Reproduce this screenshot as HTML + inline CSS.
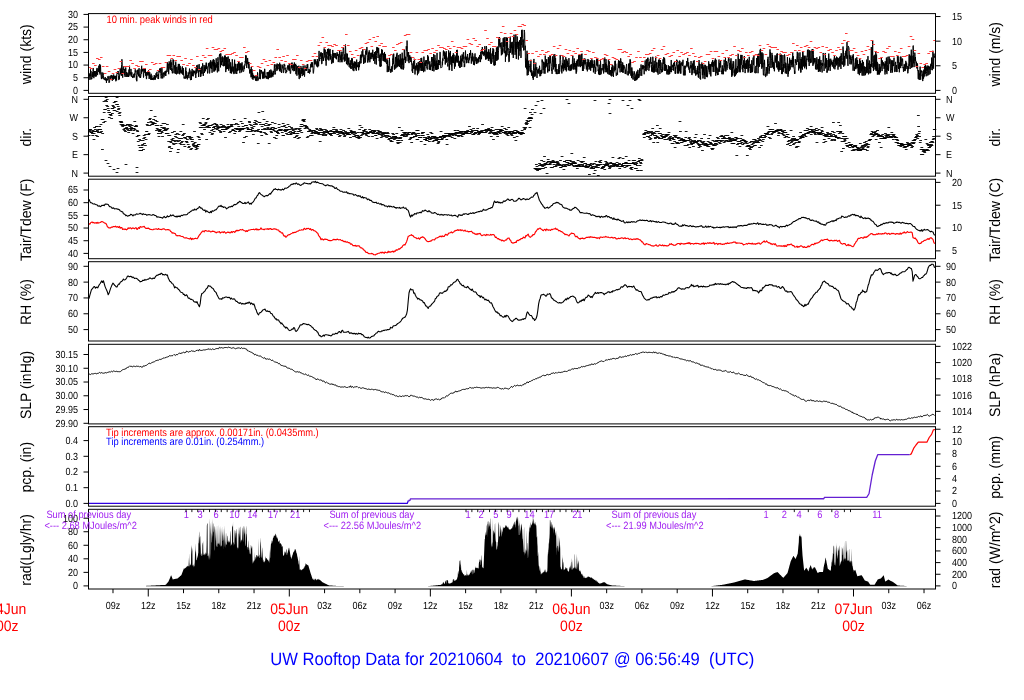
<!DOCTYPE html>
<html><head><meta charset="utf-8"><title>UW Rooftop Data</title>
<style>html,body{margin:0;padding:0;background:#fff;}svg{display:block;}</style></head>
<body><svg width="1024" height="700" viewBox="0 0 1024 700" font-family="'Liberation Sans', Arial, sans-serif" fill="#000" text-rendering="geometricPrecision">
<rect width="1024" height="700" fill="#fff"/>
<path d="M88.8,78.97 L89,79.84 L89.19,73.41 L89.39,76.19 L89.58,75.49 L89.78,74.73 L89.98,78.64 L90.17,79.55 L90.37,73.64 L90.56,69.41 L90.76,76.09 L90.96,71.08 L91.15,74 L91.35,79.25 L91.54,78.33 L91.74,79.15 L91.94,78.73 L92.13,75.63 L92.33,74.16 L92.52,77.04 L92.72,72.13 L92.92,76.01 L93.11,67.98 L93.31,68.95 L93.5,75.02 L93.7,77.48 L93.9,78.17 L94.09,72.36 L94.29,72.82 L94.48,71.01 L94.68,75.46 L94.88,76.32 L95.07,72.73 L95.27,76.49 L95.46,72.45 L95.66,71.06 L95.85,72.45 L96.05,72.02 L96.25,76.45 L96.44,74.24 L96.64,69.72 L96.83,70.28 L97.03,67.93 L97.23,71.59 L97.42,74.85 L97.62,75.1 L97.81,70.87 L98.01,69.47 L98.21,68.55 L98.4,71.9 L98.6,68.54 L98.79,65.79 L98.99,65.58 L99.19,70.87 L99.38,68.36 L99.58,72.81 L99.77,64.02 L99.97,74.47 L100.17,69.44 L100.36,69.17 L100.56,65.3 L100.75,71.82 L100.95,73.05 L101.15,76.63 L101.34,78.51 L101.54,79.1 L101.73,74.63 L101.93,72.46 L102.13,72.33 L102.32,78.42 L102.52,78.06 L102.71,77.16 L102.91,75.3 L103.11,72.81 L103.3,75.36 L103.5,75.58 L103.69,79.14 L103.89,78.89 L104.09,78.24 L104.28,79.89 L104.48,79.78 L104.67,78.88 L104.87,78.49 L105.07,77.55 L105.26,77.02 L105.46,80.29 L105.65,80.05 L105.85,79.04 L106.05,80.4 L106.24,78.41 L106.44,82.86 L106.63,78.91 L106.83,78.74 L107.03,78.99 L107.22,79.92 L107.42,80.38 L107.61,78.34 L107.81,76.57 L108.01,75.97 L108.2,76.02 L108.4,78.23 L108.59,77.55 L108.79,80.84 L108.99,82.93 L109.18,82.63 L109.38,82.43 L109.57,82.15 L109.77,76.89 L109.96,75.93 L110.16,76.77 L110.36,77.76 L110.55,78.42 L110.75,79.68 L110.94,75.54 L111.14,77.91 L111.34,75.38 L111.53,76.65 L111.73,76.34 L111.92,74.91 L112.12,77.64 L112.32,80.81 L112.51,76.26 L112.71,77.11 L112.9,76.06 L113.1,79.88 L113.3,78.5 L113.49,79.12 L113.69,74.48 L113.88,78.94 L114.08,76.87 L114.28,76.55 L114.47,78.44 L114.67,75.83 L114.86,77.19 L115.06,76.77 L115.26,77.92 L115.45,79.49 L115.65,76 L115.84,81.28 L116.04,80.41 L116.24,75.5 L116.43,78.83 L116.63,80.26 L116.82,73.97 L117.02,73.67 L117.22,72.52 L117.41,74 L117.61,72.13 L117.8,71.43 L118,73.9 L118.2,71.09 L118.39,75.49 L118.59,76.88 L118.78,79.93 L118.98,79.86 L119.18,75.79 L119.37,79.09 L119.57,76.25 L119.76,73.19 L119.96,72.69 L120.16,68.72 L120.35,70.91 L120.55,72.02 L120.74,74.32 L120.94,70.79 L121.14,67.8 L121.33,75.83 L121.53,66.05 L121.72,64.61 L121.92,59.25 L122.12,62.85 L122.31,67.73 L122.51,72.31 L122.7,77.68 L122.9,71.67 L123.09,73.01 L123.29,67.49 L123.49,66.46 L123.68,66.48 L123.88,70 L124.07,69.05 L124.27,71.03 L124.47,74.57 L124.66,75.18 L124.86,69.29 L125.05,76.86 L125.25,69.79 L125.45,70.83 L125.64,67.59 L125.84,67.5 L126.03,71.28 L126.23,76.91 L126.43,73.68 L126.62,72.05 L126.82,74.83 L127.01,73.24 L127.21,76.94 L127.41,75.53 L127.6,76.03 L127.8,73.53 L127.99,72.67 L128.19,73.39 L128.39,76.99 L128.58,74.82 L128.78,76.67 L128.97,69.5 L129.17,73.55 L129.37,71.22 L129.56,65.76 L129.76,75.26 L129.95,74.89 L130.15,75.39 L130.35,72.34 L130.54,72.54 L130.74,74.14 L130.93,68.92 L131.13,71.13 L131.33,76.72 L131.52,72.85 L131.72,73.47 L131.91,72.33 L132.11,75.64 L132.31,76.57 L132.5,77.69 L132.7,76.26 L132.89,77.84 L133.09,77.88 L133.29,75.41 L133.48,76.8 L133.68,75.75 L133.87,73.88 L134.07,75.51 L134.27,77.51 L134.46,73.47 L134.66,75.15 L134.85,75.21 L135.05,70.26 L135.25,69.3 L135.44,70.51 L135.64,72.25 L135.83,72.29 L136.03,70.47 L136.23,78.15 L136.42,80.08 L136.62,75.71 L136.81,81.25 L137.01,75.65 L137.2,73.06 L137.4,70.38 L137.6,70.13 L137.79,74.34 L137.99,69.64 L138.18,72.53 L138.38,73.59 L138.58,76.23 L138.77,71.32 L138.97,68.42 L139.16,68.17 L139.36,76.66 L139.56,77.44 L139.75,75.43 L139.95,74.77 L140.14,74.17 L140.34,75.47 L140.54,77.99 L140.73,76.98 L140.93,75.03 L141.12,69.22 L141.32,73.77 L141.52,66.76 L141.71,65.78 L141.91,71.63 L142.1,71.49 L142.3,68.99 L142.5,69.29 L142.69,70.98 L142.89,68.82 L143.08,72.32 L143.28,72.68 L143.48,77.59 L143.67,77.06 L143.87,68.88 L144.06,70.58 L144.26,69.7 L144.46,68.8 L144.65,71.19 L144.85,72.64 L145.04,70.61 L145.24,73.15 L145.44,68.66 L145.63,75.62 L145.83,72.28 L146.02,75.17 L146.22,76.25 L146.42,79.12 L146.61,78.42 L146.81,71.98 L147,75.44 L147.2,74.01 L147.4,74.25 L147.59,72.48 L147.79,71.74 L147.98,71.69 L148.18,75.47 L148.38,72.95 L148.57,70.45 L148.77,73.96 L148.96,74.46 L149.16,78.99 L149.36,74.86 L149.55,75.41 L149.75,72.24 L149.94,77.73 L150.14,76.92 L150.33,75.38 L150.53,75.71 L150.73,79.78 L150.92,76.49 L151.12,73.75 L151.31,76.53 L151.51,79.78 L151.71,77.45 L151.9,75.58 L152.1,79.39 L152.29,79.78 L152.49,78.41 L152.69,79.78 L152.88,78.22 L153.08,79.78 L153.27,79.78 L153.47,79.78 L153.67,77.48 L153.86,78.62 L154.06,77.51 L154.25,75.06 L154.45,77.76 L154.65,79.56 L154.84,76.33 L155.04,79.48 L155.23,76.32 L155.43,79.4 L155.63,76.1 L155.82,76.53 L156.02,73.28 L156.21,77.53 L156.41,76.16 L156.61,73.23 L156.8,73.03 L157,71.77 L157.19,76.1 L157.39,75.78 L157.59,76 L157.78,74.85 L157.98,78.92 L158.17,78.93 L158.37,73.86 L158.57,78.94 L158.76,74.84 L158.96,71.03 L159.15,72.29 L159.35,71.15 L159.55,68.67 L159.74,72.05 L159.94,72.18 L160.13,71.71 L160.33,68.18 L160.53,71.7 L160.72,73.18 L160.92,76.49 L161.11,78.47 L161.31,78.32 L161.51,75.25 L161.7,68.79 L161.9,67.48 L162.09,68.8 L162.29,73.78 L162.49,76.65 L162.68,78.43 L162.88,73.94 L163.07,73.1 L163.27,74.17 L163.47,72.55 L163.66,72.79 L163.86,77.32 L164.05,76.39 L164.25,72.65 L164.44,72.9 L164.64,72.87 L164.84,74.7 L165.03,71.3 L165.23,75.51 L165.42,71.45 L165.62,71.19 L165.82,75.91 L166.01,70.77 L166.21,72.58 L166.4,70.71 L166.6,69.88 L166.8,69.99 L166.99,69.33 L167.19,64.98 L167.38,62.16 L167.58,68.73 L167.78,68.91 L167.97,71.9 L168.17,63.79 L168.36,66.69 L168.56,73.3 L168.76,74.19 L168.95,67.87 L169.15,61.35 L169.34,65.23 L169.54,64.27 L169.74,64.7 L169.93,68.56 L170.13,62.91 L170.32,69.96 L170.52,65.79 L170.72,59.58 L170.91,60.23 L171.11,65.29 L171.3,62.34 L171.5,67.78 L171.7,70.85 L171.89,68.65 L172.09,71.07 L172.28,73.29 L172.48,73.28 L172.68,70.55 L172.87,67.07 L173.07,59.32 L173.26,64.78 L173.46,63.61 L173.66,60.02 L173.85,70.57 L174.05,73.22 L174.24,69.68 L174.44,65.39 L174.64,66.98 L174.83,68.91 L175.03,70.97 L175.22,73.55 L175.42,73.81 L175.62,62.42 L175.81,61.64 L176.01,66.08 L176.2,72.76 L176.4,74.26 L176.6,74.36 L176.79,67.01 L176.99,69.28 L177.18,69.53 L177.38,72.28 L177.57,73.52 L177.77,70.31 L177.97,66.03 L178.16,65.76 L178.36,63.91 L178.55,69.98 L178.75,70.05 L178.95,73.67 L179.14,66.32 L179.34,63.93 L179.53,70.84 L179.73,74.27 L179.93,71.32 L180.12,65.89 L180.32,71.18 L180.51,67.87 L180.71,72.66 L180.91,69.97 L181.1,72.18 L181.3,71.3 L181.49,73.42 L181.69,69.57 L181.89,68.98 L182.08,67.18 L182.28,66.44 L182.47,66.53 L182.67,74.32 L182.87,69.76 L183.06,74.69 L183.26,68.02 L183.45,73.56 L183.65,75.21 L183.85,76.51 L184.04,78.46 L184.24,78.51 L184.43,77.11 L184.63,76.68 L184.83,76.78 L185.02,76.99 L185.22,78.76 L185.41,69.84 L185.61,73.8 L185.81,67.46 L186,77.8 L186.2,71.11 L186.39,76.62 L186.59,78.05 L186.79,77.68 L186.98,75.26 L187.18,79.25 L187.37,79.3 L187.57,75.5 L187.77,75.6 L187.96,76.45 L188.16,72.4 L188.35,73.05 L188.55,76.11 L188.75,76.6 L188.94,78.1 L189.14,71.6 L189.33,70.48 L189.53,68.58 L189.73,73.67 L189.92,70.28 L190.12,75.06 L190.31,78.86 L190.51,80.08 L190.71,80.05 L190.9,78.03 L191.1,71.55 L191.29,74.69 L191.49,79.89 L191.68,73.5 L191.88,70.55 L192.08,68.89 L192.27,69.05 L192.47,74.69 L192.66,76.09 L192.86,72.68 L193.06,76.18 L193.25,76.28 L193.45,70.49 L193.64,72.73 L193.84,72.14 L194.04,71.07 L194.23,73.28 L194.43,72.32 L194.62,71.34 L194.82,73.05 L195.02,70.59 L195.21,74.58 L195.41,74.9 L195.6,73.32 L195.8,77.92 L196,71.33 L196.19,68.17 L196.39,73.48 L196.58,65.43 L196.78,66.19 L196.98,69.54 L197.17,70.19 L197.37,71.22 L197.56,70.32 L197.76,64.84 L197.96,65.47 L198.15,72.84 L198.35,70.81 L198.54,77.03 L198.74,72.27 L198.94,69.38 L199.13,64.15 L199.33,67.34 L199.52,67.39 L199.72,67.22 L199.92,71.68 L200.11,68.09 L200.31,76.75 L200.5,73.79 L200.7,70.02 L200.9,76.46 L201.09,72.2 L201.29,73.38 L201.48,69.51 L201.68,66.66 L201.88,66.51 L202.07,73.67 L202.27,68.82 L202.46,66.74 L202.66,63.31 L202.86,70.39 L203.05,74.92 L203.25,76.01 L203.44,75.49 L203.64,71.27 L203.84,69.2 L204.03,64.96 L204.23,68.64 L204.42,72.99 L204.62,67 L204.82,68.9 L205.01,69.08 L205.21,65.55 L205.4,71.3 L205.6,68.12 L205.79,66.79 L205.99,64.72 L206.19,62.57 L206.38,69.07 L206.58,63.11 L206.77,68.54 L206.97,66.47 L207.17,68.83 L207.36,70.52 L207.56,73.37 L207.75,73.37 L207.95,69.02 L208.15,66.72 L208.34,65.74 L208.54,63.42 L208.73,66.38 L208.93,65.19 L209.13,62.84 L209.32,72.36 L209.52,73.37 L209.71,73.37 L209.91,69.52 L210.11,61.78 L210.3,66.26 L210.5,68.2 L210.69,60.17 L210.89,63.2 L211.09,64.1 L211.28,66.95 L211.48,65.8 L211.67,69.01 L211.87,61.67 L212.07,72.75 L212.26,63.89 L212.46,62.45 L212.65,61.88 L212.85,64.54 L213.05,59.75 L213.24,66.34 L213.44,59.3 L213.63,59.99 L213.83,71.63 L214.03,59.89 L214.22,65.23 L214.42,62.11 L214.61,71.29 L214.81,67.51 L215.01,62.88 L215.2,67.89 L215.4,64.81 L215.59,70.25 L215.79,66.95 L215.99,64.59 L216.18,58.32 L216.38,63.79 L216.57,67.52 L216.77,64.71 L216.97,64.8 L217.16,69.17 L217.36,72.38 L217.55,61.93 L217.75,61.63 L217.95,57.32 L218.14,60.36 L218.34,61.61 L218.53,65.33 L218.73,71.27 L218.92,62.08 L219.12,60.39 L219.32,55.79 L219.51,54.39 L219.71,55.97 L219.9,53.86 L220.1,57.59 L220.3,64.19 L220.49,67.37 L220.69,53.34 L220.88,53.45 L221.08,61.5 L221.28,65.13 L221.47,61.1 L221.67,65.05 L221.86,57.35 L222.06,58.92 L222.26,60.24 L222.45,62.15 L222.65,56.44 L222.84,59.92 L223.04,65.88 L223.24,64.53 L223.43,65.94 L223.63,66.26 L223.82,57.53 L224.02,58.94 L224.22,65.88 L224.41,60.32 L224.61,55.68 L224.8,56.59 L225,65.72 L225.2,55.52 L225.39,56.64 L225.59,62.65 L225.78,72.08 L225.98,66.73 L226.18,67.26 L226.37,57.32 L226.57,69.31 L226.76,58.67 L226.96,58.96 L227.16,57.35 L227.35,68.73 L227.55,69 L227.74,60.53 L227.94,61.69 L228.14,56.43 L228.33,65.38 L228.53,66.93 L228.72,70.64 L228.92,64.56 L229.12,66.24 L229.31,58.92 L229.51,59.77 L229.7,62.19 L229.9,68.59 L230.1,65.94 L230.29,73.1 L230.49,71.56 L230.68,62.34 L230.88,66.44 L231.08,73.27 L231.27,73.31 L231.47,68.21 L231.66,73.39 L231.86,66.61 L232.06,70.98 L232.25,59.26 L232.45,61.23 L232.64,62.89 L232.84,68.25 L233.03,71.87 L233.23,66.64 L233.43,71.09 L233.62,73.81 L233.82,73.85 L234.01,73.89 L234.21,73.82 L234.41,65.04 L234.6,59.72 L234.8,64.88 L234.99,72.18 L235.19,73.55 L235.39,64.42 L235.58,63.87 L235.78,71.31 L235.97,71.02 L236.17,68.48 L236.37,73.17 L236.56,72.67 L236.76,73.97 L236.95,72.54 L237.15,64.05 L237.35,71.06 L237.54,63.81 L237.74,67.35 L237.93,68.87 L238.13,70.38 L238.33,68.48 L238.52,61.03 L238.72,64.09 L238.91,61.73 L239.11,70.2 L239.31,70.14 L239.5,63.78 L239.7,63.49 L239.89,73.16 L240.09,68.89 L240.29,65.74 L240.48,69.54 L240.68,63.37 L240.87,63.35 L241.07,67.32 L241.27,63.83 L241.46,72.32 L241.66,72.34 L241.85,69.78 L242.05,62.34 L242.25,70.12 L242.44,70.16 L242.64,66.67 L242.83,68.25 L243.03,71.71 L243.23,71.62 L243.42,71.53 L243.62,71.44 L243.81,71.34 L244.01,65.57 L244.21,68.77 L244.4,69.13 L244.6,65.65 L244.79,64.52 L244.99,65.42 L245.19,61.12 L245.38,61.99 L245.58,55.43 L245.77,63.27 L245.97,58.29 L246.16,55.46 L246.36,63.43 L246.56,64.6 L246.75,68 L246.95,61.07 L247.14,64.1 L247.34,62.14 L247.54,57.96 L247.73,58.46 L247.93,63.55 L248.12,62.07 L248.32,65.18 L248.52,61.94 L248.71,68.38 L248.91,62.12 L249.1,64.13 L249.3,69.34 L249.5,69.9 L249.69,73.51 L249.89,73.29 L250.08,69.18 L250.28,70.84 L250.48,72.4 L250.67,69.7 L250.87,72.82 L251.06,77.34 L251.26,66.96 L251.46,76.93 L251.65,73.23 L251.85,73.86 L252.04,69.32 L252.24,78.9 L252.44,77.15 L252.63,72.92 L252.83,75.26 L253.02,79.72 L253.22,74.87 L253.42,76 L253.61,78.03 L253.81,77.02 L254,76.03 L254.2,75.84 L254.4,76.45 L254.59,77.78 L254.79,76.46 L254.98,78.3 L255.18,76.26 L255.38,79.88 L255.57,79.11 L255.77,80.75 L255.96,78.56 L256.16,80.43 L256.36,76.63 L256.55,76.41 L256.75,78.55 L256.94,81.09 L257.14,79.89 L257.34,78.61 L257.53,72.35 L257.73,73.23 L257.92,80.21 L258.12,80.43 L258.32,80.32 L258.51,79.3 L258.71,78.55 L258.9,79.05 L259.1,77.32 L259.3,78.78 L259.49,73.97 L259.69,69.35 L259.88,69.72 L260.08,69.98 L260.27,72.75 L260.47,79.17 L260.67,76.1 L260.86,70.18 L261.06,71.9 L261.25,71.91 L261.45,70.07 L261.65,71.8 L261.84,72.96 L262.04,73.65 L262.23,71.66 L262.43,74.23 L262.63,78.63 L262.82,73.8 L263.02,72.46 L263.21,76.14 L263.41,73.94 L263.61,78.38 L263.8,71.68 L264,77.44 L264.19,78.24 L264.39,75.86 L264.59,68.89 L264.78,68.89 L264.98,71.93 L265.17,74.15 L265.37,77.09 L265.57,76.23 L265.76,76.03 L265.96,77.49 L266.15,75.83 L266.35,78.69 L266.55,76.13 L266.74,77.72 L266.94,75.58 L267.13,72.17 L267.33,73.94 L267.53,72.45 L267.72,78.8 L267.92,79.08 L268.11,76.68 L268.31,79.18 L268.51,76.79 L268.7,71.97 L268.9,77.19 L269.09,71.64 L269.29,77.94 L269.49,73 L269.68,70.26 L269.88,74.54 L270.07,73.46 L270.27,77.55 L270.47,74.98 L270.66,74.45 L270.86,69.55 L271.05,73.61 L271.25,73.47 L271.45,72.48 L271.64,77.37 L271.84,70.68 L272.03,71.79 L272.23,75.97 L272.43,72.78 L272.62,76 L272.82,76.76 L273.01,76.56 L273.21,74.17 L273.4,74.95 L273.6,70.95 L273.8,72.9 L273.99,71.72 L274.19,68.86 L274.38,64.32 L274.58,68.54 L274.78,72.11 L274.97,74.53 L275.17,73.14 L275.36,74.12 L275.56,72.3 L275.76,67.4 L275.95,64.35 L276.15,66.21 L276.34,65.31 L276.54,68.31 L276.74,67.76 L276.93,70.91 L277.13,63.52 L277.32,65.32 L277.52,66.6 L277.72,69.67 L277.91,65.87 L278.11,65.94 L278.3,64.13 L278.5,66.62 L278.7,67.71 L278.89,68.92 L279.09,68.41 L279.28,67.81 L279.48,71.23 L279.68,62.73 L279.87,69.85 L280.07,68.88 L280.26,65.46 L280.46,70.49 L280.66,64.37 L280.85,65.21 L281.05,71.96 L281.24,70.61 L281.44,73.01 L281.64,71.64 L281.83,68.46 L282.03,67.11 L282.22,64.7 L282.42,67.31 L282.62,68.32 L282.81,67.26 L283.01,66.42 L283.2,72.5 L283.4,72.87 L283.6,72.85 L283.79,68.17 L283.99,64.08 L284.18,63.83 L284.38,66.06 L284.58,65.83 L284.77,64.76 L284.97,69.62 L285.16,67.8 L285.36,71.74 L285.56,72.95 L285.75,73.01 L285.95,73.06 L286.14,73.12 L286.34,72.33 L286.54,70.35 L286.73,71.95 L286.93,69.64 L287.12,67.26 L287.32,67.48 L287.51,67.47 L287.71,65.45 L287.91,69.67 L288.1,69.62 L288.3,67.75 L288.49,65.53 L288.69,68.94 L288.89,67.78 L289.08,70.69 L289.28,64.03 L289.47,70.44 L289.67,66.76 L289.87,69.42 L290.06,70.53 L290.26,73.57 L290.45,73.51 L290.65,73.46 L290.85,68.97 L291.04,65.57 L291.24,66.22 L291.43,66.83 L291.63,63.27 L291.83,68.33 L292.02,62.48 L292.22,64.44 L292.41,68.37 L292.61,70.34 L292.81,69.04 L293,68.6 L293.2,65.94 L293.39,67.81 L293.59,64.56 L293.79,71.23 L293.98,70.53 L294.18,65.6 L294.37,62.46 L294.57,70.97 L294.77,64.28 L294.96,66.18 L295.16,65.23 L295.35,65.49 L295.55,64.16 L295.75,63.84 L295.94,74.25 L296.14,65.14 L296.33,69.05 L296.53,68.47 L296.73,74.81 L296.92,75.7 L297.12,75.12 L297.31,66.37 L297.51,67.39 L297.71,66.45 L297.9,66.48 L298.1,67.68 L298.29,71.65 L298.49,70.2 L298.69,74.55 L298.88,65.7 L299.08,78.88 L299.27,79.04 L299.47,68.59 L299.67,73.05 L299.86,72.67 L300.06,75.61 L300.25,74.68 L300.45,77.67 L300.64,69.66 L300.84,66.15 L301.04,66.11 L301.23,69.26 L301.43,71.84 L301.62,73.72 L301.82,68.11 L302.02,69.65 L302.21,76.1 L302.41,69.17 L302.6,68.7 L302.8,72.34 L303,65.72 L303.19,65.68 L303.39,75.1 L303.58,74.46 L303.78,74 L303.98,69.81 L304.17,73.11 L304.37,75.21 L304.56,76.64 L304.76,73.06 L304.96,65.42 L305.15,67.48 L305.35,69.24 L305.54,68.86 L305.74,70.96 L305.94,70.7 L306.13,69.84 L306.33,67.12 L306.52,70.83 L306.72,70.35 L306.92,66.51 L307.11,64.52 L307.31,67.31 L307.5,67.98 L307.7,64.1 L307.9,66.74 L308.09,72.98 L308.29,71.88 L308.48,71.43 L308.68,72.97 L308.88,71.4 L309.07,69.01 L309.27,71.35 L309.46,73.42 L309.66,73.54 L309.86,69.96 L310.05,71.93 L310.25,67.45 L310.44,67.68 L310.64,66.03 L310.84,64.13 L311.03,67.37 L311.23,63.53 L311.42,62.35 L311.62,67.09 L311.82,66.89 L312.01,65.78 L312.21,67.08 L312.4,62.3 L312.6,66.66 L312.8,66.34 L312.99,68.53 L313.19,73.26 L313.38,73.42 L313.58,72.37 L313.78,69.96 L313.97,67.83 L314.17,59.66 L314.36,59.36 L314.56,61.62 L314.75,64.42 L314.95,61.21 L315.15,64.15 L315.34,59.41 L315.54,61.52 L315.73,62.91 L315.93,63.03 L316.13,63.62 L316.32,65.53 L316.52,65.68 L316.71,65.68 L316.91,61.26 L317.11,66.75 L317.3,59 L317.5,66.54 L317.69,67.27 L317.89,66.91 L318.09,61.67 L318.28,65.87 L318.48,66.16 L318.67,65.88 L318.87,54.6 L319.07,50.9 L319.26,58.62 L319.46,59.86 L319.65,61.12 L319.85,58.05 L320.05,58.99 L320.24,54.05 L320.44,55.45 L320.63,53.26 L320.83,56.48 L321.03,52.08 L321.22,53.98 L321.42,53.49 L321.61,63.87 L321.81,63.96 L322.01,63.89 L322.2,59.6 L322.4,58.84 L322.59,53 L322.79,57.81 L322.99,56.88 L323.18,60.97 L323.38,58.03 L323.57,60.62 L323.77,57.2 L323.97,48.77 L324.16,48.41 L324.36,48.9 L324.55,54.76 L324.75,49.78 L324.95,57.61 L325.14,49.66 L325.34,59.07 L325.53,60.41 L325.73,60.77 L325.93,58.23 L326.12,65.63 L326.32,55.29 L326.51,57.72 L326.71,51.91 L326.91,52.66 L327.1,53.35 L327.3,52.55 L327.49,48.95 L327.69,55.55 L327.88,59.56 L328.08,56.81 L328.28,57.01 L328.47,59.66 L328.67,48.6 L328.86,60.51 L329.06,54.35 L329.26,50.36 L329.45,56.07 L329.65,53.34 L329.84,55.37 L330.04,48.99 L330.24,59.46 L330.43,56.61 L330.63,59.27 L330.82,54.23 L331.02,57 L331.22,56.57 L331.41,61.32 L331.61,63.74 L331.8,63.81 L332,60.8 L332.2,60.03 L332.39,62.38 L332.59,56.42 L332.78,49.95 L332.98,60.86 L333.18,62.73 L333.37,62.7 L333.57,53.11 L333.76,53.49 L333.96,57.47 L334.16,57.06 L334.35,55.07 L334.55,55.02 L334.74,52.95 L334.94,53.61 L335.14,57.96 L335.33,53.72 L335.53,54.35 L335.72,53.18 L335.92,54.68 L336.12,58.78 L336.31,56.95 L336.51,59.26 L336.7,54.27 L336.9,54.11 L337.1,52.3 L337.29,56 L337.49,53.81 L337.68,55.22 L337.88,56.04 L338.08,53.97 L338.27,62.1 L338.47,57.92 L338.66,55.76 L338.86,57.71 L339.06,56.82 L339.25,55.96 L339.45,51.88 L339.64,50.33 L339.84,60.95 L340.04,62.3 L340.23,58.76 L340.43,59.74 L340.62,55.1 L340.82,54.49 L341.02,53.54 L341.21,51.73 L341.41,55.93 L341.6,61.6 L341.8,54.35 L341.99,62.29 L342.19,60.18 L342.39,57.59 L342.58,56.63 L342.78,52.4 L342.97,53.15 L343.17,47.73 L343.37,47.52 L343.56,47.3 L343.76,50.48 L343.95,59.52 L344.15,56.86 L344.35,61.58 L344.54,59.33 L344.74,54.28 L344.93,55.99 L345.13,60.79 L345.33,45.13 L345.52,44.48 L345.72,51.23 L345.91,57.47 L346.11,61.17 L346.31,61.78 L346.5,64.16 L346.7,60.06 L346.89,53.33 L347.09,58.5 L347.29,53.98 L347.48,61.72 L347.68,58.62 L347.87,65.26 L348.07,57.93 L348.27,63.71 L348.46,60.58 L348.66,60.31 L348.85,57.64 L349.05,66.92 L349.25,66.76 L349.44,67.33 L349.64,66.69 L349.83,63.24 L350.03,65.51 L350.23,60.27 L350.42,62.24 L350.62,68.42 L350.81,66.85 L351.01,66.29 L351.21,68.96 L351.4,65.49 L351.6,58.2 L351.79,58.35 L351.99,59.19 L352.19,61.36 L352.38,58.47 L352.58,68.31 L352.77,69.12 L352.97,70.36 L353.17,66.57 L353.36,63.24 L353.56,66.33 L353.75,71.04 L353.95,71.16 L354.15,61.49 L354.34,65.32 L354.54,64.85 L354.73,67.97 L354.93,61.64 L355.12,65.64 L355.32,64.36 L355.52,61.96 L355.71,62.94 L355.91,69.37 L356.1,63.46 L356.3,70.77 L356.5,62.35 L356.69,59.59 L356.89,66.25 L357.08,65.47 L357.28,66.56 L357.48,67.2 L357.67,64.75 L357.87,63.29 L358.06,62.13 L358.26,65.48 L358.46,64.73 L358.65,70.26 L358.85,68.24 L359.04,62.05 L359.24,65.83 L359.44,67.13 L359.63,64.06 L359.83,61.13 L360.02,63.54 L360.22,59.02 L360.42,55.03 L360.61,59.72 L360.81,54.67 L361,63.21 L361.2,58.68 L361.4,58.06 L361.59,54.24 L361.79,53.82 L361.98,51.27 L362.18,52.25 L362.38,56.46 L362.57,55.72 L362.77,49.26 L362.96,53.57 L363.16,58.22 L363.36,58.58 L363.55,63.87 L363.75,58.93 L363.94,54.74 L364.14,55.18 L364.34,58.93 L364.53,57.84 L364.73,63.08 L364.92,62.94 L365.12,62.81 L365.32,60.55 L365.51,62.04 L365.71,51.09 L365.9,54.19 L366.1,49.36 L366.3,52.01 L366.49,54.55 L366.69,52.94 L366.88,46.98 L367.08,50.65 L367.28,57.2 L367.47,62.33 L367.67,61.59 L367.86,62.32 L368.06,62.31 L368.26,55.42 L368.45,60.25 L368.65,52.44 L368.84,60.12 L369.04,51.81 L369.23,50.35 L369.43,53.69 L369.63,52.39 L369.82,62.25 L370.02,60.85 L370.21,57.1 L370.41,57.4 L370.61,58.99 L370.8,52.91 L371,58.62 L371.19,59.11 L371.39,52.93 L371.59,53.28 L371.78,53.01 L371.98,57.16 L372.17,52.64 L372.37,52.14 L372.57,57.33 L372.76,49.74 L372.96,53.93 L373.15,59.16 L373.35,58.02 L373.55,60.87 L373.74,54.22 L373.94,58.99 L374.13,58.92 L374.33,56.07 L374.53,52.12 L374.72,60.24 L374.92,63.8 L375.11,53.35 L375.31,56.72 L375.51,59.07 L375.7,51.13 L375.9,55.41 L376.09,57.74 L376.29,64.54 L376.49,55.37 L376.68,47.23 L376.88,47.27 L377.07,48.36 L377.27,51.7 L377.47,47.45 L377.66,52.83 L377.86,49.79 L378.05,58.03 L378.25,50.55 L378.45,52.25 L378.64,47.83 L378.84,51.15 L379.03,56.34 L379.23,61.13 L379.43,57.45 L379.62,55.37 L379.82,66.37 L380.01,66.47 L380.21,53.66 L380.41,57.41 L380.6,66.76 L380.8,64.08 L380.99,65.03 L381.19,66.21 L381.39,62.01 L381.58,49.3 L381.78,53.98 L381.97,50.17 L382.17,53.21 L382.36,49.81 L382.56,55.22 L382.76,57.03 L382.95,60.67 L383.15,59.91 L383.34,54.03 L383.54,56.49 L383.74,61.19 L383.93,52.97 L384.13,54.53 L384.32,60.85 L384.52,51.97 L384.72,61.59 L384.91,59.12 L385.11,61.44 L385.3,57.59 L385.5,53.94 L385.7,62.25 L385.89,58.94 L386.09,61.72 L386.28,62.25 L386.48,63.76 L386.68,62.65 L386.87,61.46 L387.07,59.27 L387.26,72.14 L387.46,64.67 L387.66,60.45 L387.85,67.21 L388.05,65.91 L388.24,66.12 L388.44,71.53 L388.64,67.19 L388.83,71.65 L389.03,65.59 L389.22,63.59 L389.42,57.89 L389.62,61.4 L389.81,68.99 L390.01,69.82 L390.2,69.09 L390.4,70.64 L390.6,70.36 L390.79,72.77 L390.99,68.97 L391.18,71.39 L391.38,68.61 L391.58,69.85 L391.77,66.32 L391.97,71.52 L392.16,71.86 L392.36,69.35 L392.56,62.89 L392.75,58.63 L392.95,59.74 L393.14,54.72 L393.34,63.78 L393.54,60.59 L393.73,53.67 L393.93,63.91 L394.12,65.6 L394.32,69.7 L394.52,69.51 L394.71,64.87 L394.91,69.15 L395.1,66.4 L395.3,59.61 L395.5,56.91 L395.69,62.64 L395.89,68.24 L396.08,64.51 L396.28,63.07 L396.47,54.54 L396.67,61.84 L396.87,67.33 L397.06,52.79 L397.26,61.42 L397.45,60.84 L397.65,66.61 L397.85,58.73 L398.04,61.45 L398.24,66.07 L398.43,65.02 L398.63,57.41 L398.83,54.99 L399.02,61.91 L399.22,61.45 L399.41,67.03 L399.61,59.77 L399.81,60.17 L400,62.96 L400.2,53.94 L400.39,58 L400.59,65.17 L400.79,68.31 L400.98,66.07 L401.18,60.37 L401.37,69.19 L401.57,63.12 L401.77,58.58 L401.96,61.5 L402.16,52.69 L402.35,61.75 L402.55,64.6 L402.75,58 L402.94,69.28 L403.14,58.95 L403.33,69.51 L403.53,66.14 L403.73,68.3 L403.92,65.93 L404.12,54.05 L404.31,49.59 L404.51,53.06 L404.71,59.96 L404.9,59.53 L405.1,59.66 L405.29,56.7 L405.49,62.88 L405.69,57.01 L405.88,61.27 L406.08,58.66 L406.27,46.19 L406.47,50.57 L406.67,47.55 L406.86,48.3 L407.06,40.56 L407.25,45.73 L407.45,56.48 L407.65,52.34 L407.84,53.7 L408.04,60.98 L408.23,61.4 L408.43,52.98 L408.63,52.05 L408.82,56.36 L409.02,63.11 L409.21,55.52 L409.41,59.61 L409.61,59.86 L409.8,55.34 L410,59.14 L410.19,57.9 L410.39,57.07 L410.58,57.37 L410.78,61.95 L410.98,56.87 L411.17,57.86 L411.37,62.22 L411.56,61.07 L411.76,65.21 L411.96,65.25 L412.15,71.31 L412.35,68.92 L412.54,71.55 L412.74,72.93 L412.94,63.44 L413.13,68.59 L413.33,64.36 L413.52,61.04 L413.72,68.31 L413.92,67.01 L414.11,69.12 L414.31,58.69 L414.5,58.93 L414.7,61.21 L414.9,74.37 L415.09,74.47 L415.29,69.19 L415.48,65.73 L415.68,69.54 L415.88,68.94 L416.07,70.44 L416.27,65.74 L416.46,68.47 L416.66,63.22 L416.86,64.47 L417.05,66.44 L417.25,65.54 L417.44,75.2 L417.64,68.39 L417.84,65.11 L418.03,73.79 L418.23,62 L418.42,67.99 L418.62,71.5 L418.82,72.44 L419.01,69.44 L419.21,68.69 L419.4,61.12 L419.6,63.87 L419.8,67.25 L419.99,70.62 L420.19,62.85 L420.38,67.51 L420.58,62.64 L420.78,67.35 L420.97,58.06 L421.17,66.67 L421.36,70.92 L421.56,58.62 L421.76,57.84 L421.95,61.42 L422.15,61.29 L422.34,70.93 L422.54,62.15 L422.74,63.06 L422.93,66.88 L423.13,67.02 L423.32,67.24 L423.52,72.16 L423.71,62.59 L423.91,56.59 L424.11,60.87 L424.3,61.7 L424.5,62.89 L424.69,70.07 L424.89,71.38 L425.09,64.72 L425.28,60.29 L425.48,62.9 L425.67,66.01 L425.87,63.23 L426.07,62.9 L426.26,62.81 L426.46,60.22 L426.65,64.33 L426.85,68.06 L427.05,67.55 L427.24,69.61 L427.44,61.59 L427.63,55.08 L427.83,56.27 L428.03,64.15 L428.22,63.39 L428.42,56.62 L428.61,60.28 L428.81,61.36 L429.01,65.59 L429.2,69.32 L429.4,68.37 L429.59,69.44 L429.79,61.36 L429.99,69.33 L430.18,69.77 L430.38,65.8 L430.57,70 L430.77,70.11 L430.97,64.45 L431.16,66.64 L431.36,62.56 L431.55,56.99 L431.75,57.41 L431.95,60.46 L432.14,57 L432.34,71.01 L432.53,68.89 L432.73,70.71 L432.93,59.03 L433.12,64.27 L433.32,68.26 L433.51,67.42 L433.71,54 L433.91,71.36 L434.1,68.11 L434.3,59.7 L434.49,60.94 L434.69,66.07 L434.89,55.09 L435.08,58.99 L435.28,58.68 L435.47,65.58 L435.67,69.72 L435.87,64.1 L436.06,67.55 L436.26,61.38 L436.45,69.99 L436.65,60.63 L436.85,62.57 L437.04,52.87 L437.24,69.57 L437.43,67.45 L437.63,64.11 L437.82,63.17 L438.02,67.35 L438.22,69.1 L438.41,65.68 L438.61,59.92 L438.8,65.14 L439,63.66 L439.2,65.08 L439.39,60.59 L439.59,62.97 L439.78,59.46 L439.98,51.91 L440.18,52.66 L440.37,59.17 L440.57,60.12 L440.76,67.92 L440.96,67.83 L441.16,67.74 L441.35,67.65 L441.55,67.56 L441.74,67.55 L441.94,67.26 L442.14,66.54 L442.33,61.55 L442.53,64.72 L442.72,58.49 L442.92,60.83 L443.12,56.22 L443.31,50.84 L443.51,50.44 L443.7,54.82 L443.9,55.66 L444.1,55.6 L444.29,51.47 L444.49,58.94 L444.68,52.66 L444.88,55.37 L445.08,52.59 L445.27,64.49 L445.47,55.14 L445.66,61.82 L445.86,62.88 L446.06,62.62 L446.25,51.16 L446.45,61.16 L446.64,56.25 L446.84,62.09 L447.04,57.65 L447.23,62.72 L447.43,62.94 L447.62,63.25 L447.82,66.49 L448.02,63.28 L448.21,62.9 L448.41,61.55 L448.6,50.38 L448.8,56.48 L449,56.39 L449.19,70.2 L449.39,64.34 L449.58,70 L449.78,52.68 L449.98,58.74 L450.17,64.58 L450.37,50.98 L450.56,58.42 L450.76,57.09 L450.95,57.85 L451.15,62.07 L451.35,56.55 L451.54,66.34 L451.74,63.66 L451.93,70.95 L452.13,58.95 L452.33,62.7 L452.52,55 L452.72,61.97 L452.91,61.96 L453.11,62.8 L453.31,53.26 L453.5,63.1 L453.7,60.49 L453.89,57.03 L454.09,54.69 L454.29,63.81 L454.48,68.75 L454.68,62.62 L454.87,66.62 L455.07,57.49 L455.27,66.31 L455.46,57.06 L455.66,61.96 L455.85,55.61 L456.05,58.02 L456.25,61.13 L456.44,56.59 L456.64,50.07 L456.83,61.7 L457.03,62.73 L457.23,49.77 L457.42,61.91 L457.62,60.38 L457.81,62.23 L458.01,60.89 L458.21,57.95 L458.4,55.78 L458.6,57.02 L458.79,65.88 L458.99,61.29 L459.19,60.97 L459.38,67.07 L459.58,61.81 L459.77,67.77 L459.97,66.14 L460.17,67.71 L460.36,60.28 L460.56,63.48 L460.75,55.68 L460.95,65.58 L461.15,64.55 L461.34,61.79 L461.54,58.65 L461.73,66.91 L461.93,59.33 L462.13,54.39 L462.32,57.03 L462.52,59.11 L462.71,61.38 L462.91,55.1 L463.11,58.94 L463.3,52.71 L463.5,53.99 L463.69,52.32 L463.89,62.55 L464.09,61.51 L464.28,67.11 L464.48,63.98 L464.67,66.72 L464.87,63.07 L465.06,56.7 L465.26,58.65 L465.46,50.55 L465.65,53.87 L465.85,59.64 L466.04,56.58 L466.24,59.54 L466.44,63.16 L466.63,57.47 L466.83,57.19 L467.02,59.39 L467.22,60.07 L467.42,55.54 L467.61,54.01 L467.81,56.37 L468,62.74 L468.2,61.62 L468.4,60.22 L468.59,61.8 L468.79,63.15 L468.98,57.65 L469.18,60.3 L469.38,59.52 L469.57,53.01 L469.77,58.22 L469.96,53.07 L470.16,55.02 L470.36,53.89 L470.55,50.17 L470.75,54.41 L470.94,56.28 L471.14,58.1 L471.34,63.62 L471.53,57.16 L471.73,56.79 L471.92,61.42 L472.12,55.59 L472.32,52.91 L472.51,60.29 L472.71,53.69 L472.9,60.69 L473.1,61.15 L473.3,62.53 L473.49,64.7 L473.69,59.16 L473.88,56.64 L474.08,59.4 L474.28,65.09 L474.47,65.14 L474.67,59.95 L474.86,54.19 L475.06,53.42 L475.26,57.58 L475.45,57.72 L475.65,57.24 L475.84,61.31 L476.04,57.1 L476.24,63.55 L476.43,58.6 L476.63,63.9 L476.82,61.4 L477.02,59.45 L477.22,61.18 L477.41,58.87 L477.61,58.75 L477.8,63.23 L478,63.11 L478.19,57.91 L478.39,57.73 L478.59,61.87 L478.78,56.89 L478.98,58.51 L479.17,59.01 L479.37,59.04 L479.57,54.97 L479.76,55.38 L479.96,58.5 L480.15,62.12 L480.35,59.8 L480.55,61.95 L480.74,51.74 L480.94,57.63 L481.13,58.46 L481.33,57.46 L481.53,59.23 L481.72,54.17 L481.92,49.23 L482.11,53.29 L482.31,46.99 L482.51,50.62 L482.7,52.73 L482.9,54.42 L483.09,52.34 L483.29,54.11 L483.49,52.48 L483.68,53.19 L483.88,55.86 L484.07,51.55 L484.27,52.14 L484.47,51.7 L484.66,55.17 L484.86,46.15 L485.05,52.89 L485.25,57.08 L485.45,56.25 L485.64,59.56 L485.84,53.82 L486.03,50.47 L486.23,59.27 L486.43,46.03 L486.62,47.7 L486.82,56.51 L487.01,56.75 L487.21,52.37 L487.41,58.17 L487.6,52.35 L487.8,54.4 L487.99,58.7 L488.19,51.52 L488.39,60.86 L488.58,55.96 L488.78,49.22 L488.97,57.06 L489.17,54.7 L489.37,52.36 L489.56,59.05 L489.76,58.48 L489.95,56.26 L490.15,61.35 L490.35,51.06 L490.54,47.94 L490.74,61.88 L490.93,63.62 L491.13,53.5 L491.33,63.98 L491.52,61.11 L491.72,59.79 L491.91,62.4 L492.11,58.74 L492.3,59.18 L492.5,51.36 L492.7,56.04 L492.89,48.1 L493.09,48.83 L493.28,51.32 L493.48,58.43 L493.68,49.38 L493.87,65.25 L494.07,55.01 L494.26,59.97 L494.46,65.55 L494.66,62.5 L494.85,61.5 L495.05,63.27 L495.24,65.16 L495.44,61.94 L495.64,52.11 L495.83,59.51 L496.03,55.05 L496.22,54.24 L496.42,47.46 L496.62,53.45 L496.81,60.97 L497.01,55.49 L497.2,51.4 L497.4,59.79 L497.6,46.58 L497.79,54.32 L497.99,59.67 L498.18,59.28 L498.38,52.95 L498.58,50.23 L498.77,38.76 L498.97,37.21 L499.16,45.55 L499.36,37.31 L499.56,44.24 L499.75,37.85 L499.95,47.35 L500.14,43.95 L500.34,43.21 L500.54,46.56 L500.73,42.86 L500.93,48.98 L501.12,49.58 L501.32,55.3 L501.52,55.1 L501.71,44.52 L501.91,42.44 L502.1,42.16 L502.3,54.32 L502.5,52.73 L502.69,48.59 L502.89,51.58 L503.08,38.51 L503.28,38.2 L503.48,43.08 L503.67,46.97 L503.87,43.84 L504.06,37.56 L504.26,53.19 L504.46,42.4 L504.65,40.65 L504.85,46.18 L505.04,37.09 L505.24,49.6 L505.43,61.81 L505.63,51.19 L505.83,55.34 L506.02,54.06 L506.22,56.51 L506.41,48.62 L506.61,37.43 L506.81,46.07 L507,55.21 L507.2,50.83 L507.39,37.79 L507.59,42.99 L507.79,50.44 L507.98,48.3 L508.18,48.06 L508.37,53.68 L508.57,53.83 L508.77,61.91 L508.96,61.8 L509.16,61.69 L509.35,61.58 L509.55,50.26 L509.75,48.44 L509.94,43.45 L510.14,36.76 L510.33,36.77 L510.53,52.71 L510.73,51.05 L510.92,45.41 L511.12,48.13 L511.31,42.3 L511.51,47.15 L511.71,45.1 L511.9,48.04 L512.1,54.56 L512.29,41.82 L512.49,53.35 L512.69,51.71 L512.88,47.05 L513.08,49.81 L513.27,58.01 L513.47,48.91 L513.67,37.34 L513.86,41.74 L514.06,34.66 L514.25,42.14 L514.45,42.2 L514.65,43.83 L514.84,49.27 L515.04,54.84 L515.23,52.9 L515.43,42.19 L515.63,51.89 L515.82,34.39 L516.02,45.09 L516.21,58.23 L516.41,59.03 L516.61,43.49 L516.8,42.03 L517,47.23 L517.19,36.5 L517.39,40.49 L517.59,45.21 L517.78,45.49 L517.98,49.05 L518.17,44.65 L518.37,59.53 L518.57,41.8 L518.76,52.51 L518.96,54.6 L519.15,55.67 L519.35,46.2 L519.54,40.24 L519.74,43.1 L519.94,43.41 L520.13,51.07 L520.33,48.73 L520.52,37.21 L520.72,49.81 L520.92,57.97 L521.11,57.03 L521.31,42.54 L521.5,44.87 L521.7,30.2 L521.9,38.67 L522.09,29.74 L522.29,38.46 L522.48,42.19 L522.68,42.18 L522.88,47.61 L523.07,43.87 L523.27,39.55 L523.46,47.73 L523.66,50.43 L523.86,42.83 L524.05,37.48 L524.25,29.97 L524.44,31.64 L524.64,32.62 L524.84,43.18 L525.03,50.07 L525.23,45.73 L525.42,60.37 L525.62,67.44 L525.82,58.38 L526.01,60.62 L526.21,62.52 L526.4,60.47 L526.6,69.22 L526.8,58.6 L526.99,50.78 L527.19,75.45 L527.38,65.2 L527.58,53.25 L527.78,65.28 L527.97,73.72 L528.17,75.04 L528.36,73.43 L528.56,62.77 L528.76,60.66 L528.95,71.4 L529.15,66.74 L529.34,66.14 L529.54,66.39 L529.74,67.15 L529.93,65.73 L530.13,64.07 L530.32,65.77 L530.52,72.2 L530.72,67.8 L530.91,59.74 L531.11,67.7 L531.3,72.82 L531.5,75.61 L531.7,70.12 L531.89,70.87 L532.09,75.29 L532.28,73.08 L532.48,74.59 L532.67,74.18 L532.87,78.08 L533.07,71.5 L533.26,79.86 L533.46,70.31 L533.65,60.5 L533.85,59.06 L534.05,58.96 L534.24,70.65 L534.44,75.2 L534.63,72.69 L534.83,76.83 L535.03,68.45 L535.22,75.83 L535.42,67.56 L535.61,68.1 L535.81,62.54 L536.01,69.17 L536.2,68.42 L536.4,69.15 L536.59,69.83 L536.79,67.16 L536.99,77.99 L537.18,69.45 L537.38,71.16 L537.57,73.11 L537.77,70.92 L537.97,71.78 L538.16,72.3 L538.36,70.55 L538.55,68.84 L538.75,73.73 L538.95,73.24 L539.14,67.99 L539.34,68.24 L539.53,65.78 L539.73,67.94 L539.93,76.3 L540.12,70.17 L540.32,71.81 L540.51,70.74 L540.71,75.85 L540.91,71.27 L541.1,73.44 L541.3,72.28 L541.49,73.69 L541.69,69.75 L541.89,73.31 L542.08,59.45 L542.28,62.23 L542.47,60.4 L542.67,61.86 L542.87,63 L543.06,69.74 L543.26,70.09 L543.45,65.38 L543.65,61.81 L543.85,63.92 L544.04,73.48 L544.24,70.33 L544.43,67.58 L544.63,65.73 L544.83,62.5 L545.02,73.68 L545.22,55.62 L545.41,60.78 L545.61,68 L545.81,64.32 L546,61.77 L546.2,62.72 L546.39,60.26 L546.59,66.5 L546.78,59.12 L546.98,64.23 L547.18,63.87 L547.37,63.12 L547.57,72.06 L547.76,72.52 L547.96,69.17 L548.16,71.23 L548.35,57.07 L548.55,63.61 L548.74,63.59 L548.94,58.56 L549.14,65.23 L549.33,65.6 L549.53,71.13 L549.72,64.33 L549.92,55.77 L550.12,63.36 L550.31,60.19 L550.51,55.26 L550.7,58.9 L550.9,62.23 L551.1,63.25 L551.29,66.52 L551.49,70.77 L551.68,70.24 L551.88,69.59 L552.08,73.88 L552.27,67.27 L552.47,56.4 L552.66,60.71 L552.86,61.77 L553.06,59.65 L553.25,67.28 L553.45,69.4 L553.64,59.93 L553.84,54.44 L554.04,54.38 L554.23,60.21 L554.43,67.17 L554.62,63.4 L554.82,54.25 L555.02,55.36 L555.21,71.58 L555.41,63.25 L555.6,58.19 L555.8,68.93 L556,64.01 L556.19,73.94 L556.39,69.07 L556.58,73.96 L556.78,73.97 L556.98,73.97 L557.17,73.98 L557.37,73.48 L557.56,73.97 L557.76,73.95 L557.96,69.14 L558.15,73.92 L558.35,72.11 L558.54,69.49 L558.74,65.19 L558.94,64.13 L559.13,73.85 L559.33,73.45 L559.52,69.43 L559.72,65.84 L559.91,62.71 L560.11,55.01 L560.31,55.12 L560.5,59.57 L560.7,60.51 L560.89,64.81 L561.09,67.32 L561.29,71.58 L561.48,65.95 L561.68,67.96 L561.87,73.42 L562.07,65.1 L562.27,67.53 L562.46,68.48 L562.66,63.2 L562.85,66.24 L563.05,55.82 L563.25,70.15 L563.44,71.24 L563.64,70.87 L563.83,64.14 L564.03,68.4 L564.23,61.19 L564.42,59.82 L564.62,65.09 L564.81,68.01 L565.01,63.68 L565.21,70 L565.4,63.97 L565.6,65.95 L565.79,57.23 L565.99,65.03 L566.19,71.32 L566.38,71.32 L566.58,66.03 L566.77,59.18 L566.97,63.67 L567.17,63.19 L567.36,60.8 L567.56,65.59 L567.75,66.92 L567.95,62.91 L568.15,66.5 L568.34,70.34 L568.54,66.17 L568.73,64.81 L568.93,58.12 L569.13,64.38 L569.32,64.77 L569.52,65.43 L569.71,70.71 L569.91,71.06 L570.11,70.91 L570.3,66.85 L570.5,65.31 L570.69,65.75 L570.89,70.92 L571.09,65.05 L571.28,64.05 L571.48,69.55 L571.67,65.49 L571.87,69.48 L572.07,65.66 L572.26,65.68 L572.46,59.27 L572.65,58.1 L572.85,55.78 L573.05,68.58 L573.24,65.27 L573.44,63.4 L573.63,66.06 L573.83,69.74 L574.02,58.36 L574.22,58.51 L574.42,60.25 L574.61,66.63 L574.81,64.71 L575,69.09 L575.2,62.95 L575.4,66.4 L575.59,64.98 L575.79,69.63 L575.98,68.24 L576.18,73.68 L576.38,61.11 L576.57,72.18 L576.77,70.07 L576.96,62.85 L577.16,59.56 L577.36,59.52 L577.55,65.69 L577.75,65.43 L577.94,66.47 L578.14,60.14 L578.34,60.97 L578.53,59.05 L578.73,55.29 L578.92,66.41 L579.12,62.61 L579.32,54.99 L579.51,56.57 L579.71,56.65 L579.9,65.69 L580.1,60.4 L580.3,67.14 L580.49,60.94 L580.69,61.1 L580.88,55.13 L581.08,59.82 L581.28,66.09 L581.47,54.17 L581.67,54.9 L581.86,53.72 L582.06,53.65 L582.26,61.66 L582.45,70.95 L582.65,64.17 L582.84,65.39 L583.04,61.66 L583.24,70.93 L583.43,58.78 L583.63,65.11 L583.82,68.84 L584.02,64.9 L584.22,64.83 L584.41,64.1 L584.61,59.49 L584.8,58.32 L585,60.83 L585.2,64.31 L585.39,60.04 L585.59,60.68 L585.78,59.64 L585.98,66.42 L586.18,66.65 L586.37,69.44 L586.57,65.43 L586.76,64.92 L586.96,64.02 L587.15,62.05 L587.35,71.35 L587.55,63.36 L587.74,64.21 L587.94,58.97 L588.13,64.35 L588.33,62.84 L588.53,66.53 L588.72,59.86 L588.92,69.43 L589.11,68.81 L589.31,69.01 L589.51,68.56 L589.7,62.32 L589.9,66.32 L590.09,69.25 L590.29,69.81 L590.49,60.49 L590.68,70.78 L590.88,60.72 L591.07,68.05 L591.27,65.4 L591.47,66.23 L591.66,61.07 L591.86,59.18 L592.05,65.45 L592.25,67.71 L592.45,63.53 L592.64,65.97 L592.84,60.35 L593.03,65.4 L593.23,64.16 L593.43,72.35 L593.62,66.88 L593.82,67.08 L594.01,64.18 L594.21,64.33 L594.41,67.45 L594.6,60.28 L594.8,64.13 L594.99,71.75 L595.19,73.92 L595.39,67.26 L595.58,67.63 L595.78,71.8 L595.97,66.27 L596.17,65.14 L596.37,61.49 L596.56,59.37 L596.76,65.41 L596.95,57.85 L597.15,60.55 L597.35,61.95 L597.54,66.32 L597.74,59.22 L597.93,64.13 L598.13,70.85 L598.33,69.52 L598.52,73.71 L598.72,70.51 L598.91,74.59 L599.11,64.65 L599.31,66.63 L599.5,74.99 L599.7,68.19 L599.89,74.9 L600.09,74.79 L600.29,74.68 L600.48,60.1 L600.68,63.7 L600.87,67.29 L601.07,74.26 L601.26,73.4 L601.46,72.75 L601.66,71.89 L601.85,68.08 L602.05,70.37 L602.24,69.51 L602.44,68.7 L602.64,69.25 L602.83,67.92 L603.03,63.99 L603.22,68.68 L603.42,68.32 L603.62,73.48 L603.81,64.04 L604.01,68.46 L604.2,58.05 L604.4,61.42 L604.6,61.4 L604.79,57.51 L604.99,70.55 L605.18,72.23 L605.38,62.78 L605.58,69.49 L605.77,65.5 L605.97,59.12 L606.16,61.48 L606.36,72.14 L606.56,64.05 L606.75,68.71 L606.95,65.66 L607.14,72.42 L607.34,72.6 L607.54,71.44 L607.73,68 L607.93,74.08 L608.12,68.85 L608.32,60.24 L608.52,62.06 L608.71,60.74 L608.91,68.79 L609.1,74.68 L609.3,61.48 L609.5,69.94 L609.69,74.44 L609.89,73.67 L610.08,74.05 L610.28,72.26 L610.48,70 L610.67,73.5 L610.87,75.58 L611.06,70.36 L611.26,73.79 L611.46,76.35 L611.65,67.38 L611.85,74.67 L612.04,75.97 L612.24,64.69 L612.44,68.18 L612.63,73.07 L612.83,67.82 L613.02,73.22 L613.22,75.02 L613.42,77.01 L613.61,72.43 L613.81,72.66 L614,65.61 L614.2,71.36 L614.39,67.23 L614.59,69.3 L614.79,69.2 L614.98,60.95 L615.18,65.4 L615.37,60.75 L615.57,70.18 L615.77,63.74 L615.96,69.35 L616.16,75.74 L616.35,75.64 L616.55,74.55 L616.75,74.14 L616.94,72.66 L617.14,74.89 L617.33,74.93 L617.53,74.74 L617.73,69.06 L617.92,67.87 L618.12,63.91 L618.31,62.74 L618.51,60.29 L618.71,67.77 L618.9,64.01 L619.1,65.71 L619.29,68.28 L619.49,63.09 L619.69,60.81 L619.88,67.27 L620.08,72.39 L620.27,68.68 L620.47,63.65 L620.67,58.34 L620.86,60.43 L621.06,62.44 L621.25,61.61 L621.45,71.9 L621.65,67.46 L621.84,70.58 L622.04,64.14 L622.23,69.99 L622.43,72.39 L622.63,62.35 L622.82,62.99 L623.02,72.14 L623.21,72.79 L623.41,70.69 L623.61,64.96 L623.8,67.12 L624,65.54 L624.19,66.76 L624.39,67.34 L624.59,66.97 L624.78,69.73 L624.98,70.1 L625.17,73.77 L625.37,69.91 L625.57,69.67 L625.76,74.06 L625.96,68.03 L626.15,67.16 L626.35,66.18 L626.55,63.98 L626.74,65.55 L626.94,73.73 L627.13,74.75 L627.33,74.84 L627.53,74.94 L627.72,75.04 L627.92,74.83 L628.11,71.16 L628.31,75.33 L628.5,66.74 L628.7,63.58 L628.9,68.14 L629.09,64.25 L629.29,65.14 L629.48,63.26 L629.68,73.56 L629.88,70.16 L630.07,59.29 L630.27,64.36 L630.46,59.9 L630.66,63.26 L630.86,75.67 L631.05,70.56 L631.25,68.15 L631.44,70.56 L631.64,78.08 L631.84,67.41 L632.03,68.92 L632.23,76.19 L632.42,75.51 L632.62,71.44 L632.82,79.17 L633.01,78.71 L633.21,79.53 L633.4,75.19 L633.6,75.01 L633.8,73.54 L633.99,73.84 L634.19,71.27 L634.38,73.76 L634.58,72.62 L634.78,80.97 L634.97,76.91 L635.17,78.19 L635.36,80.51 L635.56,78.04 L635.76,75.69 L635.95,74.46 L636.15,77.51 L636.34,73.2 L636.54,80.19 L636.74,71.59 L636.93,73.28 L637.13,73.22 L637.32,79.32 L637.52,73.46 L637.72,69.91 L637.91,69.79 L638.11,70.17 L638.3,73.5 L638.5,78.09 L638.7,73.73 L638.89,76.67 L639.09,77.46 L639.28,73.7 L639.48,72.03 L639.68,68.37 L639.87,73.19 L640.07,75.74 L640.26,71.4 L640.46,69.69 L640.66,69.07 L640.85,67.98 L641.05,64.46 L641.24,67.55 L641.44,75.28 L641.64,75.73 L641.83,75.93 L642.03,68.34 L642.22,65.96 L642.42,68.15 L642.61,69.25 L642.81,64.93 L643.01,67.73 L643.2,68.17 L643.4,68.61 L643.59,65.52 L643.79,68.2 L643.99,70.44 L644.18,74.27 L644.38,68.68 L644.57,68.5 L644.77,66.18 L644.97,67.46 L645.16,60.51 L645.36,68.98 L645.55,70.45 L645.75,65.01 L645.95,69.58 L646.14,71.25 L646.34,59.27 L646.53,61.57 L646.73,66.3 L646.93,69.37 L647.12,70.02 L647.32,68.24 L647.51,58.04 L647.71,61.16 L647.91,57.63 L648.1,58.87 L648.3,61.3 L648.49,65.44 L648.69,64.3 L648.89,70.78 L649.08,68.53 L649.28,66.91 L649.47,61.79 L649.67,67.44 L649.87,63.21 L650.06,62.66 L650.26,58.87 L650.45,62.32 L650.65,57.11 L650.85,57.2 L651.04,64.01 L651.24,62.11 L651.43,64.58 L651.63,71.41 L651.83,68.17 L652.02,70.99 L652.22,71.91 L652.41,72 L652.61,66.22 L652.81,56.77 L653,59.66 L653.2,70.56 L653.39,72.49 L653.59,65.67 L653.79,69.46 L653.98,65.09 L654.18,60.83 L654.37,72.43 L654.57,64.34 L654.77,67.37 L654.96,71.53 L655.16,68.34 L655.35,63.61 L655.55,62.67 L655.74,56.59 L655.94,68.79 L656.14,71.94 L656.33,68.53 L656.53,62.67 L656.72,64.06 L656.92,62.42 L657.12,63.46 L657.31,72.67 L657.51,71.02 L657.7,68.32 L657.9,69.32 L658.1,74.67 L658.29,63.45 L658.49,59.85 L658.68,67.87 L658.88,63.31 L659.08,66.16 L659.27,59.42 L659.47,63.74 L659.66,66.76 L659.86,73.91 L660.06,70.66 L660.25,70.3 L660.45,60.04 L660.64,64.2 L660.84,69.73 L661.04,68.97 L661.23,69.27 L661.43,72.41 L661.62,71.29 L661.82,68.54 L662.02,62.59 L662.21,68.68 L662.41,72.09 L662.6,67.34 L662.8,70.24 L663,59.39 L663.19,61.24 L663.39,61.92 L663.58,63.91 L663.78,57.08 L663.98,61.19 L664.17,64.93 L664.37,70.79 L664.56,58.17 L664.76,59.45 L664.96,63.62 L665.15,69.86 L665.35,70.92 L665.54,64.22 L665.74,68.53 L665.94,69.25 L666.13,70.36 L666.33,69.33 L666.52,65.3 L666.72,73.67 L666.92,74.33 L667.11,71.08 L667.31,71.11 L667.5,71.66 L667.7,69.42 L667.9,74.41 L668.09,72.01 L668.29,65.23 L668.48,66.09 L668.68,68.73 L668.88,74.6 L669.07,68.19 L669.27,72.48 L669.46,66.3 L669.66,73.98 L669.85,72.95 L670.05,67.56 L670.25,71.95 L670.44,70.32 L670.64,66.46 L670.83,67.14 L671.03,69.54 L671.23,59.99 L671.42,72.15 L671.62,71.25 L671.81,69.02 L672.01,69.98 L672.21,68.39 L672.4,67.17 L672.6,67 L672.79,64.72 L672.99,66.74 L673.19,65.02 L673.38,69.02 L673.58,70.65 L673.77,63.07 L673.97,65.61 L674.17,62.47 L674.36,66.17 L674.56,61.6 L674.75,64.23 L674.95,65 L675.15,73.65 L675.34,67.2 L675.54,73.74 L675.73,68.62 L675.93,68.81 L676.13,66.17 L676.32,65.42 L676.52,65.5 L676.71,59.63 L676.91,62.02 L677.11,60.54 L677.3,73.37 L677.5,69.25 L677.69,65.38 L677.89,73.37 L678.09,73.23 L678.28,66.07 L678.48,73.37 L678.67,64.56 L678.87,70.26 L679.07,61.63 L679.26,63.19 L679.46,60.67 L679.65,71.26 L679.85,60.87 L680.05,62.96 L680.24,73.37 L680.44,63.5 L680.63,68.43 L680.83,73.63 L681.03,70.33 L681.22,64.61 L681.42,62.63 L681.61,64.82 L681.81,64.65 L682.01,64.54 L682.2,61.78 L682.4,66.06 L682.59,63.77 L682.79,64.03 L682.98,59.81 L683.18,65.84 L683.38,75.1 L683.57,75.21 L683.77,75.32 L683.96,71.5 L684.16,71.8 L684.36,65.72 L684.55,75.22 L684.75,70.5 L684.94,71.3 L685.14,75.35 L685.34,69.67 L685.53,65.96 L685.73,66.73 L685.92,67.44 L686.12,65.04 L686.32,64.54 L686.51,65.62 L686.71,60.99 L686.9,62.74 L687.1,66.5 L687.3,65.94 L687.49,64.08 L687.69,57.95 L687.88,62.43 L688.08,66.21 L688.28,67.24 L688.47,68.11 L688.67,62.29 L688.86,67.74 L689.06,69.7 L689.26,68.15 L689.45,71.25 L689.65,70.87 L689.84,72.89 L690.04,66.57 L690.24,68.39 L690.43,65.24 L690.63,65.65 L690.82,66.68 L691.02,61.05 L691.22,64.81 L691.41,67.48 L691.61,65.73 L691.8,74.67 L692,75.08 L692.2,67.43 L692.39,66.32 L692.59,63.55 L692.78,73.34 L692.98,73.08 L693.18,62.87 L693.37,60.98 L693.57,69.65 L693.76,66.2 L693.96,65.2 L694.16,60.18 L694.35,66.87 L694.55,68.13 L694.74,73.26 L694.94,71.97 L695.14,65.89 L695.33,71.53 L695.53,74.05 L695.72,75.65 L695.92,70.11 L696.12,74.61 L696.31,73.01 L696.51,73.87 L696.7,73.69 L696.9,71.2 L697.09,69.28 L697.29,67.89 L697.49,74.24 L697.68,65.92 L697.88,73 L698.07,71.48 L698.27,77.22 L698.47,73.71 L698.66,77.61 L698.86,65.35 L699.05,60.06 L699.25,70.02 L699.45,63.73 L699.64,73.13 L699.84,72.24 L700.03,78.98 L700.23,78.99 L700.43,75.82 L700.62,79.53 L700.82,64.23 L701.01,64.23 L701.21,68.55 L701.41,68.44 L701.6,66.22 L701.8,62.5 L701.99,62.63 L702.19,63.82 L702.39,75.16 L702.58,63.02 L702.78,67.08 L702.97,78.5 L703.17,75.26 L703.37,71.33 L703.56,67.51 L703.76,66.66 L703.95,72.24 L704.15,64.78 L704.35,75.31 L704.54,72.24 L704.74,75.8 L704.93,79.1 L705.13,75.31 L705.33,64.82 L705.52,65.27 L705.72,68.4 L705.91,69.1 L706.11,76.44 L706.31,67.36 L706.5,76.78 L706.7,73.95 L706.89,65.92 L707.09,69.66 L707.29,77.22 L707.48,76.3 L707.68,74.31 L707.87,72.61 L708.07,71.75 L708.27,70.32 L708.46,69.17 L708.66,61.32 L708.85,62.62 L709.05,68.58 L709.25,63.95 L709.44,71.93 L709.64,66.43 L709.83,70.37 L710.03,74.33 L710.22,69.89 L710.42,64.13 L710.62,76.12 L710.81,76.3 L711.01,76.4 L711.2,65.77 L711.4,65.42 L711.6,63.55 L711.79,65.81 L711.99,61.81 L712.18,66.95 L712.38,65.89 L712.58,60.14 L712.77,60.09 L712.97,64.69 L713.16,71.85 L713.36,65.44 L713.56,63.25 L713.75,62.04 L713.95,72.02 L714.14,63.26 L714.34,60.6 L714.54,61.74 L714.73,62.58 L714.93,66.24 L715.12,65.32 L715.32,58.54 L715.52,65.78 L715.71,75.7 L715.91,69.84 L716.1,59.77 L716.3,69.43 L716.5,70.09 L716.69,66.86 L716.89,73.2 L717.08,68.1 L717.28,71.88 L717.48,75.07 L717.67,75.06 L717.87,72.54 L718.06,74.94 L718.26,69.42 L718.46,71.88 L718.65,71.24 L718.85,61.78 L719.04,59.54 L719.24,65.9 L719.44,71.69 L719.63,63.07 L719.83,68.08 L720.02,65.43 L720.22,67.15 L720.42,65.54 L720.61,60.01 L720.81,64.45 L721,65.92 L721.2,71.88 L721.4,70.72 L721.59,72.19 L721.79,74.08 L721.98,74.09 L722.18,72.09 L722.38,65.42 L722.57,67.72 L722.77,74.15 L722.96,74.17 L723.16,68.42 L723.36,74.2 L723.55,71.16 L723.75,68.49 L723.94,62.74 L724.14,59.8 L724.33,62.56 L724.53,67.76 L724.73,68.68 L724.92,68.98 L725.12,71.24 L725.31,66.13 L725.51,57.68 L725.71,65.59 L725.9,71.4 L726.1,67.12 L726.29,63.31 L726.49,61.08 L726.69,66.55 L726.88,68.8 L727.08,69.75 L727.27,68.58 L727.47,64.99 L727.67,65.33 L727.86,62.36 L728.06,62.66 L728.25,60.13 L728.45,58.34 L728.65,61.2 L728.84,59.98 L729.04,58.48 L729.23,68.05 L729.43,67.83 L729.63,68.93 L729.82,63.01 L730.02,64.95 L730.21,69.82 L730.41,68.45 L730.61,60.81 L730.8,63.61 L731,58.32 L731.19,64.39 L731.39,67.25 L731.59,75.18 L731.78,76.82 L731.98,63.62 L732.17,71.85 L732.37,67.28 L732.57,71.56 L732.76,75.57 L732.96,70.35 L733.15,61.14 L733.35,68.27 L733.55,62.69 L733.74,61.55 L733.94,64.98 L734.13,72.76 L734.33,70.24 L734.53,76.65 L734.72,76.45 L734.92,73.78 L735.11,68.78 L735.31,75.86 L735.51,69.85 L735.7,66 L735.9,59.18 L736.09,65.94 L736.29,70.66 L736.49,74.27 L736.68,68.08 L736.88,72.34 L737.07,68.67 L737.27,72.92 L737.46,68.58 L737.66,66.15 L737.86,68.52 L738.05,53.74 L738.25,54.15 L738.44,66.04 L738.64,58.6 L738.84,69.51 L739.03,72.22 L739.23,58.97 L739.42,71.38 L739.62,68.13 L739.82,66.65 L740.01,60.66 L740.21,72.29 L740.4,68.64 L740.6,58.57 L740.8,54.87 L740.99,63.28 L741.19,64.82 L741.38,63.9 L741.58,55.01 L741.78,60.29 L741.97,54.94 L742.17,69.31 L742.36,65.06 L742.56,67.24 L742.76,69.96 L742.95,72.14 L743.15,66.7 L743.34,67.39 L743.54,60.4 L743.74,67.74 L743.93,65.58 L744.13,60.97 L744.32,56 L744.52,61.04 L744.72,68.82 L744.91,63.28 L745.11,73.09 L745.3,69.66 L745.5,65.42 L745.7,63.64 L745.89,66.72 L746.09,60.53 L746.28,66.72 L746.48,68.73 L746.68,60.18 L746.87,66.69 L747.07,68.6 L747.26,61.61 L747.46,58.85 L747.66,62.13 L747.85,67.81 L748.05,72.6 L748.24,60.45 L748.44,67.32 L748.64,71.46 L748.83,65.25 L749.03,65.84 L749.22,56.85 L749.42,62.54 L749.62,63.4 L749.81,67.99 L750.01,66.94 L750.2,69.75 L750.4,72.96 L750.6,64.29 L750.79,64.39 L750.99,71.17 L751.18,70.44 L751.38,72.47 L751.57,65.67 L751.77,60.22 L751.97,66.32 L752.16,66.94 L752.36,72.19 L752.55,71.19 L752.75,64.44 L752.95,60.89 L753.14,57.55 L753.34,65.06 L753.53,64.2 L753.73,62.79 L753.93,55.88 L754.12,66.44 L754.32,70.98 L754.51,72.73 L754.71,72.69 L754.91,72.83 L755.1,72.88 L755.3,72.93 L755.49,72.98 L755.69,73.02 L755.89,65.96 L756.08,73.12 L756.28,67.65 L756.47,64.57 L756.67,57.96 L756.87,66.64 L757.06,66.15 L757.26,65.53 L757.45,62.06 L757.65,54.41 L757.85,62.82 L758.04,73.2 L758.24,68.23 L758.43,68.03 L758.63,55.54 L758.83,53.67 L759.02,64.98 L759.22,63.88 L759.41,66.74 L759.61,66.5 L759.81,55.86 L760,49.94 L760.2,49.57 L760.39,55.31 L760.59,48.82 L760.79,63.93 L760.98,57.12 L761.18,53.06 L761.37,58.25 L761.57,65.68 L761.77,68.74 L761.96,52.24 L762.16,56.13 L762.35,60.09 L762.55,62.25 L762.75,67.33 L762.94,53.41 L763.14,69.21 L763.33,75.12 L763.53,75.29 L763.73,72.27 L763.92,68.93 L764.12,62.79 L764.31,64.4 L764.51,59.87 L764.7,63.98 L764.9,71.33 L765.1,75.78 L765.29,73.82 L765.49,76.86 L765.68,76.69 L765.88,76.51 L766.08,70.62 L766.27,67.04 L766.47,68.31 L766.66,71.69 L766.86,75.65 L767.06,75.47 L767.25,67.33 L767.45,73.51 L767.64,59.31 L767.84,63.19 L768.04,56.82 L768.23,66.21 L768.43,66.41 L768.62,63.85 L768.82,67.02 L769.02,73.73 L769.21,68.11 L769.41,70.79 L769.6,65.45 L769.8,60.61 L770,49.39 L770.19,57.82 L770.39,52.2 L770.58,58.03 L770.78,65.91 L770.98,68.02 L771.17,65.39 L771.37,60.64 L771.56,58.25 L771.76,58.2 L771.96,52.89 L772.15,60.07 L772.35,67.38 L772.54,55.02 L772.74,60.16 L772.94,60.27 L773.13,64.43 L773.33,62.47 L773.52,69.04 L773.72,62.23 L773.92,68.8 L774.11,67.12 L774.31,71.19 L774.5,71.22 L774.7,62.15 L774.9,60.89 L775.09,55.3 L775.29,61.26 L775.48,57.91 L775.68,59.01 L775.88,62.68 L776.07,58.33 L776.27,56.12 L776.46,61.3 L776.66,67.44 L776.86,54.2 L777.05,58.47 L777.25,53.23 L777.44,66 L777.64,67.29 L777.84,68.56 L778.03,69.39 L778.23,63.49 L778.42,69.95 L778.62,61.34 L778.81,71.64 L779.01,68.39 L779.21,62.64 L779.4,69.75 L779.6,64.54 L779.79,61.83 L779.99,53.57 L780.19,53.67 L780.38,53.77 L780.58,57.29 L780.77,69.99 L780.97,65.9 L781.17,63.09 L781.36,54.58 L781.56,63.79 L781.75,73.93 L781.95,67.79 L782.15,74.13 L782.34,71.91 L782.54,72.77 L782.73,66.62 L782.93,55.04 L783.13,69.95 L783.32,71.78 L783.52,63.96 L783.71,66.24 L783.91,64.19 L784.11,68.19 L784.3,61.25 L784.5,54.45 L784.69,54.86 L784.89,56.22 L785.09,63.67 L785.28,73.4 L785.48,62.74 L785.67,67.6 L785.87,63.26 L786.07,65.23 L786.26,67.34 L786.46,70.73 L786.65,73.77 L786.85,69.3 L787.05,65.15 L787.24,61.77 L787.44,57.1 L787.63,62 L787.83,72.71 L788.03,76.74 L788.22,65.96 L788.42,73.97 L788.61,69.43 L788.81,63.77 L789.01,64.74 L789.2,71.15 L789.4,62.15 L789.59,57.8 L789.79,67.79 L789.99,66.45 L790.18,69.56 L790.38,61.88 L790.57,62.81 L790.77,59.75 L790.97,63 L791.16,62.81 L791.36,64.95 L791.55,60.14 L791.75,63.23 L791.94,67.19 L792.14,61.04 L792.34,57.75 L792.53,64.26 L792.73,52.31 L792.92,60.75 L793.12,67.24 L793.32,56.13 L793.51,63.87 L793.71,64 L793.9,66.61 L794.1,68.94 L794.3,69.4 L794.49,73.94 L794.69,71.28 L794.88,73.74 L795.08,66.69 L795.28,59.13 L795.47,62.97 L795.67,60.08 L795.86,60.64 L796.06,60.38 L796.26,64.27 L796.45,64.45 L796.65,65.04 L796.84,58.08 L797.04,55.35 L797.24,51.81 L797.43,52.8 L797.63,53.64 L797.82,61.97 L798.02,52.63 L798.22,58.33 L798.41,60.11 L798.61,70.43 L798.8,65.72 L799,68.14 L799.2,62.48 L799.39,67.4 L799.59,68.31 L799.78,56.36 L799.98,52.35 L800.18,59.99 L800.37,59.29 L800.57,72.51 L800.76,72.49 L800.96,72.47 L801.16,72.37 L801.35,59.15 L801.55,66.57 L801.74,68.34 L801.94,57.14 L802.14,64.36 L802.33,69.66 L802.53,52.24 L802.72,55.31 L802.92,52.04 L803.12,57.25 L803.31,64.15 L803.51,66.4 L803.7,59.17 L803.9,55.38 L804.1,62.99 L804.29,61.69 L804.49,56.03 L804.68,68.3 L804.88,60.26 L805.08,64.76 L805.27,62.74 L805.47,66.3 L805.66,65.4 L805.86,55.69 L806.05,61.48 L806.25,65.36 L806.45,69.23 L806.64,62.55 L806.84,58.62 L807.03,60.11 L807.23,57.03 L807.43,49.89 L807.62,51.42 L807.82,52.59 L808.01,56.94 L808.21,49.53 L808.41,61.62 L808.6,57.66 L808.8,57.54 L808.99,62.67 L809.19,65.99 L809.39,58.62 L809.58,50.29 L809.78,57.26 L809.97,60.21 L810.17,60.18 L810.37,58.84 L810.56,63.13 L810.76,62.19 L810.95,50.84 L811.15,62.57 L811.35,61.14 L811.54,61.25 L811.74,61.33 L811.93,55.46 L812.13,49.23 L812.33,52.24 L812.52,49.32 L812.72,54.73 L812.91,65.84 L813.11,49.45 L813.31,54.45 L813.5,60.63 L813.7,64.34 L813.89,62.83 L814.09,58.95 L814.29,62.44 L814.48,58.07 L814.68,58.79 L814.87,62.05 L815.07,57.97 L815.27,58.53 L815.46,68.91 L815.66,65.12 L815.85,69.32 L816.05,69.52 L816.25,69.73 L816.44,60.62 L816.64,63.82 L816.83,57.27 L817.03,68.09 L817.23,69.45 L817.42,64.98 L817.62,63.99 L817.81,68.55 L818.01,64.24 L818.21,58.96 L818.4,71.96 L818.6,59.65 L818.79,66.16 L818.99,68.81 L819.18,67.01 L819.38,71.16 L819.58,57.82 L819.77,56.43 L819.97,65.93 L820.16,71.87 L820.36,66.8 L820.56,62.09 L820.75,63.15 L820.95,59.97 L821.14,64.98 L821.34,63.22 L821.54,65.77 L821.73,69.58 L821.93,69.5 L822.12,72.46 L822.32,64.74 L822.52,63.31 L822.71,66.03 L822.91,61.5 L823.1,53.19 L823.3,52.97 L823.5,55.13 L823.69,62.52 L823.89,65.72 L824.08,70.97 L824.28,64.76 L824.48,65.08 L824.67,64.96 L824.87,62.27 L825.06,62.05 L825.26,52.97 L825.46,55.68 L825.65,68.44 L825.85,61.41 L826.04,66.2 L826.24,60.64 L826.44,66.96 L826.63,58.16 L826.83,72.46 L827.02,71.48 L827.22,72.46 L827.42,69.7 L827.61,70.45 L827.81,65.82 L828,60.03 L828.2,65.81 L828.4,70.37 L828.59,55.14 L828.79,53.58 L828.98,57.37 L829.18,62.26 L829.38,67.16 L829.57,60.39 L829.77,59.28 L829.96,66.41 L830.16,70.91 L830.36,63.74 L830.55,65.98 L830.75,58.71 L830.94,61.19 L831.14,63.53 L831.34,64.33 L831.53,60.61 L831.73,61.84 L831.92,64.53 L832.12,62.18 L832.32,66.62 L832.51,62.58 L832.71,62.78 L832.9,63.68 L833.1,62.44 L833.29,59.71 L833.49,68.27 L833.69,68.33 L833.88,66.82 L834.08,58.07 L834.27,57.2 L834.47,55.64 L834.67,62.25 L834.86,69.31 L835.06,65.33 L835.25,66.69 L835.45,63.34 L835.65,58.37 L835.84,63.88 L836.04,62.11 L836.23,63.69 L836.43,56.63 L836.63,65.38 L836.82,60.19 L837.02,63.63 L837.21,64.2 L837.41,58.68 L837.61,57.49 L837.8,66.43 L838,69.66 L838.19,65.5 L838.39,61.2 L838.59,58.25 L838.78,61.31 L838.98,67.1 L839.17,66.49 L839.37,62.58 L839.57,59.92 L839.76,57.1 L839.96,65.82 L840.15,56.37 L840.35,55.87 L840.55,58.63 L840.74,63.43 L840.94,68.96 L841.13,53.2 L841.33,53.4 L841.53,57.16 L841.72,63.96 L841.92,64.25 L842.11,62.48 L842.31,64.26 L842.51,64.52 L842.7,60.49 L842.9,47.18 L843.09,46.51 L843.29,49.77 L843.49,51.02 L843.68,66.75 L843.88,58.35 L844.07,62.28 L844.27,55.9 L844.47,57.1 L844.66,65.54 L844.86,65.3 L845.05,62.06 L845.25,53.02 L845.45,56.01 L845.64,56.24 L845.84,50.78 L846.03,57.44 L846.23,58.64 L846.43,56.18 L846.62,48.6 L846.82,51.01 L847.01,42.09 L847.21,55.09 L847.4,58.65 L847.6,55.5 L847.8,64.11 L847.99,65.83 L848.19,46.01 L848.38,46.11 L848.58,46.68 L848.78,47.25 L848.97,47.83 L849.17,50.48 L849.36,55.78 L849.56,58.67 L849.76,54.92 L849.95,64.19 L850.15,55.64 L850.34,58.31 L850.54,59.67 L850.74,58.98 L850.93,56.97 L851.13,64.42 L851.32,60.88 L851.52,63.17 L851.72,59.1 L851.91,60.12 L852.11,55.41 L852.3,56.32 L852.5,58.15 L852.7,57.52 L852.89,56.14 L853.09,70.71 L853.28,54.21 L853.48,60.52 L853.68,58.52 L853.87,62.23 L854.07,62.7 L854.26,68.93 L854.46,71.03 L854.66,66.83 L854.85,67.44 L855.05,68.63 L855.24,68.86 L855.44,64.7 L855.64,58.4 L855.83,69.21 L856.03,65.62 L856.22,66.6 L856.42,66.17 L856.62,63.21 L856.81,57.31 L857.01,68.37 L857.2,62.86 L857.4,65 L857.6,60.24 L857.79,68.29 L857.99,68.59 L858.18,73.94 L858.38,64.12 L858.58,72.38 L858.77,67.92 L858.97,64.28 L859.16,69.9 L859.36,75.13 L859.56,65.72 L859.75,58.54 L859.95,62.95 L860.14,65.27 L860.34,60.9 L860.53,61.02 L860.73,73.07 L860.93,63.59 L861.12,69.32 L861.32,63.38 L861.51,70.3 L861.71,71.36 L861.91,66.97 L862.1,75.58 L862.3,60 L862.49,60.8 L862.69,69.12 L862.89,66.7 L863.08,75.62 L863.28,65.95 L863.47,61.9 L863.67,65.75 L863.87,74.15 L864.06,75.49 L864.26,75.45 L864.45,71.79 L864.65,66.42 L864.85,71.65 L865.04,68.67 L865.24,67.01 L865.43,75.2 L865.63,72.62 L865.83,72.27 L866.02,73.4 L866.22,70.23 L866.41,72.35 L866.61,62.07 L866.81,59.55 L867,65.2 L867.2,72.92 L867.39,68.84 L867.59,70 L867.79,60.77 L867.98,56.1 L868.18,69.73 L868.37,74.36 L868.57,74.24 L868.77,63.23 L868.96,64.83 L869.16,63.57 L869.35,60.46 L869.55,69.7 L869.75,70.58 L869.94,73.38 L870.14,70.21 L870.33,73.14 L870.53,64.02 L870.73,72.89 L870.92,64.73 L871.12,60.49 L871.31,47.07 L871.51,66.7 L871.71,62.36 L871.9,62.11 L872.1,61.74 L872.29,51.29 L872.49,54.78 L872.69,40.35 L872.88,67.65 L873.08,63.1 L873.27,66.44 L873.47,71.04 L873.67,58.2 L873.86,55.6 L874.06,58.86 L874.25,61.91 L874.45,66.55 L874.64,66.03 L874.84,54.79 L875.04,69.63 L875.23,61.64 L875.43,64.81 L875.62,68.86 L875.82,51.66 L876.02,70.95 L876.21,70.92 L876.41,54.82 L876.6,54.6 L876.8,70.52 L877,70.25 L877.19,61.88 L877.39,74.63 L877.58,67.37 L877.78,70.02 L877.98,63.61 L878.17,70.56 L878.37,74.56 L878.56,70.01 L878.76,71.03 L878.96,72.68 L879.15,73.82 L879.35,67.9 L879.54,74.47 L879.74,64.08 L879.94,71.26 L880.13,66.76 L880.33,69.78 L880.52,72.39 L880.72,67.98 L880.92,67.83 L881.11,65.45 L881.31,57.62 L881.5,58.96 L881.7,66.82 L881.9,69.33 L882.09,71.07 L882.29,67.9 L882.48,60.48 L882.68,63.76 L882.88,64.49 L883.07,65.59 L883.27,62.2 L883.46,64.24 L883.66,65.2 L883.86,63.24 L884.05,68.88 L884.25,63.89 L884.44,68.52 L884.64,68.56 L884.84,69.19 L885.03,74.49 L885.23,61.28 L885.42,66.23 L885.62,64.05 L885.82,69.43 L886.01,72.16 L886.21,64.16 L886.4,57.58 L886.6,66.08 L886.8,73.74 L886.99,74.14 L887.19,67.94 L887.38,69.75 L887.58,64.26 L887.77,58.68 L887.97,56.76 L888.17,65.5 L888.36,70.94 L888.56,68 L888.75,63.41 L888.95,63.18 L889.15,56.51 L889.34,63.76 L889.54,60.44 L889.73,59.04 L889.93,59.24 L890.13,58.8 L890.32,69.02 L890.52,71.44 L890.71,70.1 L890.91,72.98 L891.11,59.93 L891.3,63.68 L891.5,61.3 L891.69,70.13 L891.89,69.24 L892.09,70.48 L892.28,72.53 L892.48,72.47 L892.67,60.36 L892.87,66.22 L893.07,65.88 L893.26,65.12 L893.46,66.02 L893.65,62.1 L893.85,59.79 L894.05,57.71 L894.24,66.6 L894.44,71.83 L894.63,71.79 L894.83,71.81 L895.03,71.4 L895.22,63.49 L895.42,63.86 L895.61,61.85 L895.81,69.24 L896.01,71.89 L896.2,71.91 L896.4,70.18 L896.59,65.14 L896.79,68.06 L896.99,71.97 L897.18,68.44 L897.38,56.33 L897.57,59.87 L897.77,58.66 L897.97,62.96 L898.16,56.23 L898.36,63.6 L898.55,68.9 L898.75,66.45 L898.95,64.54 L899.14,62.42 L899.34,72.27 L899.53,64.46 L899.73,62.99 L899.93,64.73 L900.12,61.56 L900.32,56.83 L900.51,62.78 L900.71,68.13 L900.91,56.6 L901.1,62.77 L901.3,65.14 L901.49,65.89 L901.69,65.45 L901.88,58.64 L902.08,61.35 L902.28,61.53 L902.47,58.68 L902.67,58.8 L902.86,66.55 L903.06,68.14 L903.26,67.02 L903.45,71.71 L903.65,70.43 L903.84,68.18 L904.04,65.52 L904.24,64.24 L904.43,65.42 L904.63,64.88 L904.82,71.13 L905.02,65.16 L905.22,70.62 L905.41,63.41 L905.61,68.33 L905.8,60.86 L906,64.36 L906.2,65.11 L906.39,66.54 L906.59,62.66 L906.78,64.26 L906.98,69.07 L907.18,66.04 L907.37,69.01 L907.57,69.9 L907.76,73.28 L907.96,73.2 L908.16,71.36 L908.35,66.64 L908.55,69.18 L908.74,63.93 L908.94,63.17 L909.14,54.36 L909.33,65.93 L909.53,55.99 L909.72,54.77 L909.92,61.65 L910.12,68.97 L910.31,55.83 L910.51,60.13 L910.7,57.74 L910.9,60.69 L911.1,62.18 L911.29,49.69 L911.49,65.95 L911.68,67.94 L911.88,67.67 L912.08,55.73 L912.27,61.16 L912.47,66.4 L912.66,66.98 L912.86,62.53 L913.06,46.05 L913.25,45.55 L913.45,54.63 L913.64,63.29 L913.84,58.42 L914.04,67.14 L914.23,65.21 L914.43,61.41 L914.62,60.88 L914.82,52.65 L915.01,56.31 L915.21,61.01 L915.41,56.98 L915.6,59.75 L915.8,62.21 L915.99,61.87 L916.19,66.44 L916.39,61.78 L916.58,67.08 L916.78,68.09 L916.97,68.5 L917.17,65.86 L917.37,64.66 L917.56,63.46 L917.76,71.02 L917.95,70.74 L918.15,78.22 L918.35,79.13 L918.54,70.47 L918.74,70.15 L918.93,76.17 L919.13,79.21 L919.33,79.96 L919.52,73.6 L919.72,74.72 L919.91,74.12 L920.11,66.62 L920.31,73.89 L920.5,71.56 L920.7,79.73 L920.89,70.21 L921.09,70.81 L921.29,72.32 L921.48,70.8 L921.68,72.47 L921.87,72.63 L922.07,76.24 L922.27,74.42 L922.46,74.34 L922.66,81.06 L922.85,80.98 L923.05,70.8 L923.25,78.72 L923.44,72.39 L923.64,78.22 L923.83,69.64 L924.03,72.74 L924.23,76.59 L924.42,74.06 L924.62,69.44 L924.81,66 L925.01,74.12 L925.21,66.2 L925.4,64.64 L925.6,73.29 L925.79,69.55 L925.99,73.24 L926.19,76.29 L926.38,73.6 L926.58,71.57 L926.77,66.68 L926.97,70.55 L927.17,65.51 L927.36,69.44 L927.56,68.66 L927.75,75.65 L927.95,75.52 L928.15,69.24 L928.34,66.5 L928.54,65.81 L928.73,70.74 L928.93,74.86 L929.12,70.84 L929.32,69.23 L929.52,66.57 L929.71,68.77 L929.91,70.52 L930.1,74.08 L930.3,68.67 L930.5,67.16 L930.69,64.28 L930.89,69.42 L931.08,69.88 L931.28,63.31 L931.48,66.03 L931.67,57.57 L931.87,61.67 L932.06,62.52 L932.26,70.21 L932.46,68.65 L932.65,64.72 L932.85,50.75 L933.04,53.28 L933.24,56.39 L933.44,67.61 L933.63,68.61 L933.83,57.67 L934.02,53.54 L934.22,57.26 L934.42,56.33 L934.61,56.98 L934.81,57.51 L935,57.69 L935.2,56.78" fill="none" stroke="#000" stroke-width="1.0" stroke-linejoin="round" />
<path d="M88.18,67.5h2.6M90.14,68.5h2.6M92.1,63.5h2.6M94.06,65.5h2.6M96.02,58.5h2.6M97.98,59.5h2.6M99.94,57.5h2.6M101.9,66.5h2.6M103.87,73.5h2.6M105.83,66.5h2.6M107.79,71.5h2.6M109.75,79.5h2.6M111.71,73.5h2.6M113.67,69.5h2.6M115.63,72.5h2.6M117.59,68.5h2.6M119.55,61.5h2.6M121.51,73.5h2.6M123.47,66.5h2.6M125.43,66.5h2.6M127.39,66.5h2.6M129.35,60.5h2.6M131.31,63.5h2.6M133.28,68.5h2.6M135.24,65.5h2.6M137.2,66.5h2.6M139.16,61.5h2.6M141.12,61.5h2.6M143.08,68.5h2.6M145.04,64.5h2.6M147,71.5h2.6M148.96,69.5h2.6M150.92,62.5h2.6M152.88,64.5h2.6M154.84,63.5h2.6M156.8,70.5h2.6M158.76,63.5h2.6M160.72,67.5h2.6M162.68,67.5h2.6M164.65,62.5h2.6M166.61,55.5h2.6M168.57,55.5h2.6M170.53,58.5h2.6M172.49,55.5h2.6M174.45,60.5h2.6M176.41,56.5h2.6M178.37,56.5h2.6M180.33,60.5h2.6M182.29,64.5h2.6M184.25,58.5h2.6M186.21,65.5h2.6M188.17,63.5h2.6M190.13,59.5h2.6M192.09,65.5h2.6M194.06,67.5h2.6M196.02,56.5h2.6M197.98,69.5h2.6M199.94,60.5h2.6M201.9,55.5h2.6M203.86,57.5h2.6M205.82,48.5h2.6M207.78,55.5h2.6M209.74,55.5h2.6M211.7,47.5h2.6M213.66,49.5h2.6M215.62,49.5h2.6M217.58,48.5h2.6M219.54,51.5h2.6M221.5,50.5h2.6M223.47,48.5h2.6M225.43,54.5h2.6M227.39,54.5h2.6M229.35,54.5h2.6M231.31,53.5h2.6M233.27,52.5h2.6M235.23,55.5h2.6M237.19,61.5h2.6M239.15,57.5h2.6M241.11,57.5h2.6M243.07,47.5h2.6M245.03,52.5h2.6M246.99,51.5h2.6M248.95,63.5h2.6M250.91,66.5h2.6M252.87,70.5h2.6M254.84,75.5h2.6M256.8,66.5h2.6M258.76,67.5h2.6M260.72,63.5h2.6M262.68,59.5h2.6M264.64,61.5h2.6M266.6,65.5h2.6M268.56,60.5h2.6M270.52,64.5h2.6M272.48,62.5h2.6M274.44,57.5h2.6M276.4,49.5h2.6M278.36,57.5h2.6M280.32,60.5h2.6M282.28,56.5h2.6M284.25,61.5h2.6M286.21,55.5h2.6M288.17,63.5h2.6M290.13,64.5h2.6M292.09,59.5h2.6M294.05,59.5h2.6M296.01,55.5h2.6M297.97,67.5h2.6M299.93,60.5h2.6M301.89,64.5h2.6M303.85,68.5h2.6M305.81,61.5h2.6M307.77,60.5h2.6M309.73,60.5h2.6M311.69,56.5h2.6M313.65,53.5h2.6M315.62,56.5h2.6M317.58,45.5h2.6M319.54,42.5h2.6M321.5,37.5h2.6M323.46,47.5h2.6M325.42,42.5h2.6M327.38,45.5h2.6M329.34,45.5h2.6M331.3,46.5h2.6M333.26,44.5h2.6M335.22,45.5h2.6M337.18,50.5h2.6M339.14,50.5h2.6M341.1,47.5h2.6M343.06,45.5h2.6M345.03,34.5h2.6M346.99,45.5h2.6M348.95,51.5h2.6M350.91,54.5h2.6M352.87,57.5h2.6M354.83,50.5h2.6M356.79,55.5h2.6M358.75,48.5h2.6M360.71,47.5h2.6M362.67,49.5h2.6M364.63,43.5h2.6M366.59,42.5h2.6M368.55,39.5h2.6M370.51,46.5h2.6M372.47,37.5h2.6M374.43,41.5h2.6M376.4,36.5h2.6M378.36,45.5h2.6M380.32,43.5h2.6M382.28,46.5h2.6M384.24,46.5h2.6M386.2,58.5h2.6M388.16,55.5h2.6M390.12,54.5h2.6M392.08,47.5h2.6M394.04,50.5h2.6M396,44.5h2.6M397.96,43.5h2.6M399.92,42.5h2.6M401.88,49.5h2.6M403.84,35.5h2.6M405.81,34.5h2.6M407.77,34.5h2.6M409.73,52.5h2.6M411.69,57.5h2.6M413.65,59.5h2.6M415.61,52.5h2.6M417.57,59.5h2.6M419.53,62.5h2.6M421.49,52.5h2.6M423.45,50.5h2.6M425.41,50.5h2.6M427.37,49.5h2.6M429.33,53.5h2.6M431.29,48.5h2.6M433.25,52.5h2.6M435.22,50.5h2.6M437.18,45.5h2.6M439.14,47.5h2.6M441.1,47.5h2.6M443.06,48.5h2.6M445.02,49.5h2.6M446.98,46.5h2.6M448.94,48.5h2.6M450.9,41.5h2.6M452.86,46.5h2.6M454.82,52.5h2.6M456.78,47.5h2.6M458.74,47.5h2.6M460.7,48.5h2.6M462.66,46.5h2.6M464.62,46.5h2.6M466.59,39.5h2.6M468.55,43.5h2.6M470.51,44.5h2.6M472.47,38.5h2.6M474.43,40.5h2.6M476.39,46.5h2.6M478.35,44.5h2.6M480.31,50.5h2.6M482.27,49.5h2.6M484.23,30.5h2.6M486.19,38.5h2.6M488.15,44.5h2.6M490.11,42.5h2.6M492.07,46.5h2.6M494.03,46.5h2.6M496,37.5h2.6M497.96,38.5h2.6M499.92,32.5h2.6M501.88,26.5h2.6M503.84,33.5h2.6M505.8,41.5h2.6M507.76,37.5h2.6M509.72,33.5h2.6M511.68,36.5h2.6M513.64,30.5h2.6M515.6,34.5h2.6M517.56,26.5h2.6M519.52,26.5h2.6M521.48,24.5h2.6M523.44,25.5h2.6M525.4,40.5h2.6M527.37,53.5h2.6M529.33,60.5h2.6M531.29,53.5h2.6M533.25,63.5h2.6M535.21,51.5h2.6M537.17,56.5h2.6M539.13,54.5h2.6M541.09,50.5h2.6M543.05,54.5h2.6M545.01,52.5h2.6M546.97,51.5h2.6M548.93,55.5h2.6M550.89,54.5h2.6M552.85,46.5h2.6M554.81,55.5h2.6M556.78,48.5h2.6M558.74,45.5h2.6M560.7,55.5h2.6M562.66,56.5h2.6M564.62,49.5h2.6M566.58,53.5h2.6M568.54,50.5h2.6M570.5,55.5h2.6M572.46,51.5h2.6M574.42,53.5h2.6M576.38,48.5h2.6M578.34,54.5h2.6M580.3,51.5h2.6M582.26,59.5h2.6M584.22,54.5h2.6M586.18,50.5h2.6M588.15,51.5h2.6M590.11,58.5h2.6M592.07,52.5h2.6M594.03,57.5h2.6M595.99,58.5h2.6M597.95,60.5h2.6M599.91,59.5h2.6M601.87,58.5h2.6M603.83,54.5h2.6M605.79,55.5h2.6M607.75,59.5h2.6M609.71,64.5h2.6M611.67,57.5h2.6M613.63,58.5h2.6M615.59,59.5h2.6M617.56,49.5h2.6M619.52,49.5h2.6M621.48,52.5h2.6M623.44,51.5h2.6M625.4,52.5h2.6M627.36,56.5h2.6M629.32,54.5h2.6M631.28,62.5h2.6M633.24,61.5h2.6M635.2,57.5h2.6M637.16,51.5h2.6M639.12,57.5h2.6M641.08,61.5h2.6M643.04,57.5h2.6M645,54.5h2.6M646.97,54.5h2.6M648.93,53.5h2.6M650.89,50.5h2.6M652.85,48.5h2.6M654.81,57.5h2.6M656.77,55.5h2.6M658.73,58.5h2.6M660.69,49.5h2.6M662.65,46.5h2.6M664.61,54.5h2.6M666.57,53.5h2.6M668.53,56.5h2.6M670.49,55.5h2.6M672.45,52.5h2.6M674.41,61.5h2.6M676.37,50.5h2.6M678.34,56.5h2.6M680.3,52.5h2.6M682.26,54.5h2.6M684.22,53.5h2.6M686.18,52.5h2.6M688.14,55.5h2.6M690.1,48.5h2.6M692.06,53.5h2.6M694.02,56.5h2.6M695.98,61.5h2.6M697.94,57.5h2.6M699.9,56.5h2.6M701.86,63.5h2.6M703.82,61.5h2.6M705.78,54.5h2.6M707.75,54.5h2.6M709.71,51.5h2.6M711.67,58.5h2.6M713.63,51.5h2.6M715.59,51.5h2.6M717.55,56.5h2.6M719.51,60.5h2.6M721.47,53.5h2.6M723.43,57.5h2.6M725.39,50.5h2.6M727.35,57.5h2.6M729.31,55.5h2.6M731.27,54.5h2.6M733.23,46.5h2.6M735.19,55.5h2.6M737.15,50.5h2.6M739.12,51.5h2.6M741.08,48.5h2.6M743.04,57.5h2.6M745,52.5h2.6M746.96,55.5h2.6M748.92,52.5h2.6M750.88,51.5h2.6M752.84,55.5h2.6M754.8,54.5h2.6M756.76,55.5h2.6M758.72,45.5h2.6M760.68,50.5h2.6M762.64,48.5h2.6M764.6,54.5h2.6M766.56,44.5h2.6M768.53,46.5h2.6M770.49,47.5h2.6M772.45,47.5h2.6M774.41,47.5h2.6M776.37,49.5h2.6M778.33,54.5h2.6M780.29,51.5h2.6M782.25,52.5h2.6M784.21,52.5h2.6M786.17,55.5h2.6M788.13,54.5h2.6M790.09,52.5h2.6M792.05,43.5h2.6M794.01,50.5h2.6M795.97,45.5h2.6M797.93,50.5h2.6M799.9,47.5h2.6M801.86,51.5h2.6M803.82,46.5h2.6M805.78,45.5h2.6M807.74,47.5h2.6M809.7,41.5h2.6M811.66,50.5h2.6M813.62,47.5h2.6M815.58,48.5h2.6M817.54,47.5h2.6M819.5,52.5h2.6M821.46,46.5h2.6M823.42,54.5h2.6M825.38,47.5h2.6M827.34,50.5h2.6M829.31,49.5h2.6M831.27,52.5h2.6M833.23,55.5h2.6M835.19,50.5h2.6M837.15,47.5h2.6M839.11,49.5h2.6M841.07,43.5h2.6M843.03,40.5h2.6M844.99,33.5h2.6M846.95,41.5h2.6M848.91,50.5h2.6M850.87,50.5h2.6M852.83,48.5h2.6M854.79,52.5h2.6M856.75,55.5h2.6M858.72,58.5h2.6M860.68,51.5h2.6M862.64,54.5h2.6M864.6,50.5h2.6M866.56,46.5h2.6M868.52,49.5h2.6M870.48,40.5h2.6M872.44,44.5h2.6M874.4,51.5h2.6M876.36,52.5h2.6M878.32,58.5h2.6M880.28,57.5h2.6M882.24,51.5h2.6M884.2,52.5h2.6M886.16,48.5h2.6M888.12,46.5h2.6M890.09,56.5h2.6M892.05,56.5h2.6M894.01,51.5h2.6M895.97,55.5h2.6M897.93,52.5h2.6M899.89,48.5h2.6M901.85,56.5h2.6M903.81,56.5h2.6M905.77,55.5h2.6M907.73,46.5h2.6M909.69,36.5h2.6M911.65,39.5h2.6M913.61,50.5h2.6M915.57,66.5h2.6M917.53,53.5h2.6M919.5,63.5h2.6M921.46,67.5h2.6M923.42,64.5h2.6M925.38,63.5h2.6M927.34,53.5h2.6M929.3,51.5h2.6M931.26,51.5h2.6M933.22,40.5h2.6" stroke="#ff3c3c" stroke-width="1" fill="none"/>
<path d="M87.71,135.5h2.8M88,129.5h2.8M88.75,130.5h2.8M88.97,131.5h2.8M89.25,129.5h2.8M89.59,132.5h2.8M90.09,132.5h2.8M90.48,132.5h2.8M91.05,133.5h2.8M91.37,135.5h2.8M91.58,130.5h2.8M92,131.5h2.8M92.57,139.5h2.8M92.71,133.5h2.8M93.2,127.5h2.8M93.47,131.5h2.8M94.04,129.5h2.8M94.23,131.5h2.8M94.79,135.5h2.8M95.14,126.5h2.8M95.35,126.5h2.8M95.98,130.5h2.8M96.2,136.5h2.8M96.46,131.5h2.8M97.05,132.5h2.8M97.23,129.5h2.8M97.84,129.5h2.8M98.16,126.5h2.8M98.54,132.5h2.8M98.98,132.5h2.8M99.27,129.5h2.8M99.54,124.5h2.8M100.14,131.5h2.8M100.65,119.5h2.8M101.03,149.5h2.8M101.27,133.5h2.8M101.62,119.5h2.8M102.19,122.5h2.8M102.6,101.5h2.8M102.79,112.5h2.8M103.25,109.5h2.8M103.72,121.5h2.8M104.08,109.5h2.8M104.34,100.5h2.8M104.77,97.5h2.8M105.23,101.5h2.8M105.33,105.5h2.8M105.85,99.5h2.8M106.28,106.5h2.8M106.76,108.5h2.8M107.19,110.5h2.8M107.36,112.5h2.8M107.91,117.5h2.8M108.15,112.5h2.8M108.66,114.5h2.8M108.99,114.5h2.8M109.35,114.5h2.8M109.7,115.5h2.8M110.25,118.5h2.8M110.64,108.5h2.8M111.03,113.5h2.8M111.44,108.5h2.8M111.48,105.5h2.8M112.08,106.5h2.8M112.61,110.5h2.8M112.79,102.5h2.8M113.06,107.5h2.8M113.64,110.5h2.8M114.1,101.5h2.8M114.43,101.5h2.8M114.57,101.5h2.8M115.16,104.5h2.8M115.69,97.5h2.8M115.75,111.5h2.8M116.15,104.5h2.8M116.8,106.5h2.8M117.07,109.5h2.8M117.54,108.5h2.8M117.83,113.5h2.8M118.34,115.5h2.8M118.61,112.5h2.8M118.89,121.5h2.8M119.5,122.5h2.8M119.72,124.5h2.8M120.09,121.5h2.8M120.39,122.5h2.8M120.77,125.5h2.8M121.35,126.5h2.8M121.57,124.5h2.8M121.89,125.5h2.8M122.42,129.5h2.8M122.88,125.5h2.8M123.32,130.5h2.8M123.54,128.5h2.8M124.12,131.5h2.8M124.42,128.5h2.8M124.74,125.5h2.8M125.2,127.5h2.8M125.38,128.5h2.8M125.92,124.5h2.8M126.17,129.5h2.8M126.79,124.5h2.8M127.2,130.5h2.8M127.3,132.5h2.8M127.96,125.5h2.8M128.25,128.5h2.8M128.55,126.5h2.8M128.96,124.5h2.8M129.27,130.5h2.8M129.81,129.5h2.8M130.07,127.5h2.8M130.53,128.5h2.8M130.77,125.5h2.8M131.33,128.5h2.8M131.66,133.5h2.8M132.09,128.5h2.8M132.4,130.5h2.8M132.73,128.5h2.8M133.38,121.5h2.8M133.57,129.5h2.8M133.82,126.5h2.8M134.46,126.5h2.8M134.92,125.5h2.8M135.19,126.5h2.8M135.69,136.5h2.8M135.81,130.5h2.8M136.28,131.5h2.8M136.83,141.5h2.8M136.99,135.5h2.8M137.5,135.5h2.8M137.76,145.5h2.8M138.16,139.5h2.8M138.51,150.5h2.8M138.83,147.5h2.8M139.24,140.5h2.8M139.87,150.5h2.8M140.2,150.5h2.8M140.48,147.5h2.8M140.91,145.5h2.8M141.31,144.5h2.8M141.68,140.5h2.8M142.13,149.5h2.8M142.33,138.5h2.8M142.75,135.5h2.8M143.14,143.5h2.8M143.43,137.5h2.8M144.04,145.5h2.8M144.2,134.5h2.8M144.7,139.5h2.8M145.22,131.5h2.8M145.49,131.5h2.8M145.73,124.5h2.8M146.22,125.5h2.8M146.85,134.5h2.8M147,122.5h2.8M147.25,134.5h2.8M147.77,133.5h2.8M148.25,119.5h2.8M148.53,125.5h2.8M148.85,118.5h2.8M149.55,121.5h2.8M149.79,110.5h2.8M150.22,122.5h2.8M150.49,124.5h2.8M150.82,124.5h2.8M151.35,124.5h2.8M151.54,123.5h2.8M151.92,122.5h2.8M152.26,119.5h2.8M152.68,123.5h2.8M153.23,123.5h2.8M153.67,116.5h2.8M153.94,123.5h2.8M154.25,120.5h2.8M154.77,125.5h2.8M155.09,130.5h2.8M155.7,121.5h2.8M155.79,128.5h2.8M156.3,125.5h2.8M156.64,129.5h2.8M156.98,133.5h2.8M157.6,136.5h2.8M157.92,131.5h2.8M158.14,130.5h2.8M158.43,130.5h2.8M158.99,129.5h2.8M159.28,133.5h2.8M159.63,125.5h2.8M160.3,131.5h2.8M160.44,127.5h2.8M160.82,132.5h2.8M161.14,136.5h2.8M161.64,123.5h2.8M162.24,128.5h2.8M162.63,130.5h2.8M163,127.5h2.8M163.14,128.5h2.8M163.47,123.5h2.8M163.97,129.5h2.8M164.47,130.5h2.8M164.85,133.5h2.8M165,133.5h2.8M165.46,129.5h2.8M166.04,124.5h2.8M166.28,128.5h2.8M166.64,133.5h2.8M167.23,135.5h2.8M167.31,141.5h2.8M167.95,147.5h2.8M168.28,146.5h2.8M168.43,135.5h2.8M169.09,151.5h2.8M169.39,141.5h2.8M169.62,142.5h2.8M170.28,148.5h2.8M170.4,139.5h2.8M170.91,132.5h2.8M171.3,140.5h2.8M171.75,138.5h2.8M171.99,143.5h2.8M172.49,144.5h2.8M172.78,140.5h2.8M173.08,131.5h2.8M173.79,141.5h2.8M173.99,136.5h2.8M174.45,134.5h2.8M174.69,143.5h2.8M175.25,140.5h2.8M175.42,137.5h2.8M175.89,133.5h2.8M176.49,152.5h2.8M176.87,141.5h2.8M176.98,149.5h2.8M177.55,134.5h2.8M177.67,138.5h2.8M178.2,140.5h2.8M178.57,143.5h2.8M179.04,138.5h2.8M179.46,131.5h2.8M179.87,144.5h2.8M180.12,142.5h2.8M180.52,138.5h2.8M180.95,141.5h2.8M181.26,135.5h2.8M181.8,124.5h2.8M181.96,134.5h2.8M182.48,144.5h2.8M183.01,133.5h2.8M183.07,137.5h2.8M183.46,146.5h2.8M183.99,137.5h2.8M184.37,138.5h2.8M184.75,141.5h2.8M185.32,141.5h2.8M185.7,142.5h2.8M186.04,139.5h2.8M186.14,136.5h2.8M186.84,144.5h2.8M187.18,136.5h2.8M187.33,147.5h2.8M187.94,146.5h2.8M188.33,136.5h2.8M188.45,137.5h2.8M188.88,138.5h2.8M189.38,149.5h2.8M189.66,139.5h2.8M190.29,148.5h2.8M190.39,137.5h2.8M190.83,141.5h2.8M191.16,139.5h2.8M191.88,144.5h2.8M192.12,145.5h2.8M192.47,143.5h2.8M192.82,146.5h2.8M193.11,131.5h2.8M193.79,142.5h2.8M194.08,145.5h2.8M194.54,147.5h2.8M194.68,149.5h2.8M195.24,145.5h2.8M195.59,146.5h2.8M195.85,148.5h2.8M196.4,146.5h2.8M196.67,136.5h2.8M196.95,144.5h2.8M197.6,144.5h2.8M197.72,137.5h2.8M198.2,139.5h2.8M198.67,122.5h2.8M198.84,127.5h2.8M199.32,123.5h2.8M199.66,127.5h2.8M200.25,133.5h2.8M200.64,125.5h2.8M200.83,134.5h2.8M201.15,127.5h2.8M201.85,118.5h2.8M202.16,125.5h2.8M202.42,124.5h2.8M202.91,125.5h2.8M203.1,129.5h2.8M203.54,124.5h2.8M204.01,127.5h2.8M204.4,123.5h2.8M204.6,122.5h2.8M205.24,139.5h2.8M205.63,126.5h2.8M205.89,119.5h2.8M206.51,126.5h2.8M206.65,127.5h2.8M207.03,118.5h2.8M207.55,125.5h2.8M207.7,127.5h2.8M208.13,127.5h2.8M208.54,132.5h2.8M208.94,125.5h2.8M209.42,125.5h2.8M209.7,125.5h2.8M210.13,130.5h2.8M210.64,134.5h2.8M211.12,133.5h2.8M211.5,124.5h2.8M211.73,129.5h2.8M212.06,127.5h2.8M212.34,127.5h2.8M212.76,131.5h2.8M213.2,126.5h2.8M213.51,123.5h2.8M214.04,128.5h2.8M214.28,126.5h2.8M214.67,124.5h2.8M215.34,124.5h2.8M215.67,129.5h2.8M215.78,125.5h2.8M216.39,127.5h2.8M216.58,128.5h2.8M217,126.5h2.8M217.42,127.5h2.8M217.94,130.5h2.8M218.42,127.5h2.8M218.55,127.5h2.8M219.18,131.5h2.8M219.29,132.5h2.8M219.67,124.5h2.8M220.34,126.5h2.8M220.67,127.5h2.8M221.08,129.5h2.8M221.18,129.5h2.8M221.55,126.5h2.8M222.1,125.5h2.8M222.64,131.5h2.8M222.82,129.5h2.8M223.26,127.5h2.8M223.62,126.5h2.8M224.11,137.5h2.8M224.47,129.5h2.8M224.65,129.5h2.8M225.32,128.5h2.8M225.74,127.5h2.8M225.82,127.5h2.8M226.43,128.5h2.8M226.59,124.5h2.8M227.17,126.5h2.8M227.65,127.5h2.8M227.99,132.5h2.8M228.45,126.5h2.8M228.57,126.5h2.8M229.11,131.5h2.8M229.34,126.5h2.8M229.96,124.5h2.8M230.09,125.5h2.8M230.6,126.5h2.8M230.77,124.5h2.8M231.24,130.5h2.8M231.55,129.5h2.8M232.08,130.5h2.8M232.49,130.5h2.8M232.9,119.5h2.8M233.31,133.5h2.8M233.55,124.5h2.8M233.96,128.5h2.8M234.27,131.5h2.8M234.98,123.5h2.8M235.21,128.5h2.8M235.44,129.5h2.8M235.86,128.5h2.8M236.48,129.5h2.8M236.57,124.5h2.8M237.08,129.5h2.8M237.38,126.5h2.8M238,131.5h2.8M238.29,128.5h2.8M238.71,130.5h2.8M238.84,129.5h2.8M239.58,121.5h2.8M239.66,129.5h2.8M240.12,128.5h2.8M240.74,128.5h2.8M241,123.5h2.8M241.4,129.5h2.8M241.65,126.5h2.8M242.11,142.5h2.8M242.53,128.5h2.8M242.94,128.5h2.8M243.12,137.5h2.8M243.77,118.5h2.8M244.1,125.5h2.8M244.56,125.5h2.8M244.94,136.5h2.8M245.14,125.5h2.8M245.62,131.5h2.8M245.85,127.5h2.8M246.46,128.5h2.8M246.86,129.5h2.8M246.93,129.5h2.8M247.63,131.5h2.8M247.95,121.5h2.8M248.2,122.5h2.8M248.7,124.5h2.8M249.03,129.5h2.8M249.43,129.5h2.8M249.96,131.5h2.8M250.08,125.5h2.8M250.4,127.5h2.8M250.87,130.5h2.8M251.29,128.5h2.8M251.83,130.5h2.8M251.96,134.5h2.8M252.54,126.5h2.8M252.84,124.5h2.8M253.16,122.5h2.8M253.54,131.5h2.8M253.92,120.5h2.8M254.53,130.5h2.8M254.69,123.5h2.8M255.06,124.5h2.8M255.41,121.5h2.8M255.97,130.5h2.8M256.5,131.5h2.8M256.88,143.5h2.8M257.21,129.5h2.8M257.54,112.5h2.8M257.72,122.5h2.8M258.4,131.5h2.8M258.57,122.5h2.8M259.12,124.5h2.8M259.37,131.5h2.8M259.67,132.5h2.8M260.34,135.5h2.8M260.73,126.5h2.8M261.01,129.5h2.8M261.33,111.5h2.8M261.7,124.5h2.8M262.08,124.5h2.8M262.64,119.5h2.8M262.95,132.5h2.8M263.25,128.5h2.8M263.48,129.5h2.8M264.14,125.5h2.8M264.27,133.5h2.8M264.77,123.5h2.8M265.28,134.5h2.8M265.76,121.5h2.8M265.8,129.5h2.8M266.32,128.5h2.8M266.56,127.5h2.8M267.06,125.5h2.8M267.55,124.5h2.8M267.78,143.5h2.8M268.16,129.5h2.8M268.78,124.5h2.8M269.18,129.5h2.8M269.4,128.5h2.8M269.68,131.5h2.8M270.17,132.5h2.8M270.63,127.5h2.8M271.02,122.5h2.8M271.21,129.5h2.8M271.67,129.5h2.8M271.95,127.5h2.8M272.66,130.5h2.8M272.99,137.5h2.8M273.38,128.5h2.8M273.74,123.5h2.8M274.17,131.5h2.8M274.35,128.5h2.8M274.78,138.5h2.8M275.38,135.5h2.8M275.47,131.5h2.8M275.98,132.5h2.8M276.3,132.5h2.8M276.75,130.5h2.8M277.06,133.5h2.8M277.68,127.5h2.8M277.72,124.5h2.8M278.38,129.5h2.8M278.57,129.5h2.8M279.24,130.5h2.8M279.48,130.5h2.8M279.69,130.5h2.8M280.1,129.5h2.8M280.58,126.5h2.8M280.87,132.5h2.8M281.52,135.5h2.8M281.78,123.5h2.8M282.19,135.5h2.8M282.53,126.5h2.8M282.88,130.5h2.8M283.38,125.5h2.8M283.72,129.5h2.8M284.09,131.5h2.8M284.55,130.5h2.8M284.89,127.5h2.8M285.08,133.5h2.8M285.54,130.5h2.8M286.16,129.5h2.8M286.27,134.5h2.8M286.57,124.5h2.8M286.97,129.5h2.8M287.69,132.5h2.8M288.01,126.5h2.8M288.42,134.5h2.8M288.52,129.5h2.8M289.16,131.5h2.8M289.58,134.5h2.8M289.77,133.5h2.8M290.11,127.5h2.8M290.74,128.5h2.8M290.82,132.5h2.8M291.35,129.5h2.8M291.85,130.5h2.8M292.24,132.5h2.8M292.64,133.5h2.8M292.72,133.5h2.8M293.31,137.5h2.8M293.67,131.5h2.8M294.06,129.5h2.8M294.32,128.5h2.8M294.96,136.5h2.8M295.27,133.5h2.8M295.72,135.5h2.8M296.14,128.5h2.8M296.52,133.5h2.8M296.67,138.5h2.8M297.05,131.5h2.8M297.65,129.5h2.8M297.91,131.5h2.8M298.15,137.5h2.8M298.71,128.5h2.8M299.24,130.5h2.8M299.43,126.5h2.8M299.79,124.5h2.8M300.39,132.5h2.8M300.64,124.5h2.8M300.87,126.5h2.8M301.43,120.5h2.8M301.66,119.5h2.8M302.32,120.5h2.8M302.72,121.5h2.8M303.08,125.5h2.8M303.12,119.5h2.8M303.61,128.5h2.8M304.1,125.5h2.8M304.48,126.5h2.8M304.8,127.5h2.8M305.35,126.5h2.8M305.74,127.5h2.8M305.89,137.5h2.8M306.47,128.5h2.8M306.75,136.5h2.8M307.19,131.5h2.8M307.35,131.5h2.8M307.96,131.5h2.8M308.3,129.5h2.8M308.56,130.5h2.8M309.24,135.5h2.8M309.47,135.5h2.8M309.73,130.5h2.8M310.4,133.5h2.8M310.58,131.5h2.8M310.81,135.5h2.8M311.43,132.5h2.8M311.62,132.5h2.8M311.98,130.5h2.8M312.4,130.5h2.8M312.88,130.5h2.8M313.26,132.5h2.8M313.56,133.5h2.8M314.05,131.5h2.8M314.4,133.5h2.8M314.99,131.5h2.8M315.23,128.5h2.8M315.76,132.5h2.8M315.83,129.5h2.8M316.34,133.5h2.8M316.87,132.5h2.8M317.2,133.5h2.8M317.46,134.5h2.8M317.91,132.5h2.8M318.14,130.5h2.8M318.78,141.5h2.8M318.96,128.5h2.8M319.46,129.5h2.8M319.96,134.5h2.8M320.08,132.5h2.8M320.44,130.5h2.8M321.06,129.5h2.8M321.19,132.5h2.8M321.87,135.5h2.8M322.01,134.5h2.8M322.6,133.5h2.8M322.87,131.5h2.8M323.44,132.5h2.8M323.87,129.5h2.8M324.25,135.5h2.8M324.59,134.5h2.8M324.86,131.5h2.8M325.22,130.5h2.8M325.79,132.5h2.8M325.86,132.5h2.8M326.32,132.5h2.8M326.93,131.5h2.8M327.1,131.5h2.8M327.57,133.5h2.8M327.92,133.5h2.8M328.15,131.5h2.8M328.86,134.5h2.8M329.06,134.5h2.8M329.48,130.5h2.8M330.03,133.5h2.8M330.08,135.5h2.8M330.65,131.5h2.8M331.01,133.5h2.8M331.38,131.5h2.8M331.84,131.5h2.8M332.17,129.5h2.8M332.45,127.5h2.8M332.77,132.5h2.8M333.23,133.5h2.8M333.84,131.5h2.8M334.12,131.5h2.8M334.37,131.5h2.8M334.92,129.5h2.8M335.28,130.5h2.8M335.5,132.5h2.8M336.16,131.5h2.8M336.43,134.5h2.8M336.71,132.5h2.8M337.09,132.5h2.8M337.44,131.5h2.8M338,136.5h2.8M338.37,133.5h2.8M338.88,135.5h2.8M339.25,131.5h2.8M339.58,129.5h2.8M339.84,131.5h2.8M340.08,132.5h2.8M340.64,132.5h2.8M341.17,133.5h2.8M341.37,133.5h2.8M341.79,132.5h2.8M342.23,130.5h2.8M342.43,134.5h2.8M343.12,136.5h2.8M343.36,133.5h2.8M343.53,135.5h2.8M344.08,131.5h2.8M344.5,132.5h2.8M344.89,133.5h2.8M345.24,133.5h2.8M345.78,133.5h2.8M346,134.5h2.8M346.42,132.5h2.8M346.91,133.5h2.8M347.33,134.5h2.8M347.41,128.5h2.8M347.89,134.5h2.8M348.44,134.5h2.8M348.77,132.5h2.8M349.07,137.5h2.8M349.56,130.5h2.8M349.74,132.5h2.8M350.09,131.5h2.8M350.62,131.5h2.8M350.95,133.5h2.8M351.47,132.5h2.8M351.73,132.5h2.8M352.15,136.5h2.8M352.72,134.5h2.8M353.06,131.5h2.8M353.47,136.5h2.8M353.69,132.5h2.8M354.24,133.5h2.8M354.45,135.5h2.8M354.7,135.5h2.8M355.44,137.5h2.8M355.76,135.5h2.8M355.91,137.5h2.8M356.46,135.5h2.8M356.76,132.5h2.8M357.32,136.5h2.8M357.51,138.5h2.8M357.84,137.5h2.8M358.32,129.5h2.8M358.62,125.5h2.8M359.18,137.5h2.8M359.46,132.5h2.8M359.88,135.5h2.8M360.43,127.5h2.8M360.74,132.5h2.8M361.18,134.5h2.8M361.38,132.5h2.8M361.7,133.5h2.8M362.27,130.5h2.8M362.58,131.5h2.8M362.77,130.5h2.8M363.15,133.5h2.8M363.69,133.5h2.8M363.99,129.5h2.8M364.57,134.5h2.8M364.91,131.5h2.8M365.3,135.5h2.8M365.5,132.5h2.8M366.07,133.5h2.8M366.44,133.5h2.8M366.85,133.5h2.8M367.17,132.5h2.8M367.44,136.5h2.8M368.13,132.5h2.8M368.29,129.5h2.8M368.62,132.5h2.8M369.09,131.5h2.8M369.37,132.5h2.8M369.86,131.5h2.8M370.36,132.5h2.8M370.8,130.5h2.8M371.09,136.5h2.8M371.47,133.5h2.8M371.71,130.5h2.8M372.17,133.5h2.8M372.39,132.5h2.8M372.87,131.5h2.8M373.32,131.5h2.8M373.9,130.5h2.8M374.28,135.5h2.8M374.51,135.5h2.8M374.73,133.5h2.8M375.34,133.5h2.8M375.67,138.5h2.8M376.14,132.5h2.8M376.48,133.5h2.8M376.79,130.5h2.8M377.07,133.5h2.8M377.66,131.5h2.8M377.78,134.5h2.8M378.31,131.5h2.8M378.86,132.5h2.8M378.97,131.5h2.8M379.56,134.5h2.8M379.85,137.5h2.8M380.35,133.5h2.8M380.66,135.5h2.8M381.01,132.5h2.8M381.29,136.5h2.8M381.88,134.5h2.8M382.3,133.5h2.8M382.45,133.5h2.8M383.01,133.5h2.8M383.2,132.5h2.8M383.83,135.5h2.8M384.05,136.5h2.8M384.62,135.5h2.8M384.8,133.5h2.8M385.31,137.5h2.8M385.71,133.5h2.8M386.12,132.5h2.8M386.54,135.5h2.8M386.83,133.5h2.8M387.18,136.5h2.8M387.39,139.5h2.8M388.08,138.5h2.8M388.29,136.5h2.8M388.78,138.5h2.8M389.25,138.5h2.8M389.33,140.5h2.8M389.77,141.5h2.8M390.21,137.5h2.8M390.84,141.5h2.8M390.89,138.5h2.8M391.35,133.5h2.8M391.81,136.5h2.8M392.26,134.5h2.8M392.61,137.5h2.8M392.9,139.5h2.8M393.25,138.5h2.8M393.63,136.5h2.8M394.23,136.5h2.8M394.59,137.5h2.8M394.83,138.5h2.8M395.39,133.5h2.8M395.55,137.5h2.8M396.2,140.5h2.8M396.35,142.5h2.8M396.7,143.5h2.8M397.32,140.5h2.8M397.53,138.5h2.8M397.98,127.5h2.8M398.29,137.5h2.8M398.76,142.5h2.8M399.12,138.5h2.8M399.47,137.5h2.8M400.08,135.5h2.8M400.26,140.5h2.8M400.59,130.5h2.8M401.04,134.5h2.8M401.37,135.5h2.8M401.64,134.5h2.8M402.28,132.5h2.8M402.46,135.5h2.8M402.93,136.5h2.8M403.3,133.5h2.8M403.76,132.5h2.8M404.02,134.5h2.8M404.49,132.5h2.8M404.96,136.5h2.8M405.35,135.5h2.8M405.55,134.5h2.8M406.12,134.5h2.8M406.4,133.5h2.8M406.9,134.5h2.8M407.24,132.5h2.8M407.5,134.5h2.8M407.87,132.5h2.8M408.31,139.5h2.8M408.82,132.5h2.8M409.29,138.5h2.8M409.61,137.5h2.8M410.02,137.5h2.8M410.27,142.5h2.8M410.63,134.5h2.8M410.86,133.5h2.8M411.38,133.5h2.8M411.67,137.5h2.8M412.1,132.5h2.8M412.51,132.5h2.8M412.99,136.5h2.8M413.38,133.5h2.8M413.68,136.5h2.8M414.23,134.5h2.8M414.52,136.5h2.8M415.08,135.5h2.8M415.38,130.5h2.8M415.55,139.5h2.8M416.24,133.5h2.8M416.39,139.5h2.8M416.69,130.5h2.8M417.21,133.5h2.8M417.42,135.5h2.8M418.02,137.5h2.8M418.27,137.5h2.8M418.63,137.5h2.8M419.21,137.5h2.8M419.34,137.5h2.8M419.84,141.5h2.8M420.34,135.5h2.8M420.8,133.5h2.8M421.09,132.5h2.8M421.33,135.5h2.8M421.84,135.5h2.8M422.16,132.5h2.8M422.64,137.5h2.8M423.17,139.5h2.8M423.54,144.5h2.8M423.91,139.5h2.8M424.15,139.5h2.8M424.53,137.5h2.8M425.1,140.5h2.8M425.29,138.5h2.8M425.77,140.5h2.8M426.18,138.5h2.8M426.36,134.5h2.8M426.91,138.5h2.8M427.26,136.5h2.8M427.5,137.5h2.8M427.98,141.5h2.8M428.24,139.5h2.8M428.91,139.5h2.8M429.14,137.5h2.8M429.38,132.5h2.8M430.08,138.5h2.8M430.26,138.5h2.8M430.6,133.5h2.8M430.99,136.5h2.8M431.53,141.5h2.8M431.68,136.5h2.8M432.22,137.5h2.8M432.77,140.5h2.8M433.08,138.5h2.8M433.53,136.5h2.8M433.75,137.5h2.8M434.33,140.5h2.8M434.66,139.5h2.8M435,137.5h2.8M435.21,140.5h2.8M435.74,138.5h2.8M436.24,137.5h2.8M436.62,143.5h2.8M436.78,139.5h2.8M437.24,142.5h2.8M437.43,141.5h2.8M438,139.5h2.8M438.52,137.5h2.8M438.94,136.5h2.8M439.24,137.5h2.8M439.66,131.5h2.8M439.86,139.5h2.8M440.18,136.5h2.8M440.69,139.5h2.8M441.04,138.5h2.8M441.55,136.5h2.8M441.95,135.5h2.8M442.4,135.5h2.8M442.46,137.5h2.8M443.02,137.5h2.8M443.25,136.5h2.8M443.72,135.5h2.8M444.22,133.5h2.8M444.41,136.5h2.8M444.86,135.5h2.8M445.38,139.5h2.8M445.7,144.5h2.8M446.14,135.5h2.8M446.59,135.5h2.8M446.9,133.5h2.8M447.18,136.5h2.8M447.53,133.5h2.8M448.11,134.5h2.8M448.38,135.5h2.8M448.88,136.5h2.8M449.19,133.5h2.8M449.47,134.5h2.8M449.83,134.5h2.8M450.14,134.5h2.8M450.78,137.5h2.8M451.1,133.5h2.8M451.6,135.5h2.8M451.97,134.5h2.8M452.04,133.5h2.8M452.47,133.5h2.8M453.02,133.5h2.8M453.46,138.5h2.8M453.73,130.5h2.8M453.97,134.5h2.8M454.61,132.5h2.8M454.84,135.5h2.8M455.13,133.5h2.8M455.73,132.5h2.8M456.22,135.5h2.8M456.41,130.5h2.8M456.67,133.5h2.8M457.13,136.5h2.8M457.62,132.5h2.8M457.89,132.5h2.8M458.35,135.5h2.8M458.75,131.5h2.8M459.27,133.5h2.8M459.54,135.5h2.8M460.11,132.5h2.8M460.23,131.5h2.8M460.68,136.5h2.8M461.21,134.5h2.8M461.55,131.5h2.8M461.83,133.5h2.8M462.18,134.5h2.8M462.71,133.5h2.8M463.16,133.5h2.8M463.33,132.5h2.8M463.8,131.5h2.8M464.05,131.5h2.8M464.59,132.5h2.8M464.85,131.5h2.8M465.45,132.5h2.8M465.82,133.5h2.8M466.23,130.5h2.8M466.3,133.5h2.8M466.87,131.5h2.8M467.19,131.5h2.8M467.8,133.5h2.8M468.08,126.5h2.8M468.26,131.5h2.8M468.78,133.5h2.8M469.09,131.5h2.8M469.5,129.5h2.8M470.02,131.5h2.8M470.2,132.5h2.8M470.82,131.5h2.8M471.05,130.5h2.8M471.34,134.5h2.8M472.02,134.5h2.8M472.23,128.5h2.8M472.5,134.5h2.8M472.87,133.5h2.8M473.46,130.5h2.8M473.96,132.5h2.8M474.28,133.5h2.8M474.49,130.5h2.8M474.83,132.5h2.8M475.18,130.5h2.8M475.58,130.5h2.8M476.25,128.5h2.8M476.57,132.5h2.8M477.03,131.5h2.8M477.16,134.5h2.8M477.73,133.5h2.8M477.96,133.5h2.8M478.24,131.5h2.8M478.7,132.5h2.8M479.05,132.5h2.8M479.62,131.5h2.8M480.07,132.5h2.8M480.26,130.5h2.8M480.58,131.5h2.8M481.16,124.5h2.8M481.39,132.5h2.8M481.82,132.5h2.8M482.06,132.5h2.8M482.78,130.5h2.8M482.91,130.5h2.8M483.24,132.5h2.8M483.61,130.5h2.8M484.36,132.5h2.8M484.72,129.5h2.8M484.81,129.5h2.8M485.19,131.5h2.8M485.76,130.5h2.8M486.16,129.5h2.8M486.67,129.5h2.8M487.01,129.5h2.8M487.23,128.5h2.8M487.58,130.5h2.8M488.11,133.5h2.8M488.31,130.5h2.8M488.74,132.5h2.8M489.32,129.5h2.8M489.52,131.5h2.8M489.87,136.5h2.8M490.28,130.5h2.8M490.67,127.5h2.8M490.97,132.5h2.8M491.64,133.5h2.8M491.99,130.5h2.8M492.09,139.5h2.8M492.64,133.5h2.8M493.17,134.5h2.8M493.34,132.5h2.8M493.8,132.5h2.8M494.07,132.5h2.8M494.65,129.5h2.8M494.84,133.5h2.8M495.51,133.5h2.8M495.9,134.5h2.8M496.22,136.5h2.8M496.6,131.5h2.8M496.84,129.5h2.8M497.12,132.5h2.8M497.76,131.5h2.8M497.87,132.5h2.8M498.4,129.5h2.8M498.95,133.5h2.8M499.06,130.5h2.8M499.54,131.5h2.8M499.87,129.5h2.8M500.21,130.5h2.8M500.79,126.5h2.8M501.03,130.5h2.8M501.33,130.5h2.8M501.68,132.5h2.8M502.38,132.5h2.8M502.53,132.5h2.8M503.1,132.5h2.8M503.31,128.5h2.8M503.75,133.5h2.8M504.14,131.5h2.8M504.74,132.5h2.8M505.02,129.5h2.8M505.42,134.5h2.8M505.83,131.5h2.8M506.02,133.5h2.8M506.67,135.5h2.8M507.02,133.5h2.8M507.34,127.5h2.8M507.73,132.5h2.8M508.18,131.5h2.8M508.58,132.5h2.8M508.97,131.5h2.8M509.26,133.5h2.8M509.47,133.5h2.8M510.04,134.5h2.8M510.28,131.5h2.8M510.7,135.5h2.8M510.94,133.5h2.8M511.4,131.5h2.8M511.78,132.5h2.8M512.27,133.5h2.8M512.79,132.5h2.8M512.92,137.5h2.8M513.33,130.5h2.8M513.85,132.5h2.8M514.31,133.5h2.8M514.47,140.5h2.8M514.8,130.5h2.8M515.3,132.5h2.8M515.71,136.5h2.8M516.29,131.5h2.8M516.56,131.5h2.8M516.79,132.5h2.8M517.28,132.5h2.8M517.55,132.5h2.8M518.1,133.5h2.8M518.26,133.5h2.8M518.85,132.5h2.8M519.31,133.5h2.8M519.39,132.5h2.8M519.78,134.5h2.8M520.37,132.5h2.8M520.72,130.5h2.8M520.98,132.5h2.8M521.31,133.5h2.8M521.93,133.5h2.8M522.08,133.5h2.8M522.56,127.5h2.8M523.2,129.5h2.8M523.59,128.5h2.8M523.69,108.5h2.8M524.26,127.5h2.8M524.55,123.5h2.8M525.09,122.5h2.8M525.16,124.5h2.8M525.58,120.5h2.8M525.97,123.5h2.8M526.54,121.5h2.8M526.97,121.5h2.8M527.3,118.5h2.8M527.82,118.5h2.8M528.19,117.5h2.8M528.56,127.5h2.8M529,112.5h2.8M529.09,120.5h2.8M529.4,118.5h2.8M529.78,117.5h2.8M530.25,118.5h2.8M530.73,114.5h2.8M531.02,109.5h2.8M533.53,168.5h2.8M533.93,168.5h2.8M534.51,168.5h2.8M534.69,169.5h2.8M534.97,164.5h2.8M535.62,166.5h2.8M535.99,169.5h2.8M536.2,170.5h2.8M536.66,169.5h2.8M536.97,168.5h2.8M537.24,169.5h2.8M537.99,165.5h2.8M538.13,163.5h2.8M538.45,169.5h2.8M539.15,168.5h2.8M539.47,164.5h2.8M539.77,165.5h2.8M540.19,160.5h2.8M540.59,165.5h2.8M540.86,168.5h2.8M541.35,166.5h2.8M541.49,164.5h2.8M542.04,168.5h2.8M542.54,161.5h2.8M542.89,165.5h2.8M543.12,156.5h2.8M543.56,163.5h2.8M544.02,164.5h2.8M544.24,167.5h2.8M544.6,163.5h2.8M544.98,164.5h2.8M545.65,173.5h2.8M545.84,162.5h2.8M546.46,164.5h2.8M546.82,159.5h2.8M546.87,161.5h2.8M547.36,164.5h2.8M547.83,161.5h2.8M548.09,161.5h2.8M548.79,163.5h2.8M548.87,164.5h2.8M549.38,162.5h2.8M549.79,167.5h2.8M550.05,162.5h2.8M550.67,161.5h2.8M551.05,167.5h2.8M551.37,162.5h2.8M551.6,160.5h2.8M551.96,162.5h2.8M552.57,164.5h2.8M552.82,161.5h2.8M553.14,166.5h2.8M553.55,162.5h2.8M553.86,162.5h2.8M554.55,166.5h2.8M554.78,162.5h2.8M555.12,165.5h2.8M555.42,164.5h2.8M555.97,161.5h2.8M556.28,163.5h2.8M556.52,162.5h2.8M556.99,163.5h2.8M557.39,164.5h2.8M557.91,165.5h2.8M558.41,164.5h2.8M558.65,164.5h2.8M559.07,160.5h2.8M559.25,167.5h2.8M559.64,167.5h2.8M560.23,165.5h2.8M560.66,156.5h2.8M560.84,165.5h2.8M561.53,166.5h2.8M561.9,166.5h2.8M562.16,164.5h2.8M562.51,169.5h2.8M563.02,161.5h2.8M563.24,161.5h2.8M563.51,166.5h2.8M563.88,165.5h2.8M564.3,166.5h2.8M564.99,164.5h2.8M565.2,160.5h2.8M565.41,162.5h2.8M566.08,164.5h2.8M566.45,162.5h2.8M566.8,160.5h2.8M567.18,165.5h2.8M567.62,163.5h2.8M568.03,165.5h2.8M568.21,163.5h2.8M568.79,160.5h2.8M569.1,163.5h2.8M569.6,164.5h2.8M569.8,161.5h2.8M570.18,164.5h2.8M570.44,153.5h2.8M571.06,163.5h2.8M571.52,162.5h2.8M571.68,165.5h2.8M572.16,161.5h2.8M572.59,163.5h2.8M572.74,166.5h2.8M573.48,163.5h2.8M573.73,162.5h2.8M574.17,163.5h2.8M574.57,165.5h2.8M574.67,165.5h2.8M575.21,166.5h2.8M575.57,166.5h2.8M575.95,168.5h2.8M576.28,165.5h2.8M576.67,160.5h2.8M577.35,165.5h2.8M577.51,164.5h2.8M578.06,165.5h2.8M578.24,166.5h2.8M578.53,166.5h2.8M579.27,164.5h2.8M579.38,161.5h2.8M580.02,166.5h2.8M580.32,161.5h2.8M580.52,162.5h2.8M581.17,164.5h2.8M581.23,165.5h2.8M581.71,166.5h2.8M582.01,161.5h2.8M582.42,166.5h2.8M582.83,157.5h2.8M583.38,163.5h2.8M583.62,166.5h2.8M584.24,163.5h2.8M584.59,167.5h2.8M584.71,165.5h2.8M585.32,166.5h2.8M585.65,164.5h2.8M586.17,166.5h2.8M586.55,167.5h2.8M586.7,166.5h2.8M587.32,166.5h2.8M587.75,164.5h2.8M587.99,174.5h2.8M588.42,165.5h2.8M588.61,164.5h2.8M589.29,165.5h2.8M589.62,168.5h2.8M589.86,163.5h2.8M590.35,167.5h2.8M590.76,167.5h2.8M591.2,166.5h2.8M591.53,164.5h2.8M591.78,168.5h2.8M592.21,168.5h2.8M592.72,173.5h2.8M592.86,163.5h2.8M593.28,166.5h2.8M593.86,170.5h2.8M594.14,167.5h2.8M594.55,161.5h2.8M594.91,166.5h2.8M595.21,164.5h2.8M595.77,165.5h2.8M596.23,167.5h2.8M596.46,164.5h2.8M596.89,175.5h2.8M597.04,167.5h2.8M597.46,165.5h2.8M598.05,161.5h2.8M598.47,164.5h2.8M598.65,162.5h2.8M599.29,162.5h2.8M599.42,160.5h2.8M599.89,164.5h2.8M600.48,168.5h2.8M600.78,168.5h2.8M600.98,167.5h2.8M601.57,167.5h2.8M601.89,166.5h2.8M602.1,167.5h2.8M602.75,166.5h2.8M602.99,164.5h2.8M603.36,169.5h2.8M603.95,165.5h2.8M604.35,161.5h2.8M604.69,165.5h2.8M605.02,164.5h2.8M605.17,163.5h2.8M605.56,162.5h2.8M606.14,164.5h2.8M606.49,164.5h2.8M606.76,165.5h2.8M607.28,163.5h2.8M607.84,166.5h2.8M608.14,168.5h2.8M608.25,166.5h2.8M608.76,167.5h2.8M609.36,162.5h2.8M609.61,163.5h2.8M610.09,165.5h2.8M610.28,166.5h2.8M610.56,163.5h2.8M611.23,163.5h2.8M611.52,157.5h2.8M612.07,164.5h2.8M612.31,166.5h2.8M612.71,165.5h2.8M613.17,163.5h2.8M613.44,165.5h2.8M613.73,164.5h2.8M614.05,164.5h2.8M614.74,164.5h2.8M614.85,165.5h2.8M615.47,166.5h2.8M615.68,162.5h2.8M615.96,164.5h2.8M616.35,165.5h2.8M617.07,166.5h2.8M617.46,158.5h2.8M617.81,164.5h2.8M618.06,163.5h2.8M618.33,168.5h2.8M618.67,157.5h2.8M619.32,166.5h2.8M619.52,166.5h2.8M620.01,166.5h2.8M620.21,164.5h2.8M620.9,165.5h2.8M621.06,166.5h2.8M621.65,158.5h2.8M622.01,163.5h2.8M622.18,165.5h2.8M622.88,163.5h2.8M623.18,165.5h2.8M623.5,167.5h2.8M623.83,163.5h2.8M624.32,162.5h2.8M624.8,156.5h2.8M624.9,162.5h2.8M625.49,166.5h2.8M625.93,163.5h2.8M626.21,165.5h2.8M626.43,165.5h2.8M626.84,165.5h2.8M627.19,163.5h2.8M627.66,160.5h2.8M628.19,163.5h2.8M628.42,165.5h2.8M628.89,163.5h2.8M629.31,168.5h2.8M629.79,163.5h2.8M629.92,167.5h2.8M630.38,169.5h2.8M630.74,167.5h2.8M631.34,163.5h2.8M631.71,160.5h2.8M631.93,162.5h2.8M632.41,163.5h2.8M632.59,163.5h2.8M633.28,160.5h2.8M633.5,164.5h2.8M633.96,168.5h2.8M634.26,164.5h2.8M634.65,162.5h2.8M634.98,168.5h2.8M635.34,163.5h2.8M635.94,165.5h2.8M636.11,170.5h2.8M636.61,161.5h2.8M637,170.5h2.8M637.23,161.5h2.8M637.93,158.5h2.8M638.26,160.5h2.8M638.6,165.5h2.8M638.77,160.5h2.8M639.19,162.5h2.8M639.66,163.5h2.8M639.93,170.5h2.8M640.46,159.5h2.8M640.65,160.5h2.8M642.25,134.5h2.8M642.66,133.5h2.8M642.87,137.5h2.8M643.31,134.5h2.8M643.85,133.5h2.8M644.11,132.5h2.8M644.44,130.5h2.8M644.8,132.5h2.8M645.52,132.5h2.8M645.89,136.5h2.8M646.21,136.5h2.8M646.66,131.5h2.8M646.92,133.5h2.8M647.12,136.5h2.8M647.47,131.5h2.8M648.08,137.5h2.8M648.31,132.5h2.8M648.63,139.5h2.8M649.27,135.5h2.8M649.51,138.5h2.8M649.97,132.5h2.8M650.17,131.5h2.8M650.71,133.5h2.8M651.08,134.5h2.8M651.3,128.5h2.8M651.75,133.5h2.8M652.3,142.5h2.8M652.51,132.5h2.8M653.08,135.5h2.8M653.53,133.5h2.8M653.92,137.5h2.8M653.99,138.5h2.8M654.41,135.5h2.8M654.8,131.5h2.8M655.49,137.5h2.8M655.84,136.5h2.8M655.99,125.5h2.8M656.32,142.5h2.8M657.01,131.5h2.8M657.36,137.5h2.8M657.71,133.5h2.8M658.01,138.5h2.8M658.34,133.5h2.8M658.8,128.5h2.8M659.04,133.5h2.8M659.41,138.5h2.8M659.84,135.5h2.8M660.4,138.5h2.8M660.72,136.5h2.8M661.02,136.5h2.8M661.29,134.5h2.8M661.84,137.5h2.8M662.34,137.5h2.8M662.77,136.5h2.8M663.12,137.5h2.8M663.46,139.5h2.8M663.83,136.5h2.8M664.22,134.5h2.8M664.48,135.5h2.8M664.8,136.5h2.8M665.5,139.5h2.8M665.8,135.5h2.8M666.1,134.5h2.8M666.35,134.5h2.8M667,134.5h2.8M667.39,138.5h2.8M667.56,132.5h2.8M668.18,137.5h2.8M668.4,139.5h2.8M668.86,140.5h2.8M669.18,136.5h2.8M669.74,138.5h2.8M669.78,138.5h2.8M670.52,138.5h2.8M670.58,143.5h2.8M671.11,138.5h2.8M671.45,137.5h2.8M671.75,143.5h2.8M672.27,139.5h2.8M672.62,139.5h2.8M672.87,135.5h2.8M673.27,141.5h2.8M673.7,147.5h2.8M673.99,136.5h2.8M674.59,137.5h2.8M674.76,135.5h2.8M675.23,142.5h2.8M675.54,143.5h2.8M676.19,142.5h2.8M676.33,137.5h2.8M676.99,138.5h2.8M677.35,143.5h2.8M677.71,137.5h2.8M678.21,140.5h2.8M678.58,121.5h2.8M678.83,140.5h2.8M679.02,131.5h2.8M679.63,142.5h2.8M679.78,139.5h2.8M680.18,138.5h2.8M680.7,142.5h2.8M681.26,139.5h2.8M681.35,140.5h2.8M681.77,140.5h2.8M682.39,139.5h2.8M682.52,141.5h2.8M682.97,140.5h2.8M683.6,145.5h2.8M683.87,141.5h2.8M684.08,140.5h2.8M684.42,137.5h2.8M684.77,131.5h2.8M685.17,140.5h2.8M685.8,145.5h2.8M686.17,140.5h2.8M686.39,140.5h2.8M687.01,144.5h2.8M687.35,140.5h2.8M687.52,138.5h2.8M688.11,137.5h2.8M688.35,147.5h2.8M688.96,139.5h2.8M689.35,141.5h2.8M689.47,142.5h2.8M690.01,143.5h2.8M690.26,144.5h2.8M690.62,140.5h2.8M691.17,143.5h2.8M691.63,141.5h2.8M691.97,143.5h2.8M692.06,146.5h2.8M692.72,142.5h2.8M693.01,141.5h2.8M693.24,140.5h2.8M693.74,137.5h2.8M694.23,142.5h2.8M694.64,141.5h2.8M694.81,134.5h2.8M695.19,142.5h2.8M695.74,141.5h2.8M696.09,141.5h2.8M696.48,143.5h2.8M697.03,140.5h2.8M697.22,144.5h2.8M697.51,147.5h2.8M697.97,145.5h2.8M698.39,144.5h2.8M698.8,140.5h2.8M699.06,146.5h2.8M699.58,141.5h2.8M700.11,144.5h2.8M700.21,138.5h2.8M700.69,142.5h2.8M701.06,150.5h2.8M701.62,142.5h2.8M701.81,143.5h2.8M702.26,144.5h2.8M702.47,141.5h2.8M703.11,134.5h2.8M703.45,145.5h2.8M703.97,144.5h2.8M704.29,143.5h2.8M704.6,143.5h2.8M705,145.5h2.8M705.4,144.5h2.8M705.73,145.5h2.8M706.29,146.5h2.8M706.31,144.5h2.8M706.7,141.5h2.8M707.21,138.5h2.8M707.53,146.5h2.8M708,144.5h2.8M708.34,142.5h2.8M708.64,135.5h2.8M709.12,142.5h2.8M709.43,143.5h2.8M709.88,143.5h2.8M710.33,148.5h2.8M710.54,144.5h2.8M711.01,149.5h2.8M711.51,140.5h2.8M711.7,148.5h2.8M712.19,145.5h2.8M712.81,145.5h2.8M712.89,144.5h2.8M713.26,141.5h2.8M713.98,145.5h2.8M714.02,143.5h2.8M714.69,140.5h2.8M714.91,143.5h2.8M715.47,144.5h2.8M715.59,141.5h2.8M715.95,137.5h2.8M716.49,140.5h2.8M716.94,138.5h2.8M717.06,140.5h2.8M717.51,140.5h2.8M717.84,142.5h2.8M718.36,140.5h2.8M718.81,143.5h2.8M719.16,136.5h2.8M719.41,140.5h2.8M719.82,141.5h2.8M720.43,135.5h2.8M720.55,136.5h2.8M721.16,138.5h2.8M721.64,138.5h2.8M721.86,140.5h2.8M722.2,136.5h2.8M722.73,142.5h2.8M722.89,137.5h2.8M723.51,138.5h2.8M723.72,141.5h2.8M724.22,135.5h2.8M724.7,138.5h2.8M724.96,140.5h2.8M725.3,138.5h2.8M725.64,138.5h2.8M725.94,140.5h2.8M726.43,135.5h2.8M726.68,141.5h2.8M727.33,138.5h2.8M727.47,141.5h2.8M728.03,137.5h2.8M728.36,139.5h2.8M728.98,140.5h2.8M729.05,138.5h2.8M729.47,141.5h2.8M730.09,139.5h2.8M730.44,132.5h2.8M730.59,143.5h2.8M731.23,140.5h2.8M731.53,138.5h2.8M731.68,143.5h2.8M732.15,140.5h2.8M732.52,143.5h2.8M732.88,139.5h2.8M733.52,140.5h2.8M733.95,140.5h2.8M734.34,137.5h2.8M734.61,139.5h2.8M734.81,137.5h2.8M735.42,155.5h2.8M735.7,138.5h2.8M736.04,144.5h2.8M736.6,141.5h2.8M736.75,138.5h2.8M737.11,143.5h2.8M737.48,141.5h2.8M737.88,143.5h2.8M738.51,146.5h2.8M738.6,141.5h2.8M739.34,138.5h2.8M739.4,143.5h2.8M740.08,140.5h2.8M740.46,135.5h2.8M740.6,142.5h2.8M741.16,140.5h2.8M741.35,144.5h2.8M741.73,139.5h2.8M742.23,140.5h2.8M742.48,140.5h2.8M742.96,143.5h2.8M743.44,140.5h2.8M743.67,141.5h2.8M744.1,141.5h2.8M744.47,142.5h2.8M745.03,141.5h2.8M745.44,146.5h2.8M745.9,143.5h2.8M745.92,155.5h2.8M746.42,145.5h2.8M746.74,146.5h2.8M747.31,145.5h2.8M747.53,145.5h2.8M748.12,148.5h2.8M748.54,146.5h2.8M748.64,142.5h2.8M749.04,149.5h2.8M749.38,147.5h2.8M749.98,141.5h2.8M750.16,147.5h2.8M750.62,144.5h2.8M751.15,141.5h2.8M751.37,146.5h2.8M751.91,143.5h2.8M752.22,139.5h2.8M752.65,142.5h2.8M753.2,145.5h2.8M753.56,139.5h2.8M753.73,141.5h2.8M754.07,145.5h2.8M754.66,140.5h2.8M754.84,142.5h2.8M755.2,142.5h2.8M755.77,142.5h2.8M756.26,141.5h2.8M756.37,142.5h2.8M757.01,138.5h2.8M757.31,140.5h2.8M757.52,142.5h2.8M758.2,147.5h2.8M758.32,139.5h2.8M758.94,137.5h2.8M759.27,136.5h2.8M759.45,140.5h2.8M759.96,145.5h2.8M760.35,137.5h2.8M760.64,135.5h2.8M761.2,137.5h2.8M761.41,141.5h2.8M761.95,139.5h2.8M762.07,137.5h2.8M762.66,135.5h2.8M763.12,135.5h2.8M763.26,137.5h2.8M763.9,133.5h2.8M764.31,136.5h2.8M764.52,133.5h2.8M764.87,133.5h2.8M765.17,134.5h2.8M765.82,133.5h2.8M765.97,133.5h2.8M766.53,126.5h2.8M766.83,132.5h2.8M767.32,134.5h2.8M767.67,131.5h2.8M767.88,137.5h2.8M768.48,131.5h2.8M768.6,129.5h2.8M769.02,138.5h2.8M769.39,129.5h2.8M769.92,131.5h2.8M770.2,134.5h2.8M770.84,133.5h2.8M771.15,131.5h2.8M771.34,129.5h2.8M771.78,131.5h2.8M772.13,132.5h2.8M772.49,131.5h2.8M773.01,132.5h2.8M773.47,131.5h2.8M773.89,131.5h2.8M774.12,123.5h2.8M774.69,130.5h2.8M774.98,130.5h2.8M775.52,130.5h2.8M775.69,131.5h2.8M776.15,130.5h2.8M776.46,129.5h2.8M777.05,135.5h2.8M777.4,133.5h2.8M777.63,132.5h2.8M777.87,130.5h2.8M778.37,130.5h2.8M778.7,130.5h2.8M779.23,129.5h2.8M779.57,129.5h2.8M780.09,130.5h2.8M780.31,133.5h2.8M780.71,133.5h2.8M781.11,131.5h2.8M781.44,131.5h2.8M781.81,134.5h2.8M782.4,132.5h2.8M782.78,135.5h2.8M783.19,130.5h2.8M783.56,137.5h2.8M783.87,132.5h2.8M784.12,132.5h2.8M784.5,132.5h2.8M784.86,136.5h2.8M785.36,136.5h2.8M785.71,134.5h2.8M786.05,144.5h2.8M786.6,134.5h2.8M786.85,141.5h2.8M787.4,137.5h2.8M787.74,143.5h2.8M787.87,140.5h2.8M788.32,140.5h2.8M788.97,145.5h2.8M789.1,140.5h2.8M789.69,130.5h2.8M789.93,142.5h2.8M790.4,139.5h2.8M790.71,141.5h2.8M791.12,138.5h2.8M791.47,140.5h2.8M792,144.5h2.8M792.19,136.5h2.8M792.75,139.5h2.8M792.95,143.5h2.8M793.25,138.5h2.8M793.89,140.5h2.8M794.02,139.5h2.8M794.58,142.5h2.8M794.96,147.5h2.8M795.49,146.5h2.8M795.53,140.5h2.8M796.04,139.5h2.8M796.32,139.5h2.8M796.69,146.5h2.8M797.27,142.5h2.8M797.76,142.5h2.8M797.92,141.5h2.8M798.38,136.5h2.8M798.96,138.5h2.8M799.19,132.5h2.8M799.53,137.5h2.8M799.86,136.5h2.8M800.17,137.5h2.8M800.85,135.5h2.8M801.13,136.5h2.8M801.43,137.5h2.8M801.7,137.5h2.8M802.09,134.5h2.8M802.61,134.5h2.8M803.02,134.5h2.8M803.27,135.5h2.8M803.68,130.5h2.8M804.34,133.5h2.8M804.58,136.5h2.8M804.85,133.5h2.8M805.31,133.5h2.8M805.8,130.5h2.8M805.96,128.5h2.8M806.58,132.5h2.8M806.87,133.5h2.8M807.1,132.5h2.8M807.82,129.5h2.8M807.96,132.5h2.8M808.52,131.5h2.8M808.94,131.5h2.8M809.06,129.5h2.8M809.75,126.5h2.8M809.85,134.5h2.8M810.16,129.5h2.8M810.55,132.5h2.8M811.01,130.5h2.8M811.35,131.5h2.8M811.93,132.5h2.8M812.4,131.5h2.8M812.65,131.5h2.8M813.07,129.5h2.8M813.55,133.5h2.8M813.89,132.5h2.8M814.04,134.5h2.8M814.38,130.5h2.8M815.07,128.5h2.8M815.14,132.5h2.8M815.56,142.5h2.8M815.94,130.5h2.8M816.56,132.5h2.8M816.99,133.5h2.8M817.27,134.5h2.8M817.74,129.5h2.8M817.83,133.5h2.8M818.57,133.5h2.8M818.9,134.5h2.8M819.2,132.5h2.8M819.4,132.5h2.8M819.91,134.5h2.8M820.44,130.5h2.8M820.71,127.5h2.8M820.99,131.5h2.8M821.42,133.5h2.8M821.73,133.5h2.8M822.41,142.5h2.8M822.6,135.5h2.8M822.86,139.5h2.8M823.48,135.5h2.8M823.93,134.5h2.8M824.25,136.5h2.8M824.39,141.5h2.8M824.9,134.5h2.8M825.31,136.5h2.8M825.73,135.5h2.8M826.1,132.5h2.8M826.4,134.5h2.8M826.78,133.5h2.8M827.37,136.5h2.8M827.61,138.5h2.8M827.95,136.5h2.8M828.48,136.5h2.8M828.84,134.5h2.8M829.24,133.5h2.8M829.43,136.5h2.8M830.07,135.5h2.8M830.4,140.5h2.8M830.9,139.5h2.8M831.02,131.5h2.8M831.53,136.5h2.8M832.02,122.5h2.8M832.21,134.5h2.8M832.82,132.5h2.8M833.16,139.5h2.8M833.26,140.5h2.8M833.74,136.5h2.8M834.16,135.5h2.8M834.48,136.5h2.8M834.91,137.5h2.8M835.52,137.5h2.8M835.72,137.5h2.8M836.21,131.5h2.8M836.63,137.5h2.8M836.98,138.5h2.8M837.24,122.5h2.8M837.79,137.5h2.8M837.88,133.5h2.8M838.55,131.5h2.8M838.96,125.5h2.8M839.14,132.5h2.8M839.48,131.5h2.8M840.07,138.5h2.8M840.27,151.5h2.8M840.59,141.5h2.8M841.09,138.5h2.8M841.37,133.5h2.8M842.01,148.5h2.8M842.17,136.5h2.8M842.76,141.5h2.8M843.12,136.5h2.8M843.4,139.5h2.8M843.63,140.5h2.8M844.08,138.5h2.8M844.38,136.5h2.8M844.84,143.5h2.8M845.49,145.5h2.8M845.81,138.5h2.8M846.17,146.5h2.8M846.4,145.5h2.8M846.9,145.5h2.8M847.44,145.5h2.8M847.75,142.5h2.8M847.99,145.5h2.8M848.37,147.5h2.8M848.69,144.5h2.8M849.28,145.5h2.8M849.38,145.5h2.8M849.97,144.5h2.8M850.36,144.5h2.8M850.82,150.5h2.8M851.05,146.5h2.8M851.46,147.5h2.8M852.04,146.5h2.8M852.38,149.5h2.8M852.74,150.5h2.8M853.18,145.5h2.8M853.45,145.5h2.8M853.64,146.5h2.8M854.28,146.5h2.8M854.43,145.5h2.8M854.88,149.5h2.8M855.21,149.5h2.8M855.87,147.5h2.8M855.97,147.5h2.8M856.59,150.5h2.8M856.71,148.5h2.8M857.33,150.5h2.8M857.61,149.5h2.8M857.85,148.5h2.8M858.36,150.5h2.8M858.91,143.5h2.8M859.3,150.5h2.8M859.37,147.5h2.8M859.84,149.5h2.8M860.19,149.5h2.8M860.7,146.5h2.8M861.19,145.5h2.8M861.47,148.5h2.8M861.88,147.5h2.8M862.44,145.5h2.8M862.63,149.5h2.8M863.07,142.5h2.8M863.28,146.5h2.8M863.65,144.5h2.8M864.12,149.5h2.8M864.67,145.5h2.8M864.81,141.5h2.8M865.46,143.5h2.8M865.53,144.5h2.8M865.95,150.5h2.8M866.52,147.5h2.8M866.75,146.5h2.8M867.35,144.5h2.8M867.56,140.5h2.8M868,140.5h2.8M868.44,139.5h2.8M868.94,139.5h2.8M869.28,139.5h2.8M869.42,134.5h2.8M870.03,133.5h2.8M870.51,134.5h2.8M870.72,131.5h2.8M870.96,134.5h2.8M871.38,136.5h2.8M871.95,132.5h2.8M872.15,132.5h2.8M872.69,135.5h2.8M873.15,134.5h2.8M873.4,132.5h2.8M873.81,133.5h2.8M874.2,131.5h2.8M874.75,139.5h2.8M874.81,134.5h2.8M875.51,133.5h2.8M875.7,134.5h2.8M876.16,130.5h2.8M876.59,136.5h2.8M877.06,134.5h2.8M877.21,135.5h2.8M877.62,135.5h2.8M878.03,142.5h2.8M878.5,135.5h2.8M878.97,136.5h2.8M879.32,138.5h2.8M879.74,147.5h2.8M879.85,135.5h2.8M880.37,138.5h2.8M880.76,136.5h2.8M881.23,136.5h2.8M881.38,134.5h2.8M882.05,138.5h2.8M882.33,138.5h2.8M882.79,137.5h2.8M882.98,138.5h2.8M883.38,138.5h2.8M883.91,138.5h2.8M884.03,133.5h2.8M884.42,135.5h2.8M885.04,137.5h2.8M885.17,136.5h2.8M885.55,134.5h2.8M885.96,135.5h2.8M886.4,137.5h2.8M886.96,135.5h2.8M887.41,127.5h2.8M887.74,137.5h2.8M887.99,134.5h2.8M888.32,136.5h2.8M888.85,136.5h2.8M889.23,136.5h2.8M889.38,136.5h2.8M890.01,137.5h2.8M890.43,132.5h2.8M890.74,137.5h2.8M891.1,134.5h2.8M891.35,136.5h2.8M891.98,139.5h2.8M892.15,135.5h2.8M892.6,134.5h2.8M892.95,136.5h2.8M893.56,136.5h2.8M893.89,137.5h2.8M894.31,137.5h2.8M894.58,142.5h2.8M895.01,139.5h2.8M895.29,137.5h2.8M895.67,139.5h2.8M896.02,142.5h2.8M896.31,140.5h2.8M896.86,143.5h2.8M897.41,145.5h2.8M897.55,145.5h2.8M898.2,143.5h2.8M898.46,145.5h2.8M898.73,143.5h2.8M899.07,143.5h2.8M899.49,146.5h2.8M899.98,144.5h2.8M900.14,144.5h2.8M900.61,143.5h2.8M900.96,145.5h2.8M901.52,145.5h2.8M901.68,144.5h2.8M902.12,144.5h2.8M902.62,147.5h2.8M903.04,144.5h2.8M903.22,146.5h2.8M903.95,147.5h2.8M904.05,146.5h2.8M904.37,144.5h2.8M904.8,149.5h2.8M905.18,146.5h2.8M905.89,146.5h2.8M905.97,142.5h2.8M906.4,144.5h2.8M906.69,143.5h2.8M907.08,145.5h2.8M907.64,145.5h2.8M907.87,144.5h2.8M908.39,143.5h2.8M908.95,144.5h2.8M909.26,145.5h2.8M909.52,145.5h2.8M909.98,145.5h2.8M910.3,147.5h2.8M910.6,142.5h2.8M911.24,146.5h2.8M911.32,143.5h2.8M911.75,140.5h2.8M912.32,143.5h2.8M912.79,142.5h2.8M913.17,140.5h2.8M913.46,139.5h2.8M913.81,139.5h2.8M914.29,137.5h2.8M914.69,137.5h2.8M915.08,136.5h2.8M915.34,134.5h2.8M915.74,136.5h2.8M916.06,135.5h2.8M916.32,138.5h2.8M916.95,115.5h2.8M917.21,126.5h2.8M917.54,133.5h2.8M918.09,131.5h2.8M918.23,136.5h2.8M918.83,142.5h2.8M919.19,140.5h2.8M919.69,149.5h2.8M919.97,154.5h2.8M920.43,147.5h2.8M920.82,149.5h2.8M921.15,149.5h2.8M921.37,154.5h2.8M921.77,151.5h2.8M922.18,150.5h2.8M922.59,149.5h2.8M923.07,151.5h2.8M923.35,152.5h2.8M923.88,150.5h2.8M924.16,150.5h2.8M924.41,139.5h2.8M925.09,150.5h2.8M925.17,149.5h2.8M925.63,143.5h2.8M926.01,149.5h2.8M926.43,144.5h2.8M927.05,150.5h2.8M927.08,145.5h2.8M927.55,147.5h2.8M928.1,147.5h2.8M928.24,144.5h2.8M928.94,142.5h2.8M929.07,146.5h2.8M929.46,145.5h2.8M930.08,144.5h2.8M930.37,141.5h2.8M930.57,145.5h2.8M930.93,141.5h2.8M931.5,142.5h2.8M931.85,139.5h2.8M932.18,136.5h2.8M932.47,138.5h2.8M932.9,129.5h2.8M933.52,129.5h2.8M104.6,160.5h2.8M106.6,163.5h2.8M108.6,166.5h2.8M112.6,169.5h2.8M115.6,172.5h2.8M116.6,168.5h2.8M135.6,167.5h2.8M135.6,172.5h2.8M124.6,164.5h2.8M593.6,100.5h2.8M607.6,103.5h2.8M608.6,99.5h2.8M608.6,113.5h2.8M621.6,100.5h2.8M626.6,105.5h2.8M628.6,100.5h2.8M630.6,108.5h2.8M638.6,100.5h2.8M637.6,99.5h2.8M536.6,101.5h2.8M534.6,105.5h2.8M533.6,112.5h2.8M540.6,100.5h2.8M539.6,113.5h2.8M542.6,108.5h2.8M565.6,99.5h2.8M567.6,103.5h2.8" stroke="#000" stroke-width="0.9" fill="none"/>
<path d="M89,223.91 L89.8,224.07 L90.6,222.86 L91.4,222.33 L92.2,222.01 L93,222.8 L93.8,222.39 L94.6,223.08 L95.4,222.95 L96.2,222.53 L97,223.33 L97.8,222.31 L98.6,223.1 L99.4,222.73 L100.2,222.55 L101,221.95 L101.8,221.46 L102.6,221.81 L103.4,222.17 L104.2,222.81 L105,223.25 L105.8,223.39 L106.6,224.6 L107.4,226.75 L108.2,227.32 L109,227.98 L109.8,227.8 L110.6,227.99 L111.4,227.07 L112.2,227.32 L113,226.61 L113.8,226.44 L114.6,226.69 L115.4,226.19 L116.2,227.16 L117,226.64 L117.8,226.84 L118.6,227.46 L119.4,226.36 L120.2,228.25 L121,227.45 L121.8,227.58 L122.6,229.44 L123.4,229.1 L124.2,229.06 L125,229.58 L125.8,229.09 L126.6,229.81 L127.4,229.11 L128.2,227.82 L129,228.55 L129.8,227.92 L130.6,227.78 L131.4,228.86 L132.2,228.22 L133,227.91 L133.8,228.36 L134.6,228.7 L135.4,227.91 L136.2,227.74 L137,229.51 L137.8,228.75 L138.6,227.48 L139.4,228.5 L140.2,226.5 L141,226.95 L141.8,227.15 L142.6,226.76 L143.4,226.78 L144.2,226.31 L145,227.68 L145.8,228.39 L146.6,228.41 L147.4,228.4 L148.2,228.11 L149,228.53 L149.8,229.2 L150.6,229.31 L151.4,229.47 L152.2,229.75 L153,229.72 L153.8,229.11 L154.6,229.2 L155.4,228.97 L156.2,228.85 L157,229.21 L157.8,229.38 L158.6,228.5 L159.4,229.31 L160.2,229.47 L161,229.21 L161.8,229.64 L162.6,228.98 L163.4,228.72 L164.2,228.85 L165,229.44 L165.8,229.88 L166.6,229.8 L167.4,229.54 L168.2,229.63 L169,229.89 L169.8,230.04 L170.6,231.44 L171.4,231.78 L172.2,233.1 L173,232.78 L173.8,233.27 L174.6,233.38 L175.4,233.73 L176.2,235.48 L177,235.85 L177.8,235.52 L178.6,235.72 L179.4,235.67 L180.2,235.81 L181,236.3 L181.8,236.55 L182.6,236.45 L183.4,236.89 L184.2,237.78 L185,238.07 L185.8,237.74 L186.6,237.83 L187.4,238.22 L188.2,238.51 L189,238.82 L189.8,238.87 L190.6,237.88 L191.4,239.61 L192.2,238.38 L193,239.26 L193.8,238.71 L194.6,238.63 L195.4,238.16 L196.2,238.49 L197,238.74 L197.8,237.9 L198.6,236.35 L199.4,235.01 L200.2,234.25 L201,232.95 L201.8,232.01 L202.6,231.16 L203.4,231.09 L204.2,231.8 L205,230.63 L205.8,230.47 L206.6,230.99 L207.4,231.21 L208.2,230.94 L209,231.08 L209.8,231.11 L210.6,231.93 L211.4,231.68 L212.2,231.12 L213,231.34 L213.8,231.23 L214.6,231.87 L215.4,232.07 L216.2,232.84 L217,232.04 L217.8,232.16 L218.6,231.99 L219.4,231.62 L220.2,233.07 L221,232.46 L221.8,232.09 L222.6,231.95 L223.4,232.59 L224.2,231.54 L225,232.45 L225.8,233.22 L226.6,232.81 L227.4,232.06 L228.2,232.44 L229,232.1 L229.8,232.92 L230.6,232.69 L231.4,231.51 L232.2,232.57 L233,231.51 L233.8,231.51 L234.6,232.37 L235.4,231.75 L236.2,230.29 L237,230.99 L237.8,230.31 L238.6,230.78 L239.4,230.34 L240.2,229.63 L241,229.8 L241.8,230.01 L242.6,229.43 L243.4,230.15 L244.2,230.74 L245,230.72 L245.8,231.59 L246.6,230.7 L247.4,231.51 L248.2,230.32 L249,230.09 L249.8,230.05 L250.6,229.74 L251.4,229.52 L252.2,229.47 L253,229.54 L253.8,229.19 L254.6,229.84 L255.4,229.5 L256.2,228.75 L257,230.04 L257.8,229.19 L258.6,229.89 L259.4,229.5 L260.2,229.3 L261,227.91 L261.8,229.25 L262.6,229.28 L263.4,229.41 L264.2,229.72 L265,228.97 L265.8,228.99 L266.6,229.08 L267.4,228.68 L268.2,229.51 L269,228.58 L269.8,229.12 L270.6,228.49 L271.4,229.45 L272.2,229.32 L273,229.25 L273.8,228.79 L274.6,228.84 L275.4,229.08 L276.2,229.08 L277,229.83 L277.8,230.04 L278.6,230.04 L279.4,231.75 L280.2,231.56 L281,232.46 L281.8,233.14 L282.6,232.89 L283.4,235.09 L284.2,236.14 L285,235.73 L285.8,237.19 L286.6,236.81 L287.4,235.52 L288.2,234.91 L289,234.82 L289.8,234.58 L290.6,233.94 L291.4,233.59 L292.2,233.13 L293,232.37 L293.8,232.9 L294.6,232.32 L295.4,232.38 L296.2,232.08 L297,231.29 L297.8,231.14 L298.6,230.95 L299.4,230.14 L300.2,230.2 L301,230.03 L301.8,229.66 L302.6,230 L303.4,229.82 L304.2,228.28 L305,229.04 L305.8,229.38 L306.6,228.45 L307.4,228.77 L308.2,228.33 L309,228.69 L309.8,229.47 L310.6,228.68 L311.4,230.21 L312.2,229.66 L313,229.5 L313.8,230.59 L314.6,230.73 L315.4,231.15 L316.2,231.95 L317,232.73 L317.8,233.25 L318.6,235.52 L319.4,236.44 L320.2,237.54 L321,239.72 L321.8,238.92 L322.6,239.08 L323.4,240.01 L324.2,239.42 L325,238.88 L325.8,239.49 L326.6,239.39 L327.4,239.56 L328.2,240.36 L329,240.4 L329.8,240.6 L330.6,240.53 L331.4,240.58 L332.2,240.27 L333,239.8 L333.8,239.37 L334.6,239.64 L335.4,239.63 L336.2,239.85 L337,239.17 L337.8,239.42 L338.6,239.81 L339.4,239.73 L340.2,239.55 L341,240.15 L341.8,240.62 L342.6,240.34 L343.4,241.27 L344.2,241.83 L345,241.17 L345.8,242.01 L346.6,242.14 L347.4,241.75 L348.2,242.68 L349,242.61 L349.8,242.92 L350.6,244.19 L351.4,243.89 L352.2,244.55 L353,245.76 L353.8,245.5 L354.6,245.81 L355.4,245.3 L356.2,246.29 L357,245.76 L357.8,245.81 L358.6,245.72 L359.4,246 L360.2,247.57 L361,247.88 L361.8,247.85 L362.6,248.98 L363.4,248.99 L364.2,250.62 L365,250.78 L365.8,252.14 L366.6,252.45 L367.4,252.25 L368.2,253.43 L369,253.61 L369.8,253.79 L370.6,253.78 L371.4,253.42 L372.2,253.62 L373,253.92 L373.8,254.79 L374.6,254.78 L375.4,254.95 L376.2,254.12 L377,254.18 L377.8,253.47 L378.6,253.27 L379.4,253.23 L380.2,252.82 L381,252.1 L381.8,253.01 L382.6,252.18 L383.4,252.55 L384.2,253.33 L385,251.91 L385.8,252.44 L386.6,252.69 L387.4,252.75 L388.2,251.2 L389,252.39 L389.8,251.7 L390.6,252.2 L391.4,251.67 L392.2,251.73 L393,251.04 L393.8,252.12 L394.6,250.96 L395.4,251.27 L396.2,249.72 L397,250.18 L397.8,249.83 L398.6,248.76 L399.4,249.17 L400.2,248.57 L401,247.68 L401.8,247.38 L402.6,245.91 L403.4,245.04 L404.2,244.66 L405,244.97 L405.8,243.25 L406.6,241.65 L407.4,239.21 L408.2,236.37 L409,235.97 L409.8,235.5 L410.6,235.31 L411.4,234.72 L412.2,235.48 L413,235.61 L413.8,236.85 L414.6,237.33 L415.4,237.71 L416.2,237.82 L417,238.77 L417.8,238.54 L418.6,237.89 L419.4,239.25 L420.2,238.34 L421,237.34 L421.8,237.53 L422.6,236.79 L423.4,237.23 L424.2,237.79 L425,238.69 L425.8,239.89 L426.6,240.89 L427.4,241.38 L428.2,241.7 L429,241.42 L429.8,241.47 L430.6,240.92 L431.4,240.89 L432.2,239.9 L433,239.77 L433.8,239.75 L434.6,239.81 L435.4,238.67 L436.2,238.02 L437,237.99 L437.8,237.5 L438.6,237.2 L439.4,236.38 L440.2,236.64 L441,236 L441.8,236.81 L442.6,235.88 L443.4,236.55 L444.2,236.43 L445,235.13 L445.8,234.26 L446.6,234.91 L447.4,235.22 L448.2,233.91 L449,233 L449.8,233.01 L450.6,232.56 L451.4,231.95 L452.2,232.92 L453,232.36 L453.8,231.93 L454.6,230.87 L455.4,230.85 L456.2,230.32 L457,230.45 L457.8,229.54 L458.6,230.44 L459.4,230.12 L460.2,229.63 L461,230.7 L461.8,230.05 L462.6,230.03 L463.4,230.97 L464.2,230.97 L465,229.99 L465.8,231.25 L466.6,231.2 L467.4,231.16 L468.2,231.81 L469,231.68 L469.8,231.6 L470.6,231.49 L471.4,231.21 L472.2,232.23 L473,233.08 L473.8,233.04 L474.6,233.78 L475.4,234.35 L476.2,233.86 L477,234.69 L477.8,233.54 L478.6,233.97 L479.4,233.66 L480.2,233.42 L481,234.85 L481.8,235.66 L482.6,235.35 L483.4,234.98 L484.2,234.67 L485,235 L485.8,235.57 L486.6,234.37 L487.4,234.91 L488.2,234.82 L489,235.07 L489.8,235.29 L490.6,234.42 L491.4,235.12 L492.2,234.51 L493,234.79 L493.8,234.56 L494.6,235.8 L495.4,237.48 L496.2,237.12 L497,238.08 L497.8,238.92 L498.6,238.67 L499.4,239.56 L500.2,239.92 L501,239.74 L501.8,240.85 L502.6,240.19 L503.4,240.9 L504.2,241.1 L505,240.53 L505.8,239.85 L506.6,239.91 L507.4,238.26 L508.2,238.28 L509,237.94 L509.8,239.78 L510.6,240.22 L511.4,242.38 L512.2,242.79 L513,243.24 L513.8,242.7 L514.6,242.66 L515.4,242.16 L516.2,242.42 L517,240.6 L517.8,240.28 L518.6,240.58 L519.4,239.67 L520.2,239.64 L521,238.48 L521.8,238.62 L522.6,238.42 L523.4,237.11 L524.2,237.47 L525,237.94 L525.8,235.68 L526.6,235.83 L527.4,234.82 L528.2,234.09 L529,236.38 L529.8,237.02 L530.6,237.3 L531.4,236.06 L532.2,235.96 L533,234.41 L533.8,234.8 L534.6,234.1 L535.4,232.01 L536.2,231.27 L537,230 L537.8,228.84 L538.6,229.18 L539.4,228.25 L540.2,228.08 L541,229.02 L541.8,229.38 L542.6,230.29 L543.4,230.77 L544.2,229.48 L545,229.33 L545.8,230.67 L546.6,229.06 L547.4,229.62 L548.2,230.32 L549,229.71 L549.8,229.94 L550.6,230.41 L551.4,229.27 L552.2,229.63 L553,229.28 L553.8,228.99 L554.6,228.89 L555.4,228.17 L556.2,229.37 L557,228.96 L557.8,229.52 L558.6,230.81 L559.4,230.56 L560.2,230.89 L561,231.71 L561.8,231.68 L562.6,232.19 L563.4,233.18 L564.2,233.51 L565,234.71 L565.8,234.14 L566.6,234.77 L567.4,234.75 L568.2,235.4 L569,236 L569.8,234.47 L570.6,234.08 L571.4,233.01 L572.2,233.42 L573,233.45 L573.8,233.51 L574.6,234.79 L575.4,236.61 L576.2,236.72 L577,236.2 L577.8,237.56 L578.6,238.17 L579.4,238.55 L580.2,239.23 L581,238.23 L581.8,238.52 L582.6,237.98 L583.4,238.72 L584.2,238.69 L585,238.21 L585.8,237.86 L586.6,237.35 L587.4,237.27 L588.2,237.37 L589,236.88 L589.8,237.54 L590.6,236.66 L591.4,237.07 L592.2,237.02 L593,237.5 L593.8,237.36 L594.6,237.25 L595.4,237.75 L596.2,237.6 L597,238.44 L597.8,237.8 L598.6,237.75 L599.4,238.7 L600.2,237.02 L601,237.15 L601.8,237.29 L602.6,237.49 L603.4,237.02 L604.2,236.95 L605,237.15 L605.8,236.36 L606.6,236.96 L607.4,237.18 L608.2,237.07 L609,237.56 L609.8,237.73 L610.6,237.63 L611.4,237.4 L612.2,237.43 L613,238.16 L613.8,237.83 L614.6,237.52 L615.4,237.84 L616.2,238.84 L617,238.93 L617.8,238.8 L618.6,238.15 L619.4,238.6 L620.2,238.51 L621,238.06 L621.8,237.75 L622.6,237.97 L623.4,238.57 L624.2,238.38 L625,237.68 L625.8,238.62 L626.6,238.52 L627.4,238.21 L628.2,238.28 L629,239.24 L629.8,239.39 L630.6,238.86 L631.4,239.35 L632.2,239.67 L633,239.32 L633.8,239.01 L634.6,239.14 L635.4,239.38 L636.2,238.69 L637,239.27 L637.8,238.64 L638.6,239.19 L639.4,239.73 L640.2,239.93 L641,240.72 L641.8,241.85 L642.6,241.91 L643.4,243.46 L644.2,244.4 L645,244.84 L645.8,243.92 L646.6,243.63 L647.4,243.95 L648.2,244.24 L649,244.69 L649.8,244.73 L650.6,245.12 L651.4,245.72 L652.2,245.86 L653,245.91 L653.8,246.09 L654.6,245.68 L655.4,245.18 L656.2,244.78 L657,246.02 L657.8,246.17 L658.6,245.87 L659.4,244.78 L660.2,244.98 L661,245.53 L661.8,245.66 L662.6,244.83 L663.4,245.87 L664.2,245.36 L665,245.63 L665.8,245.47 L666.6,245.87 L667.4,245.89 L668.2,245.77 L669,245.13 L669.8,243.93 L670.6,244.37 L671.4,243.69 L672.2,244.75 L673,244.57 L673.8,245.32 L674.6,245.3 L675.4,245.19 L676.2,244.58 L677,243.98 L677.8,243.51 L678.6,243.47 L679.4,243.59 L680.2,244.64 L681,243.18 L681.8,243.63 L682.6,243.73 L683.4,243.88 L684.2,244.16 L685,243.52 L685.8,243.84 L686.6,243.27 L687.4,243.47 L688.2,242.73 L689,243.67 L689.8,242.7 L690.6,244.15 L691.4,243.47 L692.2,243.51 L693,243.79 L693.8,244.13 L694.6,243.48 L695.4,243.37 L696.2,243.66 L697,243.36 L697.8,243.49 L698.6,243.65 L699.4,243.92 L700.2,244.16 L701,244.24 L701.8,243.3 L702.6,243.77 L703.4,242.93 L704.2,244.4 L705,243.13 L705.8,243.51 L706.6,243.7 L707.4,242.81 L708.2,242.92 L709,243.4 L709.8,242.55 L710.6,243.21 L711.4,243.38 L712.2,243.15 L713,243.19 L713.8,242.32 L714.6,244.15 L715.4,243.85 L716.2,243.4 L717,243.49 L717.8,244.58 L718.6,243.56 L719.4,243.8 L720.2,243.43 L721,244.28 L721.8,243.97 L722.6,244.42 L723.4,244.06 L724.2,244.33 L725,243.74 L725.8,243.25 L726.6,243.65 L727.4,242.79 L728.2,243.54 L729,243.39 L729.8,242.99 L730.6,242.94 L731.4,242.87 L732.2,242.7 L733,242.38 L733.8,241.89 L734.6,242.24 L735.4,241.99 L736.2,243.42 L737,242.72 L737.8,243.21 L738.6,243.03 L739.4,243.02 L740.2,243.28 L741,243.43 L741.8,243.25 L742.6,243.87 L743.4,244.86 L744.2,244.54 L745,244.3 L745.8,244 L746.6,243.6 L747.4,244.19 L748.2,243.44 L749,243.31 L749.8,243.59 L750.6,243.52 L751.4,244 L752.2,243.21 L753,244.24 L753.8,243.79 L754.6,243.87 L755.4,244.29 L756.2,243.55 L757,243.88 L757.8,243.11 L758.6,243.06 L759.4,243.12 L760.2,244.24 L761,243.7 L761.8,242.76 L762.6,242.54 L763.4,241.39 L764.2,240.93 L765,242.06 L765.8,242 L766.6,240.95 L767.4,241.93 L768.2,242.67 L769,242.88 L769.8,242.92 L770.6,243.94 L771.4,243.7 L772.2,244.58 L773,244.04 L773.8,243.75 L774.6,244.54 L775.4,243.76 L776.2,245.29 L777,246.08 L777.8,246.03 L778.6,245.82 L779.4,245.89 L780.2,245.93 L781,246.11 L781.8,245.93 L782.6,246.21 L783.4,245.61 L784.2,246.62 L785,245.28 L785.8,246.32 L786.6,246.31 L787.4,244.62 L788.2,244.91 L789,244.41 L789.8,244.8 L790.6,244.33 L791.4,244 L792.2,245.22 L793,245.76 L793.8,245.5 L794.6,246.89 L795.4,247.03 L796.2,246.95 L797,246.2 L797.8,247.35 L798.6,246.65 L799.4,246.86 L800.2,246.14 L801,245.81 L801.8,246.05 L802.6,246.82 L803.4,247.43 L804.2,246.52 L805,247.39 L805.8,247.29 L806.6,247.47 L807.4,246.73 L808.2,245.87 L809,246.85 L809.8,246.05 L810.6,245.76 L811.4,244.68 L812.2,244.22 L813,244.48 L813.8,244.83 L814.6,243.33 L815.4,243.82 L816.2,242.97 L817,243.26 L817.8,242.8 L818.6,242.6 L819.4,242.07 L820.2,241.28 L821,240.37 L821.8,239.92 L822.6,240.7 L823.4,240.01 L824.2,239.78 L825,239.45 L825.8,239.48 L826.6,239.47 L827.4,239 L828.2,240.31 L829,240.34 L829.8,241.01 L830.6,240.33 L831.4,240.26 L832.2,240.6 L833,240.84 L833.8,240.63 L834.6,240.34 L835.4,240.62 L836.2,240.13 L837,240.75 L837.8,241.46 L838.6,240.68 L839.4,240.3 L840.2,242.27 L841,243.37 L841.8,243.78 L842.6,244.13 L843.4,243.54 L844.2,243.66 L845,243.69 L845.8,244.89 L846.6,245.61 L847.4,245.22 L848.2,244.33 L849,245.64 L849.8,244.97 L850.6,245.6 L851.4,245.98 L852.2,246.43 L853,246.73 L853.8,245.76 L854.6,244.12 L855.4,243 L856.2,241.51 L857,240.81 L857.8,238.99 L858.6,238.29 L859.4,238.32 L860.2,238.18 L861,237.52 L861.8,237.49 L862.6,238.17 L863.4,238.26 L864.2,236.78 L865,237.64 L865.8,236.8 L866.6,237.3 L867.4,236.5 L868.2,236.08 L869,235.08 L869.8,234.72 L870.6,233.77 L871.4,233.62 L872.2,233.71 L873,234.72 L873.8,234.45 L874.6,234.69 L875.4,234.78 L876.2,234.28 L877,233.88 L877.8,234.36 L878.6,233.44 L879.4,233.95 L880.2,233.75 L881,233.83 L881.8,234.18 L882.6,233.58 L883.4,233.82 L884.2,233.75 L885,232.89 L885.8,232.96 L886.6,233.66 L887.4,234.15 L888.2,233.54 L889,233.39 L889.8,234.35 L890.6,234.03 L891.4,233.37 L892.2,233.78 L893,233.23 L893.8,233.75 L894.6,233.75 L895.4,234.42 L896.2,233.56 L897,233.9 L897.8,233.52 L898.6,234.18 L899.4,234.18 L900.2,232.97 L901,234.26 L901.8,233.47 L902.6,232.86 L903.4,232.81 L904.2,231.93 L905,232.93 L905.8,232.93 L906.6,232.48 L907.4,231.55 L908.2,232.17 L909,232.5 L909.8,232.25 L910.6,232.14 L911.4,232.13 L912.2,232.81 L913,237.64 L913.8,237.97 L914.6,238.46 L915.4,238.09 L916.2,239.49 L917,240.2 L917.8,242.25 L918.6,243.33 L919.4,243.76 L920.2,243.2 L921,243.32 L921.8,241.88 L922.6,241.71 L923.4,241.33 L924.2,240.25 L925,240.44 L925.8,240.01 L926.6,239.72 L927.4,239.02 L928.2,238.55 L929,239.51 L929.8,238.33 L930.6,237.84 L931.4,237.83 L932.2,238.85 L933,239.39 L933.8,242.35 L934.6,243.84" fill="none" stroke="#ff0000" stroke-width="1.15" stroke-linejoin="round" />
<path d="M89,199.07 L89.8,201.19 L90.6,202.67 L91.4,202.8 L92.2,203.17 L93,203.91 L93.8,204.02 L94.6,203.89 L95.4,204.53 L96.2,204.67 L97,204.78 L97.8,205.86 L98.6,206.12 L99.4,205.77 L100.2,206.67 L101,206.29 L101.8,205.36 L102.6,205.43 L103.4,205.12 L104.2,205.61 L105,204.36 L105.8,204 L106.6,204.11 L107.4,204.18 L108.2,204.56 L109,205.9 L109.8,206.75 L110.6,206.8 L111.4,207.19 L112.2,208.37 L113,207.91 L113.8,208.09 L114.6,208.94 L115.4,208.82 L116.2,208.64 L117,209.14 L117.8,209.05 L118.6,209.38 L119.4,209.65 L120.2,210.88 L121,211.28 L121.8,211.77 L122.6,211.79 L123.4,213.67 L124.2,213.96 L125,214.51 L125.8,215.63 L126.6,215.35 L127.4,216.12 L128.2,216.03 L129,215.6 L129.8,215.5 L130.6,214.33 L131.4,214.56 L132.2,215.05 L133,215.95 L133.8,214.8 L134.6,215.04 L135.4,214.93 L136.2,214.07 L137,213.88 L137.8,214.23 L138.6,214.04 L139.4,213.73 L140.2,213.22 L141,213.85 L141.8,213.97 L142.6,214.64 L143.4,213.72 L144.2,214.2 L145,214.44 L145.8,214.25 L146.6,215.16 L147.4,214.9 L148.2,214.79 L149,214.56 L149.8,214.67 L150.6,215.06 L151.4,215.18 L152.2,215.15 L153,214.57 L153.8,214.76 L154.6,215.43 L155.4,215.43 L156.2,215.89 L157,217.2 L157.8,216.72 L158.6,216.92 L159.4,217.32 L160.2,217.35 L161,217.46 L161.8,217.74 L162.6,218.16 L163.4,217.08 L164.2,216.42 L165,217.43 L165.8,217.64 L166.6,216.98 L167.4,215.76 L168.2,216.82 L169,216.49 L169.8,216.22 L170.6,214.85 L171.4,215.85 L172.2,215.49 L173,214.83 L173.8,215.69 L174.6,216.23 L175.4,216.73 L176.2,216.18 L177,217.15 L177.8,216.07 L178.6,216.54 L179.4,216 L180.2,216.78 L181,215.46 L181.8,215.18 L182.6,215.61 L183.4,214.8 L184.2,214.75 L185,214.83 L185.8,214.77 L186.6,214.7 L187.4,214.34 L188.2,213.01 L189,212.72 L189.8,212.18 L190.6,211.29 L191.4,211.18 L192.2,210.32 L193,209.86 L193.8,210.34 L194.6,209.05 L195.4,209.65 L196.2,209.9 L197,208.95 L197.8,208.29 L198.6,208.05 L199.4,206.53 L200.2,207.37 L201,208.31 L201.8,207.98 L202.6,209.56 L203.4,210.08 L204.2,210.51 L205,209.95 L205.8,212.09 L206.6,210.75 L207.4,211.45 L208.2,212.22 L209,212.41 L209.8,212.83 L210.6,211.44 L211.4,212.58 L212.2,210.65 L213,211.2 L213.8,210.93 L214.6,210.22 L215.4,209.87 L216.2,209.79 L217,208.49 L217.8,207.57 L218.6,206.24 L219.4,206.04 L220.2,206.39 L221,205.26 L221.8,206.72 L222.6,206.4 L223.4,207.43 L224.2,206.98 L225,207.04 L225.8,207.83 L226.6,208.9 L227.4,208.05 L228.2,207.75 L229,206.96 L229.8,206.7 L230.6,206.88 L231.4,206.12 L232.2,206.74 L233,205.73 L233.8,205.03 L234.6,204.41 L235.4,204.74 L236.2,204.26 L237,203.83 L237.8,202.65 L238.6,202.68 L239.4,201.35 L240.2,201.52 L241,202.29 L241.8,202.7 L242.6,203.35 L243.4,203.55 L244.2,203.4 L245,202.43 L245.8,203.56 L246.6,202.98 L247.4,202.75 L248.2,201.82 L249,203.09 L249.8,204.09 L250.6,203.26 L251.4,204.12 L252.2,202.55 L253,202.13 L253.8,200.94 L254.6,199.47 L255.4,197.94 L256.2,197.89 L257,195.86 L257.8,195.22 L258.6,193.5 L259.4,192.66 L260.2,193.5 L261,194.49 L261.8,194.84 L262.6,195.71 L263.4,195.95 L264.2,196.78 L265,196.1 L265.8,195.73 L266.6,195.38 L267.4,195.89 L268.2,195.29 L269,194.34 L269.8,193.56 L270.6,194.15 L271.4,192.53 L272.2,191.59 L273,190.68 L273.8,189.31 L274.6,189.33 L275.4,188.65 L276.2,189.55 L277,189.47 L277.8,189.95 L278.6,189.11 L279.4,189.82 L280.2,189.63 L281,190.21 L281.8,189.63 L282.6,189.04 L283.4,189.92 L284.2,189.04 L285,188.09 L285.8,188.21 L286.6,188.31 L287.4,187.54 L288.2,187.31 L289,186.3 L289.8,186.09 L290.6,184.79 L291.4,184.72 L292.2,183.95 L293,184.43 L293.8,183.46 L294.6,183.66 L295.4,183.89 L296.2,182.83 L297,183.58 L297.8,184.42 L298.6,183.85 L299.4,184.61 L300.2,185.37 L301,185.29 L301.8,184.64 L302.6,184.05 L303.4,183.95 L304.2,182.87 L305,183.09 L305.8,183.21 L306.6,183.57 L307.4,183.59 L308.2,183.68 L309,183.97 L309.8,183.47 L310.6,183.98 L311.4,182.92 L312.2,181.94 L313,181.96 L313.8,181.75 L314.6,182.18 L315.4,181.25 L316.2,182.76 L317,182.12 L317.8,182.39 L318.6,182.84 L319.4,183.28 L320.2,183.43 L321,183.57 L321.8,183.71 L322.6,183.77 L323.4,184.33 L324.2,185.09 L325,185.22 L325.8,185.83 L326.6,185.15 L327.4,184.73 L328.2,184.98 L329,185.82 L329.8,185.58 L330.6,185.97 L331.4,185.75 L332.2,186.01 L333,186.75 L333.8,186.9 L334.6,188.14 L335.4,188.49 L336.2,187.49 L337,188.59 L337.8,189.55 L338.6,189.7 L339.4,190.42 L340.2,191.22 L341,191.28 L341.8,191.19 L342.6,191.95 L343.4,192.28 L344.2,191.93 L345,192.11 L345.8,192.25 L346.6,191.74 L347.4,193.34 L348.2,192.76 L349,193.7 L349.8,193.4 L350.6,193.81 L351.4,193.73 L352.2,193.94 L353,194.11 L353.8,195.29 L354.6,194.9 L355.4,194.53 L356.2,195.09 L357,195.82 L357.8,196.22 L358.6,195.52 L359.4,196.31 L360.2,195.83 L361,197.23 L361.8,197.79 L362.6,196.69 L363.4,198.12 L364.2,197.5 L365,197.76 L365.8,198.04 L366.6,198.13 L367.4,199.67 L368.2,199.08 L369,199.36 L369.8,200.45 L370.6,200.18 L371.4,200.6 L372.2,201.75 L373,202.18 L373.8,202.36 L374.6,202.59 L375.4,202.56 L376.2,202.18 L377,203.42 L377.8,203.26 L378.6,203 L379.4,203.98 L380.2,204.17 L381,203.5 L381.8,204.9 L382.6,204.49 L383.4,204.78 L384.2,205.23 L385,206.13 L385.8,205.95 L386.6,206.02 L387.4,207.01 L388.2,206.22 L389,205.87 L389.8,206.9 L390.6,206.14 L391.4,206.58 L392.2,207.05 L393,206.92 L393.8,206.4 L394.6,207.52 L395.4,207.49 L396.2,208.29 L397,207.52 L397.8,207.76 L398.6,207.94 L399.4,207.37 L400.2,208.46 L401,207.84 L401.8,208.03 L402.6,207.7 L403.4,207.05 L404.2,208.21 L405,208.3 L405.8,207.86 L406.6,209.49 L407.4,209.78 L408.2,210.37 L409,212.72 L409.8,215.81 L410.6,217.13 L411.4,215.05 L412.2,216.2 L413,214.79 L413.8,214.96 L414.6,213.61 L415.4,213.83 L416.2,214.19 L417,212.87 L417.8,212.95 L418.6,213.05 L419.4,212.45 L420.2,212.14 L421,212.93 L421.8,211.86 L422.6,210.68 L423.4,211.09 L424.2,210.94 L425,210.04 L425.8,210.55 L426.6,210.93 L427.4,211.66 L428.2,211.63 L429,210.5 L429.8,211.8 L430.6,211.71 L431.4,212.92 L432.2,212.97 L433,213.29 L433.8,213.14 L434.6,212.5 L435.4,212.87 L436.2,213.37 L437,214 L437.8,214.6 L438.6,214.12 L439.4,214.86 L440.2,214.95 L441,214.31 L441.8,214.88 L442.6,214.67 L443.4,215.18 L444.2,214.64 L445,214.76 L445.8,214.75 L446.6,214.75 L447.4,215.17 L448.2,214.81 L449,214.82 L449.8,215.44 L450.6,215.26 L451.4,215.08 L452.2,216.03 L453,215.75 L453.8,215.45 L454.6,215.34 L455.4,215.41 L456.2,216.02 L457,216.24 L457.8,217.16 L458.6,214.89 L459.4,214.72 L460.2,215.43 L461,215.03 L461.8,215.46 L462.6,214.92 L463.4,213.9 L464.2,214.39 L465,213.79 L465.8,213.81 L466.6,213.85 L467.4,214.35 L468.2,214.49 L469,213.73 L469.8,213.69 L470.6,213 L471.4,213.54 L472.2,213.19 L473,212.56 L473.8,213.44 L474.6,213.13 L475.4,212.59 L476.2,212.43 L477,212.02 L477.8,211.94 L478.6,211.5 L479.4,211.7 L480.2,211.15 L481,210.92 L481.8,211.41 L482.6,210.63 L483.4,209.25 L484.2,210.04 L485,210.13 L485.8,210.12 L486.6,209.96 L487.4,209.29 L488.2,208.93 L489,208.47 L489.8,208.37 L490.6,208.15 L491.4,207.48 L492.2,207.6 L493,205.78 L493.8,202.62 L494.6,201.03 L495.4,202.42 L496.2,202.12 L497,202.47 L497.8,201.55 L498.6,202.66 L499.4,202.2 L500.2,203.07 L501,202.37 L501.8,202.86 L502.6,202.74 L503.4,201.1 L504.2,201.13 L505,201.36 L505.8,200.53 L506.6,200.2 L507.4,199.11 L508.2,199.13 L509,200.04 L509.8,200.4 L510.6,200.14 L511.4,199.52 L512.2,199.37 L513,199.92 L513.8,201.21 L514.6,201.21 L515.4,201.12 L516.2,201 L517,200.22 L517.8,199.64 L518.6,198.21 L519.4,198.39 L520.2,199.16 L521,199.98 L521.8,199.42 L522.6,198.92 L523.4,198.52 L524.2,199.04 L525,199.15 L525.8,199.86 L526.6,199.14 L527.4,198.93 L528.2,199.43 L529,199.2 L529.8,198.5 L530.6,197.89 L531.4,197.03 L532.2,197.21 L533,197.06 L533.8,195.21 L534.6,194.99 L535.4,193.36 L536.2,193.3 L537,192.43 L537.8,195.15 L538.6,197.67 L539.4,200.22 L540.2,201.49 L541,202.88 L541.8,204.09 L542.6,205.03 L543.4,206.84 L544.2,207.17 L545,208.34 L545.8,208.01 L546.6,207.61 L547.4,207.13 L548.2,208.13 L549,207.76 L549.8,207.12 L550.6,206.75 L551.4,205.48 L552.2,205.54 L553,204.01 L553.8,203.6 L554.6,203.31 L555.4,203.16 L556.2,202.29 L557,202.79 L557.8,202.41 L558.6,202.98 L559.4,203.76 L560.2,204.3 L561,204.39 L561.8,204.81 L562.6,206.53 L563.4,207.46 L564.2,207.84 L565,208.24 L565.8,208.11 L566.6,208.21 L567.4,208.66 L568.2,209.19 L569,209.19 L569.8,210.14 L570.6,209.96 L571.4,210.19 L572.2,209.28 L573,208.59 L573.8,208.56 L574.6,207.36 L575.4,207.35 L576.2,207.83 L577,208.63 L577.8,209.41 L578.6,209.91 L579.4,211.32 L580.2,212.79 L581,212.62 L581.8,212.56 L582.6,212.73 L583.4,213.05 L584.2,213.26 L585,213.18 L585.8,213.2 L586.6,212.99 L587.4,213.21 L588.2,213.64 L589,213.79 L589.8,213.45 L590.6,214.84 L591.4,215.46 L592.2,214.74 L593,214.9 L593.8,215.37 L594.6,215.54 L595.4,215.92 L596.2,216.8 L597,216.27 L597.8,216.78 L598.6,216.23 L599.4,216.27 L600.2,217.6 L601,216.57 L601.8,216.31 L602.6,217.1 L603.4,217.07 L604.2,216.5 L605,216.84 L605.8,215.82 L606.6,215.53 L607.4,217.09 L608.2,216.64 L609,216.62 L609.8,217.53 L610.6,217.96 L611.4,217.51 L612.2,218.68 L613,219.47 L613.8,217.88 L614.6,219.28 L615.4,219.39 L616.2,219.41 L617,220.13 L617.8,219.05 L618.6,219.44 L619.4,220.52 L620.2,220.37 L621,221.02 L621.8,221.5 L622.6,221.12 L623.4,220.63 L624.2,222.58 L625,223.01 L625.8,222.72 L626.6,221.93 L627.4,222.72 L628.2,221.86 L629,222.63 L629.8,221.97 L630.6,222.43 L631.4,221.58 L632.2,221.68 L633,222.17 L633.8,221.58 L634.6,222.07 L635.4,222.28 L636.2,222.06 L637,221.19 L637.8,220.75 L638.6,220.61 L639.4,220.33 L640.2,219.83 L641,220.54 L641.8,220.4 L642.6,219.95 L643.4,220.57 L644.2,220.27 L645,220.7 L645.8,220.42 L646.6,220.16 L647.4,220.42 L648.2,221.26 L649,221.49 L649.8,221.03 L650.6,220.59 L651.4,221.72 L652.2,220.99 L653,221.07 L653.8,221.48 L654.6,221.57 L655.4,222.05 L656.2,221.38 L657,222.49 L657.8,221.91 L658.6,221.6 L659.4,222.39 L660.2,222.46 L661,222.49 L661.8,222.36 L662.6,222.06 L663.4,221.98 L664.2,222.16 L665,222.23 L665.8,222.67 L666.6,222.97 L667.4,223.3 L668.2,223.69 L669,223.67 L669.8,223.26 L670.6,223.15 L671.4,223.31 L672.2,224.44 L673,224.05 L673.8,224.56 L674.6,223.91 L675.4,222.94 L676.2,223.96 L677,224.37 L677.8,224.59 L678.6,225.74 L679.4,226.11 L680.2,226.25 L681,225.9 L681.8,226.39 L682.6,224.81 L683.4,225.68 L684.2,224.73 L685,225.1 L685.8,225.76 L686.6,225.48 L687.4,225.74 L688.2,226.33 L689,226.46 L689.8,225.73 L690.6,225.51 L691.4,226.46 L692.2,226.64 L693,225.85 L693.8,226.52 L694.6,226.52 L695.4,227 L696.2,226.85 L697,226.76 L697.8,226.66 L698.6,226.72 L699.4,226.25 L700.2,226.32 L701,225.63 L701.8,225.95 L702.6,227.16 L703.4,227.06 L704.2,227.18 L705,226.94 L705.8,225.96 L706.6,227.33 L707.4,227.04 L708.2,226.18 L709,227.12 L709.8,226.53 L710.6,226.36 L711.4,226.88 L712.2,227.36 L713,227.15 L713.8,228.1 L714.6,227.66 L715.4,227.66 L716.2,227.42 L717,227.02 L717.8,227.3 L718.6,227.49 L719.4,227.28 L720.2,227.82 L721,227.16 L721.8,227.37 L722.6,227.03 L723.4,226.82 L724.2,227.3 L725,226.97 L725.8,226.83 L726.6,226.72 L727.4,226.87 L728.2,226.51 L729,227.63 L729.8,227.39 L730.6,227.15 L731.4,227.38 L732.2,226.93 L733,227.58 L733.8,226.83 L734.6,227.32 L735.4,226.91 L736.2,227.71 L737,226.49 L737.8,225.91 L738.6,225.67 L739.4,225.98 L740.2,225.58 L741,225.6 L741.8,225.65 L742.6,226.09 L743.4,225.83 L744.2,225.2 L745,225.56 L745.8,225.32 L746.6,225.5 L747.4,225.03 L748.2,224.57 L749,223.8 L749.8,224.49 L750.6,224.04 L751.4,223.82 L752.2,223.92 L753,223.8 L753.8,223.29 L754.6,223.55 L755.4,223.61 L756.2,224.17 L757,223.42 L757.8,222.77 L758.6,224.48 L759.4,223.83 L760.2,223.52 L761,224.14 L761.8,224.34 L762.6,224.42 L763.4,224.13 L764.2,224.48 L765,224.32 L765.8,224.02 L766.6,225.26 L767.4,224.9 L768.2,225.25 L769,224.86 L769.8,224.6 L770.6,224.75 L771.4,224.82 L772.2,225.16 L773,226 L773.8,226.23 L774.6,226.06 L775.4,225.35 L776.2,225.22 L777,226.25 L777.8,226.8 L778.6,226.89 L779.4,227.81 L780.2,226.45 L781,226.4 L781.8,226.93 L782.6,226.6 L783.4,226.5 L784.2,226.4 L785,226.76 L785.8,225.89 L786.6,225.13 L787.4,225.99 L788.2,225.18 L789,224.97 L789.8,224.49 L790.6,224.33 L791.4,223.51 L792.2,222.98 L793,222 L793.8,221.55 L794.6,221.51 L795.4,220.79 L796.2,220.57 L797,219.82 L797.8,219.82 L798.6,218.78 L799.4,218.66 L800.2,218.76 L801,218.13 L801.8,217.35 L802.6,217.53 L803.4,217.35 L804.2,217.68 L805,217.43 L805.8,218.2 L806.6,218.06 L807.4,218.87 L808.2,218.78 L809,218.43 L809.8,219.75 L810.6,220.35 L811.4,220.41 L812.2,219.91 L813,220.19 L813.8,220.86 L814.6,220.95 L815.4,221.29 L816.2,220.9 L817,221.79 L817.8,222.42 L818.6,221.87 L819.4,223.39 L820.2,223.02 L821,224.26 L821.8,224.04 L822.6,224.27 L823.4,224.88 L824.2,224.53 L825,225.24 L825.8,224.89 L826.6,223.02 L827.4,223.01 L828.2,222.61 L829,222.23 L829.8,222.15 L830.6,221.52 L831.4,221.31 L832.2,220.71 L833,221.58 L833.8,220.67 L834.6,220.92 L835.4,220.07 L836.2,220.57 L837,218.75 L837.8,218.96 L838.6,218.4 L839.4,218.08 L840.2,217.94 L841,218.04 L841.8,216.04 L842.6,216.44 L843.4,216.72 L844.2,217.4 L845,217.43 L845.8,216.85 L846.6,217.29 L847.4,216.94 L848.2,216.07 L849,215.91 L849.8,216.19 L850.6,215.05 L851.4,215.1 L852.2,214.36 L853,214.47 L853.8,215.05 L854.6,214.27 L855.4,215.78 L856.2,215.26 L857,215.77 L857.8,215.54 L858.6,216.03 L859.4,216.8 L860.2,217.65 L861,216.12 L861.8,217.32 L862.6,217.81 L863.4,218.59 L864.2,218.34 L865,217.69 L865.8,218.69 L866.6,218.32 L867.4,218.36 L868.2,217.97 L869,218.59 L869.8,218.57 L870.6,220.04 L871.4,220.15 L872.2,221.22 L873,221.26 L873.8,222.53 L874.6,223.82 L875.4,224.53 L876.2,224.86 L877,226.26 L877.8,226.61 L878.6,225.98 L879.4,225.58 L880.2,225.48 L881,224.31 L881.8,224.8 L882.6,224.05 L883.4,223.21 L884.2,223.75 L885,223.11 L885.8,223.13 L886.6,222.61 L887.4,222.89 L888.2,222.99 L889,222.11 L889.8,222.29 L890.6,222.11 L891.4,221.96 L892.2,222.4 L893,222.28 L893.8,223.33 L894.6,223.11 L895.4,222.67 L896.2,222.12 L897,222.35 L897.8,222.06 L898.6,222.59 L899.4,222.27 L900.2,222.79 L901,223.28 L901.8,222.75 L902.6,222.32 L903.4,222.92 L904.2,222.9 L905,223.22 L905.8,223.62 L906.6,223.19 L907.4,223.41 L908.2,224.02 L909,223.66 L909.8,223.47 L910.6,223.58 L911.4,224.32 L912.2,225.17 L913,226.3 L913.8,226.51 L914.6,226.63 L915.4,227.85 L916.2,228.79 L917,229.53 L917.8,229.95 L918.6,230.24 L919.4,230.84 L920.2,230.29 L921,231.09 L921.8,229.61 L922.6,231.14 L923.4,230.25 L924.2,229.26 L925,230.03 L925.8,230.03 L926.6,229.71 L927.4,229.49 L928.2,229.93 L929,230.63 L929.8,231.22 L930.6,231.86 L931.4,231.19 L932.2,231.65 L933,231.98 L933.8,233.98 L934.6,235.38" fill="none" stroke="#000" stroke-width="1.1" stroke-linejoin="round" />
<path d="M89,298.55 L89.8,295.33 L90.6,292.62 L91.4,289.9 L92.2,288.98 L93,287.92 L93.8,286.77 L94.6,286.59 L95.4,288.19 L96.2,287.5 L97,287.03 L97.8,287.84 L98.6,285.95 L99.4,284.52 L100.2,283.52 L101,282.14 L101.8,280.91 L102.6,282.55 L103.4,280.71 L104.2,283.51 L105,286.37 L105.8,288.37 L106.6,290.01 L107.4,291.95 L108.2,294.81 L109,293.35 L109.8,290.81 L110.6,288.34 L111.4,286.41 L112.2,284.58 L113,283.11 L113.8,284.11 L114.6,285.25 L115.4,285.9 L116.2,286.92 L117,286.97 L117.8,285.22 L118.6,284.03 L119.4,284.22 L120.2,282.39 L121,281.67 L121.8,281.37 L122.6,280.44 L123.4,279.09 L124.2,280 L125,279.75 L125.8,279.15 L126.6,277.95 L127.4,276.32 L128.2,275.97 L129,276.65 L129.8,276.79 L130.6,276.31 L131.4,276.47 L132.2,277.69 L133,276.96 L133.8,277.61 L134.6,278.56 L135.4,278.33 L136.2,278.21 L137,278.67 L137.8,279.36 L138.6,280.29 L139.4,280.7 L140.2,281.85 L141,281.48 L141.8,281.46 L142.6,280.39 L143.4,280.29 L144.2,280.33 L145,279.41 L145.8,280.08 L146.6,279.65 L147.4,279.19 L148.2,279.27 L149,278.74 L149.8,277.83 L150.6,278.21 L151.4,278.81 L152.2,278.93 L153,278 L153.8,278.4 L154.6,278.34 L155.4,276.72 L156.2,275.86 L157,275.06 L157.8,275.34 L158.6,274.56 L159.4,274.16 L160.2,274.42 L161,273.37 L161.8,273.33 L162.6,274.83 L163.4,274.45 L164.2,274.88 L165,274.86 L165.8,274.24 L166.6,275.23 L167.4,274.93 L168.2,278.04 L169,279.51 L169.8,281.19 L170.6,281.59 L171.4,282.56 L172.2,283.6 L173,284.08 L173.8,285.48 L174.6,287.89 L175.4,286.91 L176.2,287.71 L177,287.68 L177.8,288.56 L178.6,289.54 L179.4,290.13 L180.2,291.56 L181,292.2 L181.8,292.54 L182.6,292.82 L183.4,294.46 L184.2,294.29 L185,295.76 L185.8,295.23 L186.6,294.79 L187.4,296.11 L188.2,298.14 L189,297.97 L189.8,298.54 L190.6,299.35 L191.4,299.28 L192.2,299.74 L193,300.06 L193.8,301.54 L194.6,301.99 L195.4,301.84 L196.2,302.6 L197,301.65 L197.8,303.81 L198.6,305.16 L199.4,306.74 L200.2,303.59 L201,296.75 L201.8,293.6 L202.6,293.19 L203.4,292.58 L204.2,291.61 L205,291.08 L205.8,289.54 L206.6,288.17 L207.4,288.02 L208.2,285.6 L209,285.97 L209.8,286.1 L210.6,286.26 L211.4,287.5 L212.2,288.02 L213,288.41 L213.8,289.68 L214.6,291.24 L215.4,291.84 L216.2,292.73 L217,294.69 L217.8,296.36 L218.6,297.84 L219.4,299.06 L220.2,298.98 L221,298.82 L221.8,299.37 L222.6,297.78 L223.4,298.11 L224.2,297.67 L225,297.27 L225.8,296.94 L226.6,296.98 L227.4,297.42 L228.2,297.61 L229,297.3 L229.8,297.76 L230.6,299.11 L231.4,298.01 L232.2,299 L233,299.31 L233.8,298.85 L234.6,299.02 L235.4,300.63 L236.2,301.38 L237,301.26 L237.8,302.52 L238.6,302.75 L239.4,303.47 L240.2,302.69 L241,303.25 L241.8,304.18 L242.6,303.35 L243.4,303.87 L244.2,303.73 L245,304.09 L245.8,303.06 L246.6,303.51 L247.4,302.63 L248.2,303.28 L249,301.96 L249.8,302.52 L250.6,304.15 L251.4,303.03 L252.2,303.62 L253,304.75 L253.8,303.83 L254.6,305.74 L255.4,308.72 L256.2,309.92 L257,312.61 L257.8,314.11 L258.6,314.81 L259.4,312.85 L260.2,312.8 L261,312.19 L261.8,311.5 L262.6,310.12 L263.4,309.72 L264.2,309.59 L265,309.08 L265.8,310.75 L266.6,311.37 L267.4,310.76 L268.2,311.61 L269,311.18 L269.8,311.52 L270.6,313.17 L271.4,313.52 L272.2,313.92 L273,315.89 L273.8,316.34 L274.6,317.59 L275.4,319.12 L276.2,318.69 L277,320.13 L277.8,319.73 L278.6,319.93 L279.4,321.71 L280.2,322.35 L281,323.86 L281.8,322.99 L282.6,324.44 L283.4,325.06 L284.2,326.86 L285,326.82 L285.8,328.11 L286.6,327.22 L287.4,328.13 L288.2,329.28 L289,330.18 L289.8,330.59 L290.6,330.2 L291.4,329.77 L292.2,328.92 L293,329.21 L293.8,327.47 L294.6,328.12 L295.4,330.91 L296.2,331.46 L297,330.7 L297.8,329.56 L298.6,328.31 L299.4,326.84 L300.2,325.03 L301,324.82 L301.8,324.94 L302.6,324.22 L303.4,323.47 L304.2,323.73 L305,323.86 L305.8,323.96 L306.6,324.41 L307.4,324.65 L308.2,324.32 L309,324.74 L309.8,325.14 L310.6,325.5 L311.4,326.73 L312.2,327.15 L313,327.94 L313.8,329.08 L314.6,329.72 L315.4,330.47 L316.2,330.47 L317,331.69 L317.8,332.23 L318.6,334.32 L319.4,335.61 L320.2,335.5 L321,336.69 L321.8,336.7 L322.6,335.81 L323.4,335.03 L324.2,336.24 L325,334.69 L325.8,334.72 L326.6,334.78 L327.4,335.05 L328.2,334.93 L329,335.47 L329.8,335.34 L330.6,335.86 L331.4,335.76 L332.2,334.98 L333,333.96 L333.8,334.22 L334.6,334.26 L335.4,333.38 L336.2,333.42 L337,333.76 L337.8,332.9 L338.6,331.88 L339.4,331.5 L340.2,332.22 L341,332.8 L341.8,330.75 L342.6,330.22 L343.4,332.12 L344.2,332.33 L345,332.19 L345.8,332.23 L346.6,332.13 L347.4,331.74 L348.2,331.43 L349,332.37 L349.8,333.48 L350.6,332.91 L351.4,332.86 L352.2,333.75 L353,333.26 L353.8,333.91 L354.6,333.26 L355.4,334.22 L356.2,333.36 L357,333.95 L357.8,334.12 L358.6,333.14 L359.4,333.63 L360.2,333.63 L361,333.61 L361.8,334.64 L362.6,334.54 L363.4,335.31 L364.2,336.75 L365,337.12 L365.8,337.53 L366.6,337.42 L367.4,337.97 L368.2,337.1 L369,338.05 L369.8,337.95 L370.6,337.49 L371.4,336.57 L372.2,336.38 L373,335.95 L373.8,335.96 L374.6,334.65 L375.4,334.09 L376.2,333.01 L377,332.95 L377.8,331.79 L378.6,331.2 L379.4,331.79 L380.2,331.77 L381,331.67 L381.8,330.74 L382.6,330.92 L383.4,330.41 L384.2,330.58 L385,330.02 L385.8,329.94 L386.6,330.16 L387.4,329.55 L388.2,329.76 L389,329.46 L389.8,329.3 L390.6,327.33 L391.4,327.73 L392.2,327.95 L393,326.31 L393.8,325.76 L394.6,325.78 L395.4,325.46 L396.2,325.12 L397,324.23 L397.8,323.52 L398.6,323.13 L399.4,322.26 L400.2,321.9 L401,321 L401.8,319.59 L402.6,318.36 L403.4,318.05 L404.2,317.36 L405,317.14 L405.8,315.65 L406.6,314.03 L407.4,310.06 L408.2,301.25 L409,292.99 L409.8,290.24 L410.6,288.74 L411.4,289.83 L412.2,289.71 L413,289.88 L413.8,293.3 L414.6,292.97 L415.4,295.23 L416.2,296.85 L417,297.64 L417.8,299.13 L418.6,298.42 L419.4,299.03 L420.2,300.07 L421,299.86 L421.8,300.55 L422.6,301.08 L423.4,302.74 L424.2,302.61 L425,304.29 L425.8,306.01 L426.6,306.08 L427.4,307.38 L428.2,308.46 L429,306.65 L429.8,306.14 L430.6,306.07 L431.4,304.56 L432.2,303.6 L433,302.93 L433.8,301.99 L434.6,301.22 L435.4,298.45 L436.2,298.16 L437,296.44 L437.8,296.06 L438.6,295.57 L439.4,293.35 L440.2,292.59 L441,293.12 L441.8,292.95 L442.6,293.2 L443.4,291.94 L444.2,291.76 L445,290.97 L445.8,291.44 L446.6,290.13 L447.4,290.03 L448.2,286.8 L449,286.75 L449.8,286.59 L450.6,284.89 L451.4,285.08 L452.2,284.49 L453,283.29 L453.8,282.42 L454.6,282.02 L455.4,281.83 L456.2,280.97 L457,279.49 L457.8,279.26 L458.6,281.14 L459.4,281.62 L460.2,283.87 L461,283.92 L461.8,285.32 L462.6,285.8 L463.4,285.33 L464.2,286.83 L465,287.29 L465.8,287.32 L466.6,287.76 L467.4,286.43 L468.2,286.93 L469,288.09 L469.8,289.09 L470.6,289.36 L471.4,290.38 L472.2,289.07 L473,290.85 L473.8,291.73 L474.6,291.92 L475.4,291.91 L476.2,292.42 L477,294.2 L477.8,294.92 L478.6,295.58 L479.4,295.67 L480.2,297.39 L481,295.85 L481.8,296.48 L482.6,297.81 L483.4,297.26 L484.2,298.81 L485,299.98 L485.8,299.19 L486.6,300.06 L487.4,300.39 L488.2,300.09 L489,301.14 L489.8,302.35 L490.6,302.96 L491.4,302.76 L492.2,304.46 L493,306.78 L493.8,308.01 L494.6,309.76 L495.4,311.1 L496.2,312.15 L497,311.89 L497.8,313.3 L498.6,313.08 L499.4,314.05 L500.2,315.66 L501,315.4 L501.8,316.19 L502.6,316.94 L503.4,317.13 L504.2,316.88 L505,315.48 L505.8,317 L506.6,315.36 L507.4,315.71 L508.2,316.12 L509,317.79 L509.8,319.27 L510.6,320.23 L511.4,320.85 L512.2,321.58 L513,321.09 L513.8,319.74 L514.6,319.77 L515.4,318.57 L516.2,318.19 L517,318.91 L517.8,319.79 L518.6,320.17 L519.4,320.2 L520.2,319.81 L521,320.1 L521.8,319.56 L522.6,319.05 L523.4,319.39 L524.2,318.46 L525,318.88 L525.8,317.74 L526.6,314.01 L527.4,311.92 L528.2,312.69 L529,314.11 L529.8,315.17 L530.6,315.51 L531.4,315.58 L532.2,316.93 L533,318.81 L533.8,318.5 L534.6,320.42 L535.4,319.61 L536.2,318.27 L537,315.72 L537.8,310.68 L538.6,304.13 L539.4,300.39 L540.2,298.4 L541,295.22 L541.8,294.68 L542.6,294.78 L543.4,294.22 L544.2,294.77 L545,295.25 L545.8,296.26 L546.6,295.69 L547.4,293.96 L548.2,294.21 L549,293.97 L549.8,293.59 L550.6,294.95 L551.4,297.73 L552.2,298.26 L553,298.98 L553.8,300.23 L554.6,300.31 L555.4,301 L556.2,301.44 L557,302.15 L557.8,302.64 L558.6,302.97 L559.4,302.51 L560.2,303.05 L561,302.7 L561.8,302.87 L562.6,302.39 L563.4,301.77 L564.2,300.66 L565,299.99 L565.8,298.85 L566.6,299.85 L567.4,297.96 L568.2,298.98 L569,298.04 L569.8,297.55 L570.6,296.54 L571.4,296.49 L572.2,296.28 L573,296.07 L573.8,296.85 L574.6,297.24 L575.4,297.84 L576.2,300.17 L577,302.06 L577.8,302.92 L578.6,302.81 L579.4,301.97 L580.2,300.8 L581,301.58 L581.8,300.14 L582.6,300.39 L583.4,299.12 L584.2,300.75 L585,298.72 L585.8,297.42 L586.6,297.45 L587.4,296.73 L588.2,295.05 L589,295.6 L589.8,296.24 L590.6,297.41 L591.4,296.48 L592.2,297.55 L593,295.81 L593.8,294.56 L594.6,293.6 L595.4,292.35 L596.2,293.44 L597,293.29 L597.8,292.47 L598.6,293.39 L599.4,292.71 L600.2,292.65 L601,292.52 L601.8,292.62 L602.6,293.1 L603.4,293.4 L604.2,294.78 L605,293.69 L605.8,293.28 L606.6,293.14 L607.4,292.22 L608.2,291.88 L609,291.67 L609.8,292.77 L610.6,292.51 L611.4,291.55 L612.2,292.1 L613,290.63 L613.8,291.12 L614.6,290.75 L615.4,290.32 L616.2,289.85 L617,289.54 L617.8,289.9 L618.6,289.27 L619.4,289.27 L620.2,288.63 L621,286.92 L621.8,286.68 L622.6,287.25 L623.4,286.31 L624.2,285.5 L625,284.59 L625.8,285.18 L626.6,286 L627.4,287.3 L628.2,286.64 L629,286.24 L629.8,286.77 L630.6,286.56 L631.4,286.45 L632.2,287.24 L633,286.57 L633.8,286.09 L634.6,287.77 L635.4,288.8 L636.2,290.12 L637,289.79 L637.8,290.29 L638.6,291.03 L639.4,291.45 L640.2,291.47 L641,291.54 L641.8,293.29 L642.6,295.3 L643.4,296.39 L644.2,298.19 L645,298.83 L645.8,299.61 L646.6,300.08 L647.4,300.04 L648.2,299.31 L649,299.99 L649.8,299.13 L650.6,298.26 L651.4,298.1 L652.2,298.15 L653,297.42 L653.8,297.34 L654.6,297.07 L655.4,297.16 L656.2,296.58 L657,297.93 L657.8,297.34 L658.6,297.13 L659.4,297.68 L660.2,296.77 L661,296.4 L661.8,297 L662.6,295.82 L663.4,294.95 L664.2,295.21 L665,294.94 L665.8,294.34 L666.6,294.6 L667.4,294.21 L668.2,293.98 L669,292.39 L669.8,292.85 L670.6,293.06 L671.4,292.17 L672.2,291.55 L673,292.22 L673.8,291.54 L674.6,291.58 L675.4,290.6 L676.2,290.49 L677,289.38 L677.8,288.29 L678.6,287.78 L679.4,287.83 L680.2,288.64 L681,288.73 L681.8,289.33 L682.6,288.69 L683.4,289.02 L684.2,289.12 L685,288.82 L685.8,287.76 L686.6,287.69 L687.4,287.55 L688.2,287.86 L689,287.79 L689.8,286.66 L690.6,286.15 L691.4,284.41 L692.2,285.89 L693,285.11 L693.8,286.73 L694.6,286.18 L695.4,286.33 L696.2,285.64 L697,285.96 L697.8,285.26 L698.6,287.19 L699.4,286.63 L700.2,286.76 L701,286.12 L701.8,286.4 L702.6,287 L703.4,286.01 L704.2,286.81 L705,286.57 L705.8,286.97 L706.6,286.75 L707.4,286.6 L708.2,286.42 L709,286.27 L709.8,285.04 L710.6,285.26 L711.4,285.23 L712.2,284.85 L713,285.08 L713.8,284.37 L714.6,284.64 L715.4,283.36 L716.2,284.52 L717,283.85 L717.8,284 L718.6,283.73 L719.4,284.32 L720.2,283.58 L721,284.1 L721.8,284.09 L722.6,283.96 L723.4,284.44 L724.2,284.58 L725,284.13 L725.8,284.84 L726.6,284.42 L727.4,283.78 L728.2,284.66 L729,283.14 L729.8,283.66 L730.6,282.67 L731.4,282.2 L732.2,281.63 L733,281.67 L733.8,282.16 L734.6,282.16 L735.4,282.79 L736.2,283.44 L737,284.18 L737.8,284.35 L738.6,285.45 L739.4,285.52 L740.2,286.57 L741,287.14 L741.8,287.49 L742.6,287.56 L743.4,287.88 L744.2,287.77 L745,288.3 L745.8,288.02 L746.6,288.53 L747.4,287.6 L748.2,287.57 L749,288.01 L749.8,287.84 L750.6,287.74 L751.4,287.56 L752.2,288.6 L753,290.68 L753.8,290.22 L754.6,290.59 L755.4,290.53 L756.2,290.95 L757,290.9 L757.8,291.66 L758.6,292.94 L759.4,291.63 L760.2,290.09 L761,290.95 L761.8,290.29 L762.6,287.66 L763.4,287.98 L764.2,286.86 L765,286.3 L765.8,285.13 L766.6,285.47 L767.4,285.41 L768.2,285.47 L769,284.79 L769.8,284.47 L770.6,284.88 L771.4,284.85 L772.2,284.89 L773,286.03 L773.8,285.73 L774.6,285.99 L775.4,286.11 L776.2,285.77 L777,286.96 L777.8,287.2 L778.6,286.51 L779.4,287.19 L780.2,288.39 L781,288.29 L781.8,287.26 L782.6,286.52 L783.4,287.6 L784.2,288.68 L785,290.58 L785.8,291.26 L786.6,290.87 L787.4,292.08 L788.2,291.87 L789,292.01 L789.8,291.7 L790.6,291.56 L791.4,291.77 L792.2,292.9 L793,294.54 L793.8,295.61 L794.6,296.71 L795.4,297.79 L796.2,299.45 L797,300.06 L797.8,300.97 L798.6,302.07 L799.4,303.46 L800.2,303.94 L801,304.32 L801.8,305.36 L802.6,305.29 L803.4,306.64 L804.2,306.19 L805,304.34 L805.8,305.72 L806.6,304.86 L807.4,304.02 L808.2,304.3 L809,302.25 L809.8,300.74 L810.6,299.28 L811.4,298.32 L812.2,297.66 L813,296.13 L813.8,294.91 L814.6,294.05 L815.4,293.19 L816.2,292.19 L817,292.17 L817.8,290.7 L818.6,290.02 L819.4,289.01 L820.2,288.2 L821,285.87 L821.8,284.86 L822.6,282.22 L823.4,281.8 L824.2,281.04 L825,281.63 L825.8,282.62 L826.6,282.94 L827.4,283.6 L828.2,283.77 L829,285.37 L829.8,286 L830.6,285.88 L831.4,286.37 L832.2,286.3 L833,286.81 L833.8,287.93 L834.6,288.45 L835.4,288.14 L836.2,289.25 L837,289.9 L837.8,290.25 L838.6,291.09 L839.4,293.75 L840.2,296.26 L841,298.91 L841.8,299.65 L842.6,300.54 L843.4,301.09 L844.2,301.59 L845,301.83 L845.8,302.66 L846.6,303.89 L847.4,303.69 L848.2,303.61 L849,304.78 L849.8,306.09 L850.6,306.81 L851.4,306.94 L852.2,308.78 L853,308.86 L853.8,310.27 L854.6,309 L855.4,306.9 L856.2,302.54 L857,300.92 L857.8,297.67 L858.6,294.48 L859.4,294.96 L860.2,293.83 L861,292.6 L861.8,292.52 L862.6,290.09 L863.4,291.42 L864.2,291.44 L865,292.57 L865.8,291.77 L866.6,291.75 L867.4,288.68 L868.2,285.21 L869,283.23 L869.8,279.72 L870.6,277.27 L871.4,274.77 L872.2,275.13 L873,274.41 L873.8,272.36 L874.6,271.61 L875.4,270.09 L876.2,269.97 L877,270.34 L877.8,270.19 L878.6,269.43 L879.4,268.65 L880.2,268.56 L881,269.77 L881.8,272.43 L882.6,273.6 L883.4,274.57 L884.2,273.74 L885,273.42 L885.8,273.01 L886.6,272.66 L887.4,272.9 L888.2,272.64 L889,272.54 L889.8,272.44 L890.6,273.57 L891.4,272.99 L892.2,274.79 L893,274.33 L893.8,275 L894.6,274.21 L895.4,274.32 L896.2,275.38 L897,275.61 L897.8,275.29 L898.6,274.62 L899.4,274.01 L900.2,273.12 L901,273.04 L901.8,272.23 L902.6,271.7 L903.4,271.7 L904.2,271.76 L905,271.43 L905.8,270.63 L906.6,269.74 L907.4,269.26 L908.2,267.74 L909,267.37 L909.8,267.74 L910.6,268.41 L911.4,268.64 L912.2,271.53 L913,281.09 L913.8,278.24 L914.6,275.39 L915.4,274.55 L916.2,274.79 L917,276.13 L917.8,276.79 L918.6,278.25 L919.4,278.8 L920.2,278.6 L921,278.14 L921.8,277.53 L922.6,277.49 L923.4,275.89 L924.2,275.58 L925,274.25 L925.8,274.15 L926.6,272.95 L927.4,270.62 L928.2,267.62 L929,266.22 L929.8,265.38 L930.6,265.43 L931.4,264.38 L932.2,264.23 L933,264.28 L933.8,265.57 L934.6,267.78" fill="none" stroke="#000" stroke-width="1.1" stroke-linejoin="round" />
<path d="M89,374.51 L89.8,374.01 L90.6,374.56 L91.4,373.81 L92.2,373.88 L93,373.87 L93.8,373.8 L94.6,373.44 L95.4,373.35 L96.2,373.91 L97,373.46 L97.8,373.35 L98.6,373.18 L99.4,372.41 L100.2,373.19 L101,372.73 L101.8,372.62 L102.6,373.11 L103.4,373.21 L104.2,373.21 L105,372.59 L105.8,372.66 L106.6,372.9 L107.4,372.49 L108.2,372.28 L109,371.93 L109.8,371.82 L110.6,371.99 L111.4,371.23 L112.2,371.97 L113,371.32 L113.8,370.84 L114.6,371.34 L115.4,371.57 L116.2,371.29 L117,371.29 L117.8,371.78 L118.6,371.65 L119.4,371.71 L120.2,371.75 L121,370.85 L121.8,370.51 L122.6,369.76 L123.4,369.47 L124.2,369.52 L125,368.72 L125.8,368.99 L126.6,367.76 L127.4,367.43 L128.2,367.4 L129,366.71 L129.8,365.83 L130.6,366.42 L131.4,366.16 L132.2,367.08 L133,366.39 L133.8,366.14 L134.6,366.37 L135.4,366.64 L136.2,366.14 L137,366.22 L137.8,366.35 L138.6,366.33 L139.4,367.03 L140.2,366.23 L141,366.87 L141.8,367.11 L142.6,367.1 L143.4,365.82 L144.2,366.25 L145,365.47 L145.8,365.56 L146.6,365.22 L147.4,364.56 L148.2,364.08 L149,363.14 L149.8,363.26 L150.6,363.58 L151.4,362.91 L152.2,362.34 L153,362.45 L153.8,361.79 L154.6,361.67 L155.4,360.93 L156.2,360.69 L157,360.27 L157.8,360.19 L158.6,360.15 L159.4,359.38 L160.2,359.62 L161,359.02 L161.8,359.11 L162.6,358.49 L163.4,357.97 L164.2,358.37 L165,357.37 L165.8,357.73 L166.6,357.16 L167.4,356.97 L168.2,356.85 L169,355.93 L169.8,355.67 L170.6,355.87 L171.4,355.72 L172.2,355.79 L173,355.42 L173.8,354.61 L174.6,354.77 L175.4,355.54 L176.2,354.4 L177,354.94 L177.8,354.46 L178.6,353.54 L179.4,352.92 L180.2,353.82 L181,352.77 L181.8,353.36 L182.6,352.74 L183.4,352.2 L184.2,352.9 L185,352.19 L185.8,352.5 L186.6,351.02 L187.4,351.51 L188.2,352.1 L189,352.08 L189.8,351.32 L190.6,351.43 L191.4,350.75 L192.2,350.92 L193,351.53 L193.8,351.04 L194.6,351.54 L195.4,351.32 L196.2,350.36 L197,350.63 L197.8,349.84 L198.6,351.11 L199.4,349.45 L200.2,350.13 L201,350.61 L201.8,350.34 L202.6,350.25 L203.4,349.91 L204.2,349.99 L205,349.87 L205.8,349.79 L206.6,349.5 L207.4,349.3 L208.2,349.32 L209,348.56 L209.8,349.62 L210.6,349.1 L211.4,349.67 L212.2,348.94 L213,348.91 L213.8,349.54 L214.6,349.45 L215.4,348.93 L216.2,348.63 L217,348.54 L217.8,348.58 L218.6,348.79 L219.4,347.23 L220.2,347.93 L221,347.74 L221.8,347.63 L222.6,348.01 L223.4,348.04 L224.2,347.7 L225,347.45 L225.8,347.56 L226.6,347.52 L227.4,347.76 L228.2,347.05 L229,347.33 L229.8,347.58 L230.6,347.81 L231.4,348.32 L232.2,347.87 L233,348.2 L233.8,347.56 L234.6,348.34 L235.4,348.74 L236.2,348.53 L237,348.03 L237.8,348.06 L238.6,347.91 L239.4,347.79 L240.2,348.73 L241,348 L241.8,347.67 L242.6,348.59 L243.4,348.35 L244.2,348.24 L245,348.69 L245.8,348.86 L246.6,349.11 L247.4,350.71 L248.2,350.62 L249,351.65 L249.8,351.45 L250.6,352.02 L251.4,352.06 L252.2,352.95 L253,353.32 L253.8,353.7 L254.6,354.93 L255.4,354.26 L256.2,355.18 L257,355.19 L257.8,355.29 L258.6,356.14 L259.4,356.06 L260.2,355.88 L261,356.43 L261.8,357.08 L262.6,357.63 L263.4,358.24 L264.2,357.66 L265,357.96 L265.8,359.21 L266.6,359.07 L267.4,358.84 L268.2,359.19 L269,359.43 L269.8,358.91 L270.6,359.66 L271.4,360.57 L272.2,360.16 L273,360.42 L273.8,361.27 L274.6,362.11 L275.4,362.04 L276.2,362.35 L277,362.36 L277.8,362.84 L278.6,363.79 L279.4,363.37 L280.2,364.61 L281,365.23 L281.8,365.56 L282.6,365.65 L283.4,366.03 L284.2,366.1 L285,366.46 L285.8,366.18 L286.6,367.51 L287.4,367.96 L288.2,368.06 L289,368.29 L289.8,368.5 L290.6,369.21 L291.4,369.23 L292.2,369.52 L293,369.98 L293.8,370.8 L294.6,371.37 L295.4,371.85 L296.2,371.88 L297,372.02 L297.8,371.57 L298.6,372.18 L299.4,371.69 L300.2,372.81 L301,372.69 L301.8,373.24 L302.6,373.69 L303.4,373.89 L304.2,374.67 L305,373.8 L305.8,374.27 L306.6,374.81 L307.4,375.45 L308.2,374.87 L309,375.39 L309.8,376.56 L310.6,376.22 L311.4,376.44 L312.2,377 L313,377.16 L313.8,377.94 L314.6,378 L315.4,378.83 L316.2,379.86 L317,378.87 L317.8,379.12 L318.6,379.35 L319.4,380.19 L320.2,379.67 L321,380.4 L321.8,380.11 L322.6,381.47 L323.4,381.01 L324.2,381.2 L325,382.59 L325.8,382.76 L326.6,382.06 L327.4,382.83 L328.2,383.33 L329,383.33 L329.8,384.47 L330.6,384.15 L331.4,384.04 L332.2,383.74 L333,384.97 L333.8,384.38 L334.6,385.05 L335.4,384.7 L336.2,385.94 L337,385.9 L337.8,386.22 L338.6,386.65 L339.4,386.55 L340.2,386.91 L341,387.36 L341.8,386.88 L342.6,386.96 L343.4,387.14 L344.2,386.61 L345,386.9 L345.8,387.1 L346.6,387.51 L347.4,387.44 L348.2,387.39 L349,386.42 L349.8,387.17 L350.6,385.74 L351.4,387.48 L352.2,386.5 L353,386.97 L353.8,387.65 L354.6,386.92 L355.4,386.88 L356.2,386.89 L357,386.36 L357.8,387.2 L358.6,387.76 L359.4,387.4 L360.2,388.07 L361,388.2 L361.8,388.25 L362.6,387.74 L363.4,387.9 L364.2,388.31 L365,388.57 L365.8,388.7 L366.6,388.93 L367.4,389.42 L368.2,388.98 L369,389.33 L369.8,389.34 L370.6,389.58 L371.4,389.31 L372.2,388.95 L373,389.8 L373.8,389.81 L374.6,389.59 L375.4,389.41 L376.2,389.73 L377,390.21 L377.8,390.01 L378.6,390.33 L379.4,390.17 L380.2,391.11 L381,391.28 L381.8,391.89 L382.6,391.88 L383.4,391.74 L384.2,392.51 L385,392.36 L385.8,391.86 L386.6,392.54 L387.4,392.98 L388.2,392.75 L389,393.05 L389.8,393.62 L390.6,394.1 L391.4,393.82 L392.2,394.71 L393,394.51 L393.8,394.78 L394.6,395.3 L395.4,396.13 L396.2,395.65 L397,396.02 L397.8,396.58 L398.6,396.59 L399.4,395.94 L400.2,396.27 L401,396.36 L401.8,396.67 L402.6,395.72 L403.4,396.25 L404.2,396.1 L405,395.9 L405.8,395.5 L406.6,395.77 L407.4,395.53 L408.2,396.29 L409,396.56 L409.8,396.55 L410.6,395.26 L411.4,395.3 L412.2,395.72 L413,396 L413.8,396.17 L414.6,396.17 L415.4,396.56 L416.2,396.91 L417,397.24 L417.8,397.1 L418.6,397.88 L419.4,397.23 L420.2,397.73 L421,397.24 L421.8,397.54 L422.6,397.81 L423.4,398.79 L424.2,398.89 L425,399 L425.8,398.79 L426.6,399.29 L427.4,399.43 L428.2,399.23 L429,399.27 L429.8,399.8 L430.6,400.35 L431.4,399.69 L432.2,399.67 L433,399.72 L433.8,400.47 L434.6,399.31 L435.4,399.09 L436.2,398.77 L437,399.31 L437.8,399.52 L438.6,399.18 L439.4,399.86 L440.2,399.33 L441,399.44 L441.8,398.13 L442.6,397.88 L443.4,397.72 L444.2,398.18 L445,397.33 L445.8,396.69 L446.6,395.63 L447.4,396.25 L448.2,395.23 L449,394.56 L449.8,394.17 L450.6,393.25 L451.4,393.12 L452.2,393.46 L453,392.79 L453.8,393.04 L454.6,391.81 L455.4,391.09 L456.2,392.14 L457,391.07 L457.8,391.75 L458.6,391.04 L459.4,390.93 L460.2,390.68 L461,390.37 L461.8,389.81 L462.6,389.46 L463.4,389.38 L464.2,389.4 L465,389.5 L465.8,389.04 L466.6,388.65 L467.4,388.81 L468.2,388.63 L469,388.39 L469.8,387.36 L470.6,387.63 L471.4,388.09 L472.2,388.09 L473,387.64 L473.8,388.22 L474.6,387.38 L475.4,387.58 L476.2,387.29 L477,387.04 L477.8,387.55 L478.6,387.55 L479.4,387.54 L480.2,387.84 L481,388.08 L481.8,388.07 L482.6,387.82 L483.4,387.76 L484.2,387.97 L485,387.87 L485.8,387.46 L486.6,387.38 L487.4,387.72 L488.2,387.31 L489,387.53 L489.8,387.8 L490.6,387.73 L491.4,387.81 L492.2,388.04 L493,388.32 L493.8,387.67 L494.6,388.02 L495.4,388.08 L496.2,388.11 L497,387.42 L497.8,387.37 L498.6,387.6 L499.4,388.24 L500.2,388.44 L501,389.03 L501.8,388.92 L502.6,388.44 L503.4,389.32 L504.2,388.39 L505,387.96 L505.8,388.3 L506.6,388.44 L507.4,388.65 L508.2,389.12 L509,388.89 L509.8,388.19 L510.6,387.38 L511.4,386.35 L512.2,387.37 L513,386.81 L513.8,386.23 L514.6,385.39 L515.4,386.02 L516.2,385.99 L517,385.1 L517.8,385.04 L518.6,385.83 L519.4,385.66 L520.2,385.18 L521,385.9 L521.8,385.67 L522.6,384.92 L523.4,384.95 L524.2,383.73 L525,383.98 L525.8,383.71 L526.6,382.36 L527.4,381.88 L528.2,382.97 L529,381.68 L529.8,381.46 L530.6,381.37 L531.4,380.74 L532.2,380.35 L533,380.22 L533.8,379.34 L534.6,379.55 L535.4,378.82 L536.2,378.75 L537,378.71 L537.8,377.57 L538.6,377.85 L539.4,377.22 L540.2,377.54 L541,376.27 L541.8,376.28 L542.6,375.5 L543.4,375.26 L544.2,375.75 L545,375.31 L545.8,375.7 L546.6,374.52 L547.4,374.28 L548.2,375.08 L549,374.56 L549.8,374.48 L550.6,374.39 L551.4,373.28 L552.2,373.41 L553,372.91 L553.8,372.87 L554.6,373.44 L555.4,372.79 L556.2,372.49 L557,373.3 L557.8,372.51 L558.6,372.29 L559.4,372.37 L560.2,372.66 L561,372.14 L561.8,372.25 L562.6,372.12 L563.4,371.7 L564.2,371.13 L565,371.82 L565.8,370.99 L566.6,371.57 L567.4,371.36 L568.2,370.38 L569,370.22 L569.8,370.08 L570.6,370.06 L571.4,369.32 L572.2,369.05 L573,368.57 L573.8,369.28 L574.6,368.33 L575.4,368.56 L576.2,368.58 L577,368.36 L577.8,368.56 L578.6,367.77 L579.4,367.87 L580.2,367.61 L581,366.98 L581.8,366.45 L582.6,366.88 L583.4,366.38 L584.2,367 L585,366.17 L585.8,366.09 L586.6,365.69 L587.4,365.6 L588.2,365.22 L589,365.47 L589.8,364.7 L590.6,365.05 L591.4,363.99 L592.2,363.85 L593,364.88 L593.8,364.14 L594.6,363.7 L595.4,364.13 L596.2,363.71 L597,362.88 L597.8,363.05 L598.6,362.08 L599.4,361.71 L600.2,361.32 L601,361.34 L601.8,360.76 L602.6,361.42 L603.4,361.56 L604.2,361.4 L605,360.54 L605.8,360.08 L606.6,359.86 L607.4,360.23 L608.2,359.38 L609,359.42 L609.8,359.85 L610.6,358.85 L611.4,359.24 L612.2,358.71 L613,358.5 L613.8,358.4 L614.6,358.61 L615.4,359 L616.2,358.39 L617,358.63 L617.8,358.31 L618.6,358.12 L619.4,356.78 L620.2,356.84 L621,357.07 L621.8,357.49 L622.6,356.91 L623.4,356.97 L624.2,356.72 L625,355.78 L625.8,356.36 L626.6,356.5 L627.4,355.59 L628.2,355.92 L629,355.23 L629.8,355.31 L630.6,354.66 L631.4,355.24 L632.2,354.86 L633,354.42 L633.8,354.65 L634.6,354.42 L635.4,353.57 L636.2,353.86 L637,354.23 L637.8,354.03 L638.6,353.37 L639.4,353.35 L640.2,353.16 L641,352.26 L641.8,352.62 L642.6,352.11 L643.4,352.08 L644.2,352.34 L645,352.67 L645.8,351.81 L646.6,352.51 L647.4,352.67 L648.2,352.36 L649,352.41 L649.8,352.3 L650.6,352.48 L651.4,352.51 L652.2,352.79 L653,352.49 L653.8,351.85 L654.6,353.09 L655.4,351.89 L656.2,352.8 L657,353.16 L657.8,353.34 L658.6,353.11 L659.4,352.69 L660.2,353.56 L661,352.9 L661.8,353.63 L662.6,353.99 L663.4,354.12 L664.2,354.8 L665,354.13 L665.8,355.52 L666.6,355.42 L667.4,355.49 L668.2,355.78 L669,356.16 L669.8,355.93 L670.6,355.93 L671.4,356.78 L672.2,357.17 L673,356.58 L673.8,357.45 L674.6,357.26 L675.4,357.72 L676.2,357.51 L677,357.31 L677.8,357.8 L678.6,357.84 L679.4,358.64 L680.2,359.02 L681,358.65 L681.8,359.15 L682.6,359.23 L683.4,359.49 L684.2,359.77 L685,359.85 L685.8,360.07 L686.6,360.85 L687.4,360.4 L688.2,360.79 L689,360.92 L689.8,360.83 L690.6,360.61 L691.4,361.7 L692.2,362.02 L693,361.64 L693.8,362.17 L694.6,362.62 L695.4,363.16 L696.2,362.92 L697,363.02 L697.8,363.52 L698.6,363.91 L699.4,363.79 L700.2,365.13 L701,365.37 L701.8,365.24 L702.6,365.26 L703.4,365.85 L704.2,366 L705,366.18 L705.8,367.06 L706.6,366.81 L707.4,367.03 L708.2,367.02 L709,367.33 L709.8,368.19 L710.6,368.07 L711.4,368.72 L712.2,368.47 L713,369.39 L713.8,369.41 L714.6,369.59 L715.4,369.22 L716.2,370.06 L717,370.26 L717.8,370.15 L718.6,369.98 L719.4,370.05 L720.2,370.21 L721,370.27 L721.8,371.05 L722.6,371.42 L723.4,371.16 L724.2,371.13 L725,370.8 L725.8,370.54 L726.6,371.24 L727.4,372 L728.2,372.14 L729,372.05 L729.8,372.06 L730.6,371.57 L731.4,372.43 L732.2,372.81 L733,371.91 L733.8,372.27 L734.6,373.27 L735.4,373.76 L736.2,373.63 L737,374.13 L737.8,373.59 L738.6,373.05 L739.4,373.69 L740.2,374.36 L741,374.78 L741.8,374.45 L742.6,374.65 L743.4,375.19 L744.2,375.24 L745,375.6 L745.8,375.43 L746.6,374.53 L747.4,375.72 L748.2,376.07 L749,376.4 L749.8,376.55 L750.6,375.94 L751.4,377.27 L752.2,377.39 L753,377.38 L753.8,377.9 L754.6,378.95 L755.4,379.35 L756.2,378.68 L757,379.44 L757.8,380.01 L758.6,379.78 L759.4,380.39 L760.2,380.51 L761,381.27 L761.8,381.69 L762.6,382.3 L763.4,382.67 L764.2,382.56 L765,383.62 L765.8,384.24 L766.6,383.85 L767.4,385.23 L768.2,385.39 L769,385.5 L769.8,385.7 L770.6,385.52 L771.4,385.99 L772.2,386.51 L773,386.43 L773.8,386.83 L774.6,387.27 L775.4,387.62 L776.2,387.89 L777,387.92 L777.8,387.69 L778.6,388.75 L779.4,389.27 L780.2,388.68 L781,389.46 L781.8,390.15 L782.6,390.55 L783.4,390.31 L784.2,390.82 L785,390.61 L785.8,390.92 L786.6,391.02 L787.4,391.87 L788.2,392.05 L789,392.69 L789.8,393.54 L790.6,393.82 L791.4,394.24 L792.2,394.91 L793,394.89 L793.8,395.26 L794.6,396.32 L795.4,395.48 L796.2,396.18 L797,396.47 L797.8,397.49 L798.6,397.18 L799.4,397.84 L800.2,398.54 L801,399.05 L801.8,399.44 L802.6,399.45 L803.4,399.1 L804.2,400.07 L805,400.63 L805.8,401.22 L806.6,401.26 L807.4,400.45 L808.2,400.38 L809,400.2 L809.8,400.61 L810.6,399.89 L811.4,399.94 L812.2,401.15 L813,400.17 L813.8,400.95 L814.6,401.23 L815.4,401.39 L816.2,400.93 L817,400.81 L817.8,401.04 L818.6,401.53 L819.4,401.08 L820.2,401.07 L821,401.81 L821.8,401.65 L822.6,401.72 L823.4,401.15 L824.2,401.38 L825,400.96 L825.8,401.67 L826.6,401.25 L827.4,402.19 L828.2,402.28 L829,402.05 L829.8,402.52 L830.6,403.34 L831.4,403.42 L832.2,403.21 L833,403.59 L833.8,403.85 L834.6,404.04 L835.4,404.39 L836.2,404.33 L837,404.95 L837.8,405.76 L838.6,406.07 L839.4,406.48 L840.2,405.82 L841,406.83 L841.8,407.53 L842.6,407.84 L843.4,408.03 L844.2,408.13 L845,408.93 L845.8,409.44 L846.6,409.48 L847.4,409.6 L848.2,410.73 L849,410.48 L849.8,410.98 L850.6,411.2 L851.4,412.25 L852.2,411.88 L853,413.22 L853.8,413.09 L854.6,413.51 L855.4,413.7 L856.2,414.57 L857,413.87 L857.8,415.06 L858.6,415.49 L859.4,415.81 L860.2,416.22 L861,416.21 L861.8,416.71 L862.6,417.18 L863.4,417.14 L864.2,417.48 L865,417.87 L865.8,419.18 L866.6,419.05 L867.4,420.18 L868.2,419.64 L869,420.19 L869.8,419.86 L870.6,419.19 L871.4,420.16 L872.2,419.66 L873,419.3 L873.8,419.21 L874.6,417.88 L875.4,417.71 L876.2,417.74 L877,417.53 L877.8,417.13 L878.6,417.27 L879.4,417.86 L880.2,417.98 L881,419.24 L881.8,418.4 L882.6,419.3 L883.4,418.9 L884.2,419.58 L885,419.4 L885.8,419.86 L886.6,419.43 L887.4,419.24 L888.2,419.31 L889,419.91 L889.8,420.67 L890.6,420.76 L891.4,420.09 L892.2,420.17 L893,419.84 L893.8,419.81 L894.6,419.79 L895.4,420.16 L896.2,419.43 L897,419.42 L897.8,420.01 L898.6,419.8 L899.4,419.66 L900.2,420.16 L901,419.62 L901.8,419.62 L902.6,419.87 L903.4,419.8 L904.2,419.79 L905,419.3 L905.8,419.32 L906.6,419.27 L907.4,418.89 L908.2,418.06 L909,418.11 L909.8,418.26 L910.6,418.5 L911.4,417.8 L912.2,418.17 L913,417.73 L913.8,417.58 L914.6,417.14 L915.4,417.51 L916.2,417.25 L917,417.29 L917.8,417.03 L918.6,416.45 L919.4,416.8 L920.2,416.35 L921,415.82 L921.8,416.9 L922.6,416.59 L923.4,415.57 L924.2,415.35 L925,415.87 L925.8,415.12 L926.6,415.11 L927.4,414.42 L928.2,415.47 L929,416.1 L929.8,416.06 L930.6,415.41 L931.4,415.05 L932.2,414.54 L933,414.1 L933.8,415.03 L934.6,415.38" fill="none" stroke="#000" stroke-width="0.95" stroke-linejoin="round" />
<path d="M909.7,454.7 L911.2,453.9 L913.6,448.4 L916,445 L918.3,442.2 L926.9,442.2 L929.2,437.5 L931.6,434.4 L933.4,429.8 L935,429.5" fill="none" stroke="#ff0000" stroke-width="1.2" stroke-linejoin="round" />
<path d="M89,503.4 L407.2,503.4 L408.4,500.5" fill="none" stroke="#3000e0" stroke-width="1.3" stroke-linejoin="round" />
<path d="M408.4,500.5 L409.9,500.5 L410.5,498.8 L823.8,498.75 L824.5,497.3 L866.7,497.3 L869,493.75 L872.2,475 L875.3,461 L877.7,454.7 L909.7,454.7" fill="none" stroke="#6420d2" stroke-width="1.3" stroke-linejoin="round" />
<path d="M145.91,586.3 L145.91,585.9 L146.13,585.89 L146.35,585.87 L146.57,585.86 L146.79,585.85 L147.01,585.84 L147.23,585.83 L147.45,585.82 L147.67,585.8 L147.89,585.79 L148.11,585.78 L148.33,585.77 L148.55,585.76 L148.77,585.74 L148.99,585.73 L149.21,585.72 L149.43,585.71 L149.65,585.7 L149.87,585.68 L150.09,585.67 L150.31,585.66 L150.53,585.65 L150.75,585.64 L150.97,585.62 L151.19,585.61 L151.41,585.6 L151.63,585.59 L151.85,585.58 L152.07,585.57 L152.29,585.55 L152.51,585.54 L152.73,585.53 L152.95,585.52 L153.17,585.51 L153.39,585.49 L153.61,585.48 L153.83,585.47 L154.05,585.46 L154.27,585.45 L154.49,585.43 L154.71,585.42 L154.93,585.41 L155.15,585.4 L155.37,585.39 L155.59,585.38 L155.81,585.36 L156.03,585.35 L156.25,585.34 L156.47,585.33 L156.69,585.32 L156.91,585.3 L157.13,585.29 L157.35,585.28 L157.57,585.27 L157.79,585.26 L158.01,585.24 L158.23,585.23 L158.45,585.22 L158.67,585.21 L158.89,585.2 L159.11,585.18 L159.33,585.17 L159.55,585.16 L159.77,585.15 L159.99,585.14 L160.21,585.13 L160.43,585.11 L160.65,585.1 L160.87,585.09 L161.09,585.08 L161.31,585.07 L161.53,585.05 L161.75,585.04 L161.97,585.03 L162.19,585.02 L162.41,585.01 L162.63,584.99 L162.85,584.98 L163.07,584.97 L163.29,584.96 L163.51,584.95 L163.73,584.94 L163.95,584.92 L164.17,584.91 L164.39,584.9 L164.61,584.89 L164.83,584.88 L165.05,584.86 L165.27,584.85 L165.49,584.84 L165.71,584.83 L165.93,584.65 L166.15,584.38 L166.37,584.12 L166.59,583.86 L166.81,583.59 L167.03,583.33 L167.25,583.06 L167.47,582.8 L167.69,582.54 L167.91,582.27 L168.13,582.01 L168.35,581.74 L168.57,581.36 L168.79,580.83 L169.01,580.3 L169.23,579.77 L169.45,579.25 L169.67,578.72 L169.89,578.19 L170.11,577.66 L170.33,577.13 L170.55,576.61 L170.77,576.08 L170.99,575.55 L171.21,575.31 L171.43,575.89 L171.65,576.48 L171.87,577.07 L172.09,577.65 L172.31,578.24 L172.53,578.83 L172.75,579.41 L172.97,579.41 L173.19,579.36 L173.41,579.31 L173.63,579.26 L173.85,579.21 L174.07,579.16 L174.29,579.11 L174.51,579.07 L174.73,579.02 L174.95,578.97 L175.17,578.92 L175.39,578.87 L175.61,578.82 L175.83,578.77 L176.05,578.72 L176.27,578.67 L176.49,578.63 L176.71,578.58 L176.93,578.53 L177.15,578.48 L177.37,578.43 L177.59,578.38 L177.81,578.2 L178.03,578.01 L178.25,577.82 L178.47,577.63 L178.69,577.44 L178.91,577.26 L179.13,577.07 L179.35,576.88 L179.57,576.69 L179.79,576.5 L180.01,576.31 L180.23,576.12 L180.45,575.94 L180.67,575.75 L180.89,575.56 L181.11,575.37 L181.33,575.18 L181.55,574.65 L181.77,574.06 L181.99,573.47 L182.21,572.89 L182.43,572.3 L182.65,571.71 L182.87,571.13 L183.09,570.55 L183.31,570.05 L183.53,569.4 L183.75,568.81 L183.97,568.22 L184.19,567.7 L184.41,569.06 L184.63,568.66 L184.85,568.81 L185.07,568.29 L185.29,567.97 L185.51,567.81 L185.73,567.99 L185.95,567.18 L186.17,567.29 L186.39,567.2 L186.61,567.06 L186.83,566.18 L187.05,566.13 L187.27,566.53 L187.49,565.61 L187.71,565.97 L187.93,566.5 L188.15,565.81 L188.37,566.35 L188.59,566.75 L188.81,557.13 L189.03,565.55 L189.25,565.47 L189.47,567.15 L189.69,552.42 L189.91,562.96 L190.13,565.22 L190.35,564.71 L190.57,563.23 L190.79,565.84 L191.01,564.56 L191.23,544.72 L191.45,547.59 L191.67,554.23 L191.89,546.34 L192.11,551.01 L192.33,547.25 L192.55,565.33 L192.77,565.55 L192.99,565.44 L193.21,564.32 L193.43,564.91 L193.65,567.42 L193.87,565.84 L194.09,566.19 L194.31,566.55 L194.53,564.5 L194.75,562.3 L194.97,555.02 L195.19,549.52 L195.41,554.82 L195.63,542.66 L195.85,550.99 L196.07,552.52 L196.29,558.82 L196.51,560.24 L196.73,560.24 L196.95,559.78 L197.17,556.83 L197.39,555.01 L197.61,557.95 L197.83,557.3 L198.05,553.45 L198.27,553.28 L198.49,534.36 L198.71,543.15 L198.93,543.34 L199.15,531.25 L199.37,532.93 L199.59,544.04 L199.81,537.52 L200.03,536.77 L200.25,536.03 L200.47,544.21 L200.69,548.22 L200.91,555.38 L201.13,553.18 L201.35,553.81 L201.57,555.61 L201.79,556.3 L202.01,555.62 L202.23,555.61 L202.45,543.19 L202.67,542.29 L202.89,545.13 L203.11,540.18 L203.33,553.23 L203.55,555.25 L203.77,554.73 L203.99,551.99 L204.21,555.7 L204.43,554.37 L204.65,553.96 L204.87,554.97 L205.09,551.83 L205.31,553.87 L205.53,553.08 L205.75,555.54 L205.97,553.25 L206.19,554.02 L206.41,552.44 L206.63,544.66 L206.85,525.99 L207.07,523.58 L207.29,523.79 L207.51,523.1 L207.73,556.18 L207.95,555.63 L208.17,555.49 L208.39,552.35 L208.61,559.8 L208.83,555.22 L209.05,557.32 L209.27,559.91 L209.49,553.79 L209.71,528.85 L209.93,518.04 L210.15,533.43 L210.37,521.73 L210.59,533.18 L210.81,559.73 L211.03,551.67 L211.25,520.18 L211.47,542.83 L211.69,542.1 L211.91,532.63 L212.13,537.23 L212.35,518.29 L212.57,541.46 L212.79,518.67 L213.01,537.09 L213.23,523.59 L213.45,523.38 L213.67,531.3 L213.89,532.71 L214.11,529.11 L214.33,526.1 L214.55,526.68 L214.77,550.71 L214.99,549.53 L215.21,525.23 L215.43,541.41 L215.65,536.89 L215.87,527.99 L216.09,545.28 L216.31,546.71 L216.53,524.51 L216.75,545.74 L216.97,547.34 L217.19,546.98 L217.41,542.95 L217.63,544.03 L217.85,524.09 L218.07,543.8 L218.29,543.99 L218.51,542.48 L218.73,544.37 L218.95,524.57 L219.17,530.99 L219.39,544.12 L219.61,545.43 L219.83,542.28 L220.05,544.95 L220.27,532.86 L220.49,525.6 L220.71,545.52 L220.93,546.83 L221.15,545.77 L221.37,545.24 L221.59,546.96 L221.81,532.69 L222.03,526.33 L222.25,535.99 L222.47,530.9 L222.69,540.52 L222.91,541.33 L223.13,527.53 L223.35,550.46 L223.57,533.92 L223.79,539.58 L224.01,541.05 L224.23,535.36 L224.45,524.92 L224.67,540.76 L224.89,546.26 L225.11,547.71 L225.33,540.69 L225.55,546.14 L225.77,532.19 L225.99,544.59 L226.21,545.36 L226.43,544.26 L226.65,543.65 L226.87,532.22 L227.09,536.12 L227.31,536.03 L227.53,537.65 L227.75,542.18 L227.97,541.29 L228.19,539.94 L228.41,542.2 L228.63,542.72 L228.85,541.23 L229.07,541.56 L229.29,541.49 L229.51,542.1 L229.73,543.02 L229.95,538.18 L230.17,532.8 L230.39,530.32 L230.61,538.17 L230.83,545.66 L231.05,545.86 L231.27,542.96 L231.49,544.34 L231.71,544.95 L231.93,544.83 L232.15,525.29 L232.37,527.46 L232.59,525.22 L232.81,527.23 L233.03,521.9 L233.25,545.93 L233.47,543.24 L233.69,541.73 L233.91,542.64 L234.13,544.79 L234.35,544.05 L234.57,534.79 L234.79,529.9 L235.01,530.57 L235.23,530.95 L235.45,535.04 L235.67,538.73 L235.89,532.82 L236.11,533.49 L236.33,529.3 L236.55,548.28 L236.77,528.91 L236.99,529.33 L237.21,550.31 L237.43,546.77 L237.65,548.31 L237.87,547.14 L238.09,548.7 L238.31,546.89 L238.53,534.51 L238.75,533.05 L238.97,527.22 L239.19,528.1 L239.41,533.71 L239.63,537.61 L239.85,529.19 L240.07,543.18 L240.29,540.88 L240.51,526.7 L240.73,526.73 L240.95,540.93 L241.17,539.19 L241.39,539.95 L241.61,541.78 L241.83,539.7 L242.05,539.93 L242.27,528.59 L242.49,527.13 L242.71,541.98 L242.93,527.02 L243.15,540.07 L243.37,542.6 L243.59,526.15 L243.81,526.29 L244.03,533.48 L244.25,533.4 L244.47,525.91 L244.69,535.72 L244.91,525.23 L245.13,531.71 L245.35,545.56 L245.57,546.22 L245.79,543.62 L246.01,528.3 L246.23,525.15 L246.45,537.83 L246.67,533.14 L246.89,534.54 L247.11,550.36 L247.33,547.99 L247.55,546.73 L247.77,547.09 L247.99,547.36 L248.21,547.74 L248.43,539.95 L248.65,542.37 L248.87,550.08 L249.09,550.33 L249.31,547.1 L249.53,550.99 L249.75,553.19 L249.97,554.17 L250.19,553.08 L250.41,554.81 L250.63,553.74 L250.85,544.38 L251.07,545.7 L251.29,547.51 L251.51,548.99 L251.73,545.22 L251.95,548.5 L252.17,545.71 L252.39,554.56 L252.61,561.87 L252.83,563.92 L253.05,561.6 L253.27,563.59 L253.49,560.84 L253.71,561.96 L253.93,559.95 L254.15,560.27 L254.37,561.53 L254.59,559.45 L254.81,551.74 L255.03,560.29 L255.25,557.78 L255.47,556.65 L255.69,556.69 L255.91,559.26 L256.13,558.12 L256.35,555.06 L256.57,555.25 L256.79,554.7 L257.01,555.83 L257.23,557.05 L257.45,555.21 L257.67,557.7 L257.89,554.65 L258.11,556.19 L258.33,556.82 L258.55,556.08 L258.77,538.29 L258.99,554.54 L259.21,554.68 L259.43,555.62 L259.65,557.86 L259.87,558.35 L260.09,557.11 L260.31,542.42 L260.53,537.04 L260.75,545.93 L260.97,541.14 L261.19,556.23 L261.41,557.44 L261.63,558.16 L261.85,549.22 L262.07,559.68 L262.29,547.36 L262.51,548.41 L262.73,553.24 L262.95,561.02 L263.17,559.92 L263.39,559.36 L263.61,562.4 L263.83,561.73 L264.05,561.71 L264.27,562.67 L264.49,561.28 L264.71,561.09 L264.93,561.7 L265.15,560.8 L265.37,556.05 L265.59,559.44 L265.81,555.96 L266.03,558.69 L266.25,558.36 L266.47,557.75 L266.69,558.15 L266.91,558.62 L267.13,559.15 L267.35,559.52 L267.57,559.63 L267.79,560.14 L268.01,559.68 L268.23,559.9 L268.45,561.62 L268.67,561.3 L268.89,560.75 L269.11,563.13 L269.33,557.38 L269.55,549.45 L269.77,562.17 L269.99,558.01 L270.21,557.5 L270.43,543.46 L270.65,552.7 L270.87,547.12 L271.09,540.61 L271.31,540.56 L271.53,543.67 L271.75,543.48 L271.97,543.13 L272.19,542.13 L272.41,540.45 L272.63,541.45 L272.85,538.64 L273.07,538.12 L273.29,537.58 L273.51,537.8 L273.73,536.49 L273.95,535.57 L274.17,535.37 L274.39,536.02 L274.61,536.13 L274.83,535.25 L275.05,535.69 L275.27,535.17 L275.49,533.15 L275.71,534.36 L275.93,533.91 L276.15,535.25 L276.37,536.06 L276.59,537.13 L276.81,538.09 L277.03,536.86 L277.25,538.3 L277.47,539.51 L277.69,537.27 L277.91,538.69 L278.13,541.2 L278.35,541.8 L278.57,541.11 L278.79,542.02 L279.01,541.19 L279.23,540.01 L279.45,540.42 L279.67,542.56 L279.89,544.1 L280.11,542.93 L280.33,543.53 L280.55,544.12 L280.77,542.98 L280.99,543.26 L281.21,545.4 L281.43,544.03 L281.65,544.56 L281.87,547.16 L282.09,546.14 L282.31,546.25 L282.53,546.28 L282.75,546.91 L282.97,554.09 L283.19,555.45 L283.41,555.32 L283.63,556.06 L283.85,555.63 L284.07,555.07 L284.29,553.94 L284.51,552.61 L284.73,551.61 L284.95,551.59 L285.17,551.74 L285.39,552.15 L285.61,553.11 L285.83,553.57 L286.05,548.92 L286.27,549.42 L286.49,550 L286.71,554.82 L286.93,554.85 L287.15,554.73 L287.37,552.69 L287.59,552.95 L287.81,552.01 L288.03,550.75 L288.25,550.32 L288.47,549.23 L288.69,548.37 L288.91,547.74 L289.13,547.74 L289.35,549.05 L289.57,550.31 L289.79,551.46 L290.01,552.63 L290.23,554.15 L290.45,555.23 L290.67,556.66 L290.89,557.08 L291.11,559.01 L291.33,558.72 L291.55,557.53 L291.77,557.77 L291.99,556.3 L292.21,556.52 L292.43,554.61 L292.65,555.01 L292.87,553.96 L293.09,553.09 L293.31,552.48 L293.53,551.79 L293.75,551.72 L293.97,551.63 L294.19,551.25 L294.41,550.66 L294.63,550.3 L294.85,549.02 L295.07,549.46 L295.29,549.46 L295.51,548.83 L295.73,550 L295.95,550.67 L296.17,551.56 L296.39,552.97 L296.61,552.73 L296.83,554.07 L297.05,554.56 L297.27,556.44 L297.49,556.68 L297.71,558.33 L297.93,559.16 L298.15,560.51 L298.37,560.91 L298.59,563.45 L298.81,563.94 L299.03,565.52 L299.25,555.19 L299.47,563.94 L299.69,568.84 L299.91,570.28 L300.13,569 L300.35,570.41 L300.57,569.49 L300.79,568.77 L301.01,570.22 L301.23,570.46 L301.45,569.89 L301.67,569.88 L301.89,569.51 L302.11,569.83 L302.33,569.2 L302.55,569.34 L302.77,569.02 L302.99,569.23 L303.21,569.09 L303.43,568.45 L303.65,568.53 L303.87,567.39 L304.09,567.7 L304.31,567.4 L304.53,566.76 L304.75,566.08 L304.97,566.36 L305.19,565.45 L305.41,565.23 L305.63,562.97 L305.85,563.56 L306.07,564.54 L306.29,564.32 L306.51,564.2 L306.73,564.31 L306.95,564.48 L307.17,564.83 L307.39,564.93 L307.61,565.03 L307.83,565.2 L308.05,565.32 L308.27,565.43 L308.49,565.87 L308.71,566.64 L308.93,567.41 L309.15,568.15 L309.37,568.94 L309.59,569.67 L309.81,570.37 L310.03,571.26 L310.25,572.01 L310.47,572.72 L310.69,573.48 L310.91,574.09 L311.13,574.77 L311.35,575.34 L311.57,576.04 L311.79,576.72 L312.01,577.41 L312.23,577.93 L312.45,578.54 L312.67,579.36 L312.89,579.35 L313.11,578.56 L313.33,578.98 L313.55,579.85 L313.77,580.12 L313.99,580.16 L314.21,580.16 L314.43,580.31 L314.65,578.6 L314.87,579.31 L315.09,578.6 L315.31,578.71 L315.53,579.22 L315.75,578.68 L315.97,579.93 L316.19,579.63 L316.41,580.34 L316.63,579.05 L316.85,580.68 L317.07,579.54 L317.29,579.41 L317.51,579.63 L317.73,578.92 L317.95,579 L318.17,578.84 L318.39,578.93 L318.61,579.78 L318.83,579.65 L319.05,579.38 L319.27,579.55 L319.49,579.67 L319.71,579.91 L319.93,579.79 L320.15,579.98 L320.37,580.18 L320.59,580.42 L320.81,580.68 L321.03,580.95 L321.25,581.08 L321.47,581.28 L321.69,581.59 L321.91,581.71 L322.13,581.95 L322.35,582.14 L322.57,582.25 L322.79,582.36 L323.01,582.47 L323.23,582.58 L323.45,582.69 L323.67,582.8 L323.89,582.91 L324.11,583.02 L324.33,583.13 L324.55,583.24 L324.77,583.35 L324.99,583.46 L325.21,583.57 L325.43,583.68 L325.65,583.79 L325.87,583.9 L326.09,584.01 L326.31,584.12 L326.53,584.23 L326.75,584.34 L326.97,584.45 L327.19,584.56 L327.41,584.67 L327.63,584.78 L327.85,584.89 L328.07,585 L328.29,585.11 L328.51,585.22 L328.73,585.33 L328.95,585.37 L329.17,585.39 L329.39,585.4 L329.61,585.42 L329.83,585.44 L330.05,585.45 L330.27,585.47 L330.49,585.48 L330.71,585.5 L330.93,585.51 L331.15,585.53 L331.37,585.55 L331.59,585.56 L331.81,585.58 L332.03,585.59 L332.25,585.61 L332.47,585.62 L332.69,585.64 L332.91,585.66 L333.13,585.67 L333.35,585.69 L333.57,585.7 L333.79,585.72 L334.01,585.73 L334.23,585.75 L334.45,585.77 L334.67,585.78 L334.89,585.8 L335.11,585.81 L335.33,585.83 L335.55,585.84 L335.77,585.86 L335.99,585.88 L336.21,585.89 L336.43,585.9 L336.65,585.91 L336.87,585.91 L337.09,585.92 L337.31,585.93 L337.53,585.93 L337.75,585.94 L337.97,585.95 L338.19,585.95 L338.41,585.96 L338.63,585.96 L338.85,585.97 L339.07,585.98 L339.29,585.98 L339.51,585.99 L339.73,586 L339.95,586 L340.17,586.01 L340.39,586.01 L340.61,586.02 L340.83,586.03 L341.05,586.03 L341.27,586.04 L341.49,586.05 L341.71,586.05 L341.93,586.06 L342.15,586.07 L342.37,586.07 L342.59,586.08 L342.81,586.08 L343.03,586.09 L343.25,586.1 L343.47,586.1 L343.69,586.11 L343.83,586.3Z" fill="#000" stroke="none"/>
<path d="M428.22,586.3 L428.22,586.11 L428.44,586.09 L428.66,586.07 L428.88,586.05 L429.1,586.03 L429.32,586 L429.54,585.98 L429.76,585.96 L429.98,585.94 L430.2,585.92 L430.42,585.89 L430.64,585.87 L430.86,585.85 L431.08,585.83 L431.3,585.81 L431.52,585.78 L431.74,585.76 L431.96,585.74 L432.18,585.72 L432.4,585.7 L432.62,585.67 L432.84,585.65 L433.06,585.63 L433.28,585.61 L433.5,585.59 L433.72,585.56 L433.94,585.54 L434.16,585.52 L434.38,585.5 L434.6,585.48 L434.82,585.45 L435.04,585.43 L435.26,585.41 L435.48,585.39 L435.7,585.37 L435.92,585.34 L436.14,585.32 L436.36,585.3 L436.58,585.28 L436.8,585.26 L437.02,585.23 L437.24,585.21 L437.46,585.19 L437.68,585.17 L437.9,585.15 L438.12,585.12 L438.34,585.1 L438.56,585.08 L438.78,585.06 L439,585.04 L439.22,585.01 L439.44,584.99 L439.66,584.97 L439.88,584.95 L440.1,584.93 L440.32,584.9 L440.54,584.88 L440.76,584.86 L440.98,584.84 L441.2,584.78 L441.42,584.61 L441.64,584.17 L441.86,583.91 L442.08,584.38 L442.3,584.26 L442.52,583.67 L442.74,583.36 L442.96,582.54 L443.18,582.96 L443.4,582.52 L443.62,581.99 L443.84,581.75 L444.06,583.39 L444.28,583.66 L444.5,583.72 L444.72,583.65 L444.94,583.17 L445.16,580.8 L445.38,581.92 L445.6,580.73 L445.82,580.6 L446.04,583.54 L446.26,583.53 L446.48,580.9 L446.7,579.94 L446.92,580.09 L447.14,580.23 L447.36,580.12 L447.58,580.57 L447.8,580.56 L448.02,580.35 L448.24,583.53 L448.46,582.98 L448.68,583.3 L448.9,583.54 L449.12,583.38 L449.34,583.05 L449.56,583.68 L449.78,583.66 L450,583.53 L450.22,582.92 L450.44,583.41 L450.66,583.25 L450.88,583.27 L451.1,583.02 L451.32,583.06 L451.54,582.51 L451.76,582.72 L451.98,582.57 L452.2,582.4 L452.42,582.26 L452.64,581.88 L452.86,579.18 L453.08,580.93 L453.3,579.05 L453.52,579.03 L453.74,579.49 L453.96,579.25 L454.18,579.71 L454.4,581.09 L454.62,581.11 L454.84,580.81 L455.06,580.43 L455.28,580.49 L455.5,580.37 L455.72,580.24 L455.94,580.13 L456.16,580 L456.38,579.85 L456.6,579.2 L456.82,579.47 L457.04,578.57 L457.26,578.23 L457.48,576.63 L457.7,576.64 L457.92,572.03 L458.14,574.65 L458.36,573.37 L458.58,571.6 L458.8,571.15 L459.02,570.26 L459.24,560.81 L459.46,560.52 L459.68,561.29 L459.9,566.36 L460.12,567.96 L460.34,561.03 L460.56,559.51 L460.78,564.6 L461,564.84 L461.22,570.7 L461.44,569.87 L461.66,570.37 L461.88,571.94 L462.1,571.39 L462.32,572.41 L462.54,572.9 L462.76,572.98 L462.98,573.48 L463.2,574.18 L463.42,574.27 L463.64,574.44 L463.86,574.22 L464.08,574.18 L464.3,575.33 L464.52,575.52 L464.74,575.74 L464.96,576.03 L465.18,575.57 L465.4,575.01 L465.62,575.59 L465.84,574.77 L466.06,575.8 L466.28,575.72 L466.5,574.52 L466.72,573.66 L466.94,569.47 L467.16,574.76 L467.38,573.98 L467.6,575.37 L467.82,575.48 L468.04,575.86 L468.26,575.14 L468.48,575.58 L468.7,574.48 L468.92,574.71 L469.14,574.6 L469.36,574.4 L469.58,574.54 L469.8,574.23 L470.02,572.31 L470.24,573.24 L470.46,572.41 L470.68,572.71 L470.9,571.05 L471.12,571.27 L471.34,572.25 L471.56,570.65 L471.78,569.58 L472,574.48 L472.22,574.08 L472.44,570.29 L472.66,569.53 L472.88,569.77 L473.1,570.58 L473.32,569.8 L473.54,569.14 L473.76,573.58 L473.98,573.41 L474.2,572.68 L474.42,572 L474.64,570.27 L474.86,569.99 L475.08,567.77 L475.3,566.09 L475.52,568.47 L475.74,567.78 L475.96,567.65 L476.18,568.22 L476.4,568.03 L476.62,567.58 L476.84,567.58 L477.06,568.62 L477.28,567.5 L477.5,568.52 L477.72,567.77 L477.94,567.78 L478.16,568.28 L478.38,568.47 L478.6,568.42 L478.82,563.94 L479.04,561.68 L479.26,562.08 L479.48,561.41 L479.7,558.81 L479.92,559.93 L480.14,560.57 L480.36,558.97 L480.58,560.84 L480.8,565.26 L481.02,564.47 L481.24,555.14 L481.46,555.79 L481.68,560.88 L481.9,559.4 L482.12,566.48 L482.34,567.36 L482.56,567.7 L482.78,567.33 L483,568.04 L483.22,567.92 L483.44,568.44 L483.66,565.21 L483.88,559.65 L484.1,553.96 L484.32,548.21 L484.54,542.77 L484.76,539.02 L484.98,539.02 L485.2,531.75 L485.42,533.47 L485.64,535.71 L485.86,535.35 L486.08,529.51 L486.3,534.56 L486.52,535.34 L486.74,526.23 L486.96,524.95 L487.18,523.87 L487.4,537.47 L487.62,525.12 L487.84,521.57 L488.06,521.65 L488.28,520.49 L488.5,528.03 L488.72,523.41 L488.94,530.47 L489.16,521.77 L489.38,522.81 L489.6,525.84 L489.82,526.64 L490.04,523.52 L490.26,528.97 L490.48,529.53 L490.7,518.47 L490.92,518.71 L491.14,533.25 L491.36,547.95 L491.58,542.98 L491.8,546.16 L492.02,546.64 L492.24,546.23 L492.46,541.38 L492.68,543.51 L492.9,517.74 L493.12,535.51 L493.34,532.55 L493.56,531.02 L493.78,530.22 L494,531.09 L494.22,534.23 L494.44,531.72 L494.66,533.43 L494.88,524.28 L495.1,522.99 L495.32,532.45 L495.54,538.37 L495.76,541.46 L495.98,541.47 L496.2,542.3 L496.42,548.45 L496.64,548.83 L496.86,550.23 L497.08,548.98 L497.3,544.97 L497.52,547.01 L497.74,541.77 L497.96,542.25 L498.18,538.49 L498.4,521.12 L498.62,524.85 L498.84,522.1 L499.06,536.69 L499.28,535.75 L499.5,537.22 L499.72,535.54 L499.94,524.17 L500.16,528.14 L500.38,533.51 L500.6,528.33 L500.82,524.66 L501.04,530.74 L501.26,528.41 L501.48,534.31 L501.7,536.95 L501.92,534.8 L502.14,525.56 L502.36,534.29 L502.58,531.25 L502.8,531.89 L503.02,528.92 L503.24,528.62 L503.46,526.76 L503.68,527.68 L503.9,527.44 L504.12,527.85 L504.34,527.64 L504.56,527.76 L504.78,527.76 L505,526.95 L505.22,524.77 L505.44,525.19 L505.66,527.61 L505.88,525.81 L506.1,524.94 L506.32,526.3 L506.54,526.52 L506.76,525.39 L506.98,527.62 L507.2,527.98 L507.42,526.59 L507.64,527.74 L507.86,526.76 L508.08,526.55 L508.3,527.75 L508.52,529.18 L508.74,527.23 L508.96,529.55 L509.18,529.6 L509.4,529.31 L509.62,529.43 L509.84,529.53 L510.06,529.31 L510.28,529.4 L510.5,529.52 L510.72,529.41 L510.94,529.22 L511.16,528.94 L511.38,528.48 L511.6,528.27 L511.82,528.16 L512.04,528.25 L512.26,526.73 L512.48,526.36 L512.7,525.56 L512.92,528.59 L513.14,526.52 L513.36,524.14 L513.58,524.89 L513.8,523.28 L514.02,523.44 L514.24,525.39 L514.46,522.35 L514.68,521.8 L514.9,521.53 L515.12,525.67 L515.34,520.18 L515.56,527.69 L515.78,526.9 L516,519.8 L516.22,520.95 L516.44,518.95 L516.66,517.96 L516.88,517.09 L517.1,522.15 L517.32,517.07 L517.54,519.74 L517.76,517.04 L517.98,516.55 L518.2,521.42 L518.42,525.97 L518.64,525.3 L518.86,534.99 L519.08,535.11 L519.3,535.15 L519.52,519.86 L519.74,525.73 L519.96,522.75 L520.18,527.86 L520.4,534.2 L520.62,531.07 L520.84,529.78 L521.06,527.2 L521.28,525.1 L521.5,524.59 L521.72,523.36 L521.94,527.68 L522.16,530.07 L522.38,534.44 L522.6,538.85 L522.82,538.8 L523.04,542.61 L523.26,547.16 L523.48,552.54 L523.7,551.79 L523.92,529.72 L524.14,526.4 L524.36,551.01 L524.58,555.78 L524.8,551.49 L525.02,553.2 L525.24,553.68 L525.46,547.73 L525.68,553.52 L525.9,549.14 L526.12,549.91 L526.34,551.63 L526.56,549.49 L526.78,529.65 L527,540.37 L527.22,556.1 L527.44,543.25 L527.66,543.11 L527.88,558.25 L528.1,557.22 L528.32,551.41 L528.54,548.61 L528.76,538.09 L528.98,530.51 L529.2,532.8 L529.42,526.43 L529.64,528.67 L529.86,526.5 L530.08,523.29 L530.3,522.1 L530.52,528.6 L530.74,527.53 L530.96,526.69 L531.18,525.23 L531.4,524.52 L531.62,524.64 L531.84,524.67 L532.06,523.44 L532.28,523.71 L532.5,520.61 L532.72,523.13 L532.94,516.77 L533.16,523.53 L533.38,523.61 L533.6,518.12 L533.82,518.66 L534.04,521.34 L534.26,524.91 L534.48,523.93 L534.7,522.94 L534.92,523.66 L535.14,521.53 L535.36,523.73 L535.58,524.17 L535.8,524.8 L536.02,525.98 L536.24,524.47 L536.46,528.98 L536.68,536.38 L536.9,537.74 L537.12,535.71 L537.34,543.28 L537.56,546.54 L537.78,556.59 L538,555.24 L538.22,551.3 L538.44,559.57 L538.66,564.58 L538.88,566.47 L539.1,566.08 L539.32,567.25 L539.54,569.16 L539.76,570.16 L539.98,571.29 L540.2,572.02 L540.42,566.97 L540.64,571.25 L540.86,574.55 L541.08,573.96 L541.3,574.47 L541.52,573.31 L541.74,573.44 L541.96,572.88 L542.18,573.67 L542.4,572.53 L542.62,572.43 L542.84,572.78 L543.06,572.52 L543.28,572.39 L543.5,572.08 L543.72,571.82 L543.94,571.63 L544.16,571.85 L544.38,571.53 L544.6,569.37 L544.82,570.2 L545.04,571.63 L545.26,569.21 L545.48,569.85 L545.7,571.96 L545.92,572.42 L546.14,572.16 L546.36,572.61 L546.58,572.3 L546.8,571.82 L547.02,570.99 L547.24,571.74 L547.46,567.14 L547.68,556.62 L547.9,553.46 L548.12,547.27 L548.34,554.42 L548.56,549.5 L548.78,541.98 L549,544.2 L549.22,539.85 L549.44,537.97 L549.66,533.34 L549.88,520.35 L550.1,519.74 L550.32,520.63 L550.54,522.49 L550.76,526.2 L550.98,526.91 L551.2,528.4 L551.42,522.37 L551.64,522.11 L551.86,524.76 L552.08,528.54 L552.3,524.61 L552.52,529.16 L552.74,523.78 L552.96,524.95 L553.18,529.62 L553.4,527.47 L553.62,533.91 L553.84,527.58 L554.06,527.77 L554.28,526.26 L554.5,530.42 L554.72,527.28 L554.94,529.73 L555.16,532.24 L555.38,533.32 L555.6,535.58 L555.82,535.22 L556.04,530.16 L556.26,534.92 L556.48,548.28 L556.7,547.04 L556.92,556.09 L557.14,532.16 L557.36,551.13 L557.58,545.54 L557.8,546.18 L558.02,545.69 L558.24,548.4 L558.46,552.47 L558.68,549.86 L558.9,535.01 L559.12,543.49 L559.34,540.33 L559.56,537.12 L559.78,548.31 L560,544.2 L560.22,549.29 L560.44,567.09 L560.66,566.47 L560.88,568.46 L561.1,569.21 L561.32,569.62 L561.54,569.22 L561.76,568.35 L561.98,569.75 L562.2,553.83 L562.42,569.4 L562.64,560.68 L562.86,556.91 L563.08,562.34 L563.3,562.22 L563.52,565.12 L563.74,570.59 L563.96,569.32 L564.18,569.37 L564.4,570.02 L564.62,570.05 L564.84,568.63 L565.06,569.3 L565.28,568.44 L565.5,566.92 L565.72,567.08 L565.94,568.24 L566.16,568.41 L566.38,568.83 L566.6,567.8 L566.82,567.82 L567.04,568.52 L567.26,567.91 L567.48,570.78 L567.7,570.61 L567.92,570.77 L568.14,571.46 L568.36,571.04 L568.58,571.83 L568.8,571.76 L569.02,571.17 L569.24,568.42 L569.46,566.58 L569.68,569.31 L569.9,566.56 L570.12,569.02 L570.34,566.62 L570.56,565.29 L570.78,568.09 L571,561.63 L571.22,562.12 L571.44,569.77 L571.66,569.51 L571.88,558.05 L572.1,561.07 L572.32,564.82 L572.54,570 L572.76,569.41 L572.98,568.81 L573.2,568.71 L573.42,567.42 L573.64,568.55 L573.86,567.83 L574.08,566.88 L574.3,568.46 L574.52,566.83 L574.74,554.81 L574.96,553.97 L575.18,568.57 L575.4,568.86 L575.62,565.97 L575.84,568.84 L576.06,567.06 L576.28,569.28 L576.5,569.08 L576.72,553.85 L576.94,558.89 L577.16,568.46 L577.38,556.19 L577.6,570.47 L577.82,563.09 L578.04,564.71 L578.26,559.96 L578.48,563.23 L578.7,560.57 L578.92,569.72 L579.14,569.55 L579.36,571.02 L579.58,571.14 L579.8,570.96 L580.02,570.29 L580.24,570.83 L580.46,570.99 L580.68,572.24 L580.9,572.27 L581.12,573.22 L581.34,573.92 L581.56,573.91 L581.78,574.64 L582,574.19 L582.22,573.57 L582.44,575.59 L582.66,575.32 L582.88,575.8 L583.1,575.64 L583.32,575.74 L583.54,577.34 L583.76,577.7 L583.98,577.77 L584.2,575.71 L584.42,576.97 L584.64,577.96 L584.86,577.94 L585.08,578.18 L585.3,577.91 L585.52,578.04 L585.74,577.59 L585.96,577.84 L586.18,577.66 L586.4,577.67 L586.62,577.66 L586.84,577.55 L587.06,577.6 L587.28,577.38 L587.5,576.77 L587.72,576.94 L587.94,576.22 L588.16,576.52 L588.38,576.62 L588.6,577.24 L588.82,576.54 L589.04,576.54 L589.26,577.21 L589.48,577.03 L589.7,577.12 L589.92,577.24 L590.14,577.62 L590.36,577.86 L590.58,577.86 L590.8,577.41 L591.02,577.14 L591.24,577.39 L591.46,577.62 L591.68,577.57 L591.9,578.08 L592.12,578.18 L592.34,578.29 L592.56,578.36 L592.78,578.63 L593,578.82 L593.22,578.87 L593.44,579.1 L593.66,579.31 L593.88,579.52 L594.1,579.61 L594.32,579.68 L594.54,580.01 L594.76,580.01 L594.98,579.73 L595.2,579.74 L595.42,580.65 L595.64,580.82 L595.86,580.83 L596.08,580.22 L596.3,580.54 L596.52,580.73 L596.74,581.58 L596.96,581.78 L597.18,581.24 L597.4,581.59 L597.62,582.11 L597.84,582.35 L598.06,582.44 L598.28,582.64 L598.5,582.84 L598.72,582.92 L598.94,583.12 L599.16,583.21 L599.38,583.43 L599.6,583.6 L599.82,583.66 L600.04,583.57 L600.26,583.53 L600.48,583.4 L600.7,583.35 L600.92,583.3 L601.14,583.23 L601.36,583.15 L601.58,582.99 L601.8,582.91 L602.02,582.81 L602.24,582.81 L602.46,582.65 L602.68,582.61 L602.9,582.48 L603.12,582.47 L603.34,582.37 L603.56,582.26 L603.78,582.18 L604,582.13 L604.22,582.18 L604.44,582.28 L604.66,582.48 L604.88,582.32 L605.1,582.44 L605.32,582.87 L605.54,583.07 L605.76,583.19 L605.98,583.36 L606.2,583.5 L606.42,583.64 L606.64,583.81 L606.86,583.96 L607.08,584.11 L607.3,584.26 L607.52,584.33 L607.74,584.39 L607.96,584.44 L608.18,584.5 L608.4,584.55 L608.62,584.61 L608.84,584.66 L609.06,584.72 L609.28,584.77 L609.5,584.83 L609.72,584.88 L609.94,584.94 L610.16,584.99 L610.38,585.05 L610.6,585.1 L610.82,585.16 L611.04,585.21 L611.26,585.27 L611.48,585.32 L611.7,585.36 L611.92,585.38 L612.14,585.39 L612.36,585.4 L612.58,585.42 L612.8,585.43 L613.02,585.44 L613.24,585.45 L613.46,585.47 L613.68,585.48 L613.9,585.49 L614.12,585.51 L614.34,585.52 L614.56,585.53 L614.78,585.54 L615,585.56 L615.22,585.57 L615.44,585.58 L615.66,585.6 L615.88,585.61 L616.1,585.62 L616.32,585.63 L616.54,585.65 L616.76,585.66 L616.98,585.67 L617.2,585.69 L617.42,585.7 L617.64,585.71 L617.86,585.72 L618.08,585.74 L618.3,585.75 L618.52,585.76 L618.74,585.78 L618.96,585.79 L619.18,585.8 L619.4,585.81 L619.62,585.83 L619.84,585.84 L620.06,585.85 L620.28,585.87 L620.5,585.88 L620.72,585.89 L620.94,585.9 L621.16,585.92 L621.38,585.93 L621.6,585.94 L621.82,585.96 L622.04,585.97 L622.26,585.98 L622.48,585.99 L622.7,586.01 L622.92,586.02 L623.14,586.03 L623.36,586.05 L623.58,586.06 L623.8,586.07 L624.02,586.08 L624.24,586.1 L624.46,586.11 L624.53,586.3Z" fill="#000" stroke="none"/>
<path d="M711.23,586.3 L711.23,586.16 L711.45,586.14 L711.67,586.11 L711.89,586.08 L712.11,586.06 L712.33,586.03 L712.55,586.01 L712.77,585.98 L712.99,585.95 L713.21,585.93 L713.43,585.9 L713.65,585.87 L713.87,585.85 L714.09,585.82 L714.31,585.79 L714.53,585.77 L714.75,585.74 L714.97,585.72 L715.19,585.69 L715.41,585.66 L715.63,585.64 L715.85,585.61 L716.07,585.58 L716.29,585.56 L716.51,585.53 L716.73,585.5 L716.95,585.48 L717.17,585.45 L717.39,585.42 L717.61,585.4 L717.83,585.37 L718.05,585.35 L718.27,585.32 L718.49,585.29 L718.71,585.27 L718.93,585.24 L719.15,585.21 L719.37,585.19 L719.59,585.16 L719.81,585.13 L720.03,585.11 L720.25,585.08 L720.47,585.06 L720.69,585.03 L720.91,585 L721.13,584.98 L721.35,584.95 L721.57,584.92 L721.79,584.9 L722.01,584.87 L722.23,584.84 L722.45,584.82 L722.67,584.77 L722.89,584.73 L723.11,584.69 L723.33,584.64 L723.55,584.6 L723.77,584.55 L723.99,584.51 L724.21,584.47 L724.43,584.42 L724.65,584.38 L724.87,584.33 L725.09,584.29 L725.31,584.25 L725.53,584.2 L725.75,584.16 L725.97,584.11 L726.19,584.07 L726.41,584.03 L726.63,583.98 L726.85,583.94 L727.07,583.89 L727.29,583.85 L727.51,583.81 L727.73,583.76 L727.95,583.72 L728.17,583.67 L728.39,583.63 L728.61,583.59 L728.83,583.54 L729.05,583.5 L729.27,583.45 L729.49,583.41 L729.71,583.37 L729.93,583.32 L730.15,583.28 L730.37,583.23 L730.59,583.19 L730.81,583.15 L731.03,583.1 L731.25,583.06 L731.47,583.01 L731.69,582.97 L731.91,582.93 L732.13,582.88 L732.35,582.84 L732.57,582.79 L732.79,582.75 L733.01,582.71 L733.23,582.66 L733.45,582.62 L733.67,582.57 L733.89,582.51 L734.11,582.45 L734.33,582.39 L734.55,582.33 L734.77,582.27 L734.99,582.21 L735.21,582.14 L735.43,582.08 L735.65,582.02 L735.87,581.96 L736.09,581.9 L736.31,581.84 L736.53,581.78 L736.75,581.71 L736.97,581.65 L737.19,581.59 L737.41,581.53 L737.63,581.47 L737.85,581.41 L738.07,581.34 L738.29,581.28 L738.51,581.22 L738.73,581.16 L738.95,581.1 L739.17,581.04 L739.39,580.97 L739.61,580.91 L739.83,580.85 L740.05,580.79 L740.27,580.73 L740.49,580.67 L740.71,580.6 L740.93,580.54 L741.15,580.48 L741.37,580.42 L741.59,580.36 L741.81,580.3 L742.03,580.24 L742.25,580.17 L742.47,580.11 L742.69,580.05 L742.91,579.99 L743.13,579.93 L743.35,579.87 L743.57,579.8 L743.79,579.74 L744.01,579.68 L744.23,579.62 L744.45,579.56 L744.67,579.5 L744.89,579.43 L745.11,579.46 L745.33,579.5 L745.55,579.54 L745.77,579.57 L745.99,579.61 L746.21,579.65 L746.43,579.69 L746.65,579.73 L746.87,579.77 L747.09,579.81 L747.31,579.84 L747.53,579.88 L747.75,579.92 L747.97,579.96 L748.19,580 L748.41,580.04 L748.63,580.07 L748.85,580.11 L749.07,580.15 L749.29,580.19 L749.51,580.23 L749.73,580.27 L749.95,580.31 L750.17,580.34 L750.39,580.38 L750.61,580.42 L750.83,580.46 L751.05,580.5 L751.27,580.54 L751.49,580.58 L751.71,580.61 L751.93,580.65 L752.15,580.69 L752.37,580.73 L752.59,580.77 L752.81,580.81 L753.03,580.84 L753.25,580.88 L753.47,580.92 L753.69,580.96 L753.91,581 L754.13,580.97 L754.35,580.94 L754.57,580.92 L754.79,580.89 L755.01,580.86 L755.23,580.83 L755.45,580.81 L755.67,580.78 L755.89,580.75 L756.11,580.72 L756.33,580.7 L756.55,580.67 L756.77,580.64 L756.99,580.61 L757.21,580.59 L757.43,580.56 L757.65,580.53 L757.87,580.5 L758.09,580.48 L758.31,580.45 L758.53,580.42 L758.75,580.39 L758.97,580.37 L759.19,580.34 L759.41,580.31 L759.63,580.28 L759.85,580.26 L760.07,580.23 L760.29,580.2 L760.51,580.17 L760.73,580.15 L760.95,580.12 L761.17,580.09 L761.39,580.06 L761.61,580.04 L761.83,580.01 L762.05,579.98 L762.27,579.95 L762.49,579.93 L762.71,579.9 L762.93,579.86 L763.15,579.77 L763.37,579.68 L763.59,579.6 L763.81,579.51 L764.03,579.42 L764.25,579.33 L764.47,579.24 L764.69,579.16 L764.91,579.07 L765.13,578.98 L765.35,578.89 L765.57,578.8 L765.79,578.72 L766.01,578.63 L766.23,578.54 L766.45,578.45 L766.67,578.36 L766.89,578.28 L767.11,578.19 L767.33,578.1 L767.55,577.96 L767.77,577.79 L767.99,577.63 L768.21,577.47 L768.43,577.31 L768.65,577.15 L768.87,576.99 L769.09,576.83 L769.31,576.66 L769.53,576.5 L769.75,576.34 L769.97,576.18 L770.19,576.02 L770.41,575.86 L770.63,575.7 L770.85,575.54 L771.07,575.37 L771.29,575.21 L771.51,575.05 L771.73,574.89 L771.95,574.73 L772.17,574.57 L772.39,574.41 L772.61,574.24 L772.83,574.08 L773.05,573.92 L773.27,573.76 L773.49,573.6 L773.71,573.44 L773.93,573.28 L774.15,573.13 L774.37,573.05 L774.59,572.98 L774.81,572.91 L775.03,572.83 L775.25,572.76 L775.47,572.69 L775.69,572.61 L775.91,572.54 L776.13,572.47 L776.35,572.39 L776.57,572.32 L776.79,572.25 L777.01,572.17 L777.23,572.1 L777.45,572.03 L777.67,572.2 L777.89,572.42 L778.11,572.64 L778.33,572.87 L778.55,573.09 L778.77,573.32 L778.99,573.54 L779.21,573.76 L779.43,573.99 L779.65,574.21 L779.87,574.43 L780.09,574.66 L780.31,574.88 L780.53,575.1 L780.75,575.33 L780.97,575.55 L781.19,575.78 L781.41,576 L781.63,576.22 L781.85,576.45 L782.07,576.67 L782.29,576.89 L782.51,577.12 L782.73,577.34 L782.95,577.57 L783.17,577.79 L783.39,577.65 L783.61,577.41 L783.83,577.16 L784.05,576.91 L784.27,576.66 L784.49,576.42 L784.71,576.17 L784.93,575.92 L785.15,575.67 L785.37,575.43 L785.59,575.18 L785.81,574.93 L786.03,574.68 L786.25,574.44 L786.47,574.19 L786.69,573.94 L786.91,573.69 L787.13,573.45 L787.35,573.2 L787.57,572.82 L787.79,572.01 L788.01,571.21 L788.23,570.4 L788.45,569.59 L788.67,568.79 L788.89,567.98 L789.11,567.17 L789.33,566.37 L789.55,565.56 L789.77,564.75 L789.99,563.95 L790.21,563.14 L790.43,562.33 L790.65,561.53 L790.87,560.93 L791.09,560.49 L791.31,560.05 L791.53,559.61 L791.75,559.17 L791.97,558.73 L792.19,558.29 L792.41,557.85 L792.63,557.41 L792.85,556.97 L793.07,556.53 L793.29,556.09 L793.51,555.94 L793.73,556.27 L793.95,556.6 L794.17,556.93 L794.39,557.26 L794.61,557.59 L794.83,557.92 L795.05,558.25 L795.27,558.58 L795.49,558.91 L795.71,558.71 L795.93,558.16 L796.15,557.61 L796.37,557.06 L796.59,556.51 L796.81,555.96 L797.03,555.41 L797.25,554.86 L797.47,554.31 L797.69,553.76 L797.91,551.56 L798.13,549.28 L798.35,546.58 L798.57,544.6 L798.79,542.13 L799.01,536.28 L799.23,533.35 L799.45,535.94 L799.67,535.93 L799.89,536.6 L800.11,537.06 L800.33,535.79 L800.55,536.33 L800.77,534.22 L800.99,537.2 L801.21,537.35 L801.43,535.57 L801.65,539.43 L801.87,544.93 L802.09,548.67 L802.31,552.09 L802.53,555.4 L802.75,557.61 L802.97,559.66 L803.19,561.72 L803.41,563.77 L803.63,565.82 L803.85,567.88 L804.07,569.93 L804.29,570.68 L804.51,570.35 L804.73,570.02 L804.95,569.69 L805.17,569.36 L805.39,569.03 L805.61,568.7 L805.83,568.37 L806.05,568.04 L806.27,567.71 L806.49,567.73 L806.71,568.38 L806.93,568.76 L807.15,569.27 L807.37,569.5 L807.59,569.27 L807.81,570.24 L808.03,570.83 L808.25,570.94 L808.47,571.6 L808.69,570.77 L808.91,569.32 L809.13,569.73 L809.35,567.51 L809.57,567.65 L809.79,567.57 L810.01,566.79 L810.23,566.02 L810.45,565.45 L810.67,565.11 L810.89,565.73 L811.11,566.32 L811.33,566.94 L811.55,567.5 L811.77,568.36 L811.99,569.03 L812.21,569.71 L812.43,567.6 L812.65,569.32 L812.87,568.87 L813.09,568.71 L813.31,568.03 L813.53,567.6 L813.75,567.49 L813.97,567.44 L814.19,567.58 L814.41,567.28 L814.63,567.28 L814.85,567.16 L815.07,567.45 L815.29,567.93 L815.51,568.42 L815.73,568.9 L815.95,569.38 L816.17,569.87 L816.39,570.35 L816.61,570.84 L816.83,571.32 L817.05,571.8 L817.27,572.29 L817.49,572.77 L817.71,572.95 L817.93,572.84 L818.15,572.73 L818.37,572.62 L818.59,572.51 L818.81,572.4 L819.03,572.29 L819.25,572.18 L819.47,572.07 L819.69,571.96 L819.91,571.93 L820.13,571.93 L820.35,571.93 L820.57,571.93 L820.79,571.93 L821.01,571.93 L821.23,571.93 L821.45,571.93 L821.67,571.93 L821.89,571.93 L822.11,571.93 L822.33,571.93 L822.55,571.93 L822.77,571.93 L822.99,571.79 L823.21,570.43 L823.43,569 L823.65,567.04 L823.87,566.57 L824.09,564.61 L824.31,564.78 L824.53,563.35 L824.75,562.63 L824.97,561.05 L825.19,559.71 L825.41,558.6 L825.63,557.62 L825.85,558.28 L826.07,560.03 L826.29,560.57 L826.51,561.94 L826.73,563.13 L826.95,564.36 L827.17,565.3 L827.39,566.46 L827.61,567.74 L827.83,568.73 L828.05,568.91 L828.27,569.09 L828.49,569.26 L828.71,569.44 L828.93,569.61 L829.15,569.79 L829.37,569.97 L829.59,570.14 L829.81,570.32 L830.03,570.49 L830.25,570.67 L830.47,570.85 L830.69,570.33 L830.91,569.86 L831.13,565.61 L831.35,566.73 L831.57,562.14 L831.79,562.18 L832.01,558.84 L832.23,564 L832.45,554.78 L832.67,561.57 L832.89,552.72 L833.11,553.65 L833.33,554.1 L833.55,545.88 L833.77,546.4 L833.99,545.01 L834.21,549.76 L834.43,565.05 L834.65,565.07 L834.87,561.8 L835.09,566.12 L835.31,564.36 L835.53,561.3 L835.75,546.54 L835.97,561.87 L836.19,542.05 L836.41,554.57 L836.63,550.88 L836.85,544.93 L837.07,548.06 L837.29,557.19 L837.51,554.58 L837.73,558.03 L837.95,558.96 L838.17,549.17 L838.39,551.18 L838.61,549.98 L838.83,546.65 L839.05,550.81 L839.27,546.44 L839.49,545.24 L839.71,565.62 L839.93,565.73 L840.15,563.98 L840.37,561.48 L840.59,562.28 L840.81,564.47 L841.03,562.38 L841.25,560.18 L841.47,560.67 L841.69,561.67 L841.91,546.69 L842.13,549.28 L842.35,547.33 L842.57,550.84 L842.79,555.49 L843.01,554.58 L843.23,544.75 L843.45,562.49 L843.67,558.01 L843.89,560.96 L844.11,540.93 L844.33,559.44 L844.55,557.04 L844.77,559.11 L844.99,559.53 L845.21,558.25 L845.43,558.16 L845.65,561.22 L845.87,540.76 L846.09,540.93 L846.31,547.4 L846.53,553.01 L846.75,551.87 L846.97,550.16 L847.19,550.76 L847.41,560.66 L847.63,560.9 L847.85,559.83 L848.07,560.53 L848.29,561.07 L848.51,559.84 L848.73,560.92 L848.95,549.6 L849.17,548.97 L849.39,560.85 L849.61,562.49 L849.83,560.04 L850.05,562.63 L850.27,560.31 L850.49,561.67 L850.71,560.5 L850.93,563.47 L851.15,547.41 L851.37,560.2 L851.59,561.42 L851.81,561.3 L852.03,565.7 L852.25,565.89 L852.47,568.58 L852.69,560.31 L852.91,565.51 L853.13,570.15 L853.35,568.74 L853.57,572.21 L853.79,569.86 L854.01,570.2 L854.23,571.16 L854.45,570.46 L854.67,570.22 L854.89,569.95 L855.11,569.66 L855.33,570.04 L855.55,570.82 L855.77,571.36 L855.99,572.11 L856.21,572.77 L856.43,573.47 L856.65,574.11 L856.87,574.81 L857.09,575.45 L857.31,576.13 L857.53,576.18 L857.75,576.13 L857.97,576.07 L858.19,576.02 L858.41,575.96 L858.63,575.91 L858.85,575.85 L859.07,575.8 L859.29,575.74 L859.51,575.69 L859.73,575.63 L859.95,575.58 L860.17,575.52 L860.39,575.47 L860.61,575.41 L860.83,575.36 L861.05,575.3 L861.27,575.25 L861.49,575.19 L861.71,575.27 L861.93,575.64 L862.15,576.01 L862.37,576.37 L862.59,576.74 L862.81,577.11 L863.03,577.47 L863.25,577.84 L863.47,578.21 L863.69,578.57 L863.91,578.94 L864.13,579.31 L864.35,579.67 L864.57,580.04 L864.79,580.41 L865.01,580.58 L865.23,580.65 L865.45,580.72 L865.67,580.8 L865.89,580.87 L866.11,580.94 L866.33,581.02 L866.55,581.09 L866.77,581.16 L866.99,581.24 L867.21,581.31 L867.43,581.38 L867.65,581.46 L867.87,581.53 L868.09,581.61 L868.31,581.94 L868.53,582.27 L868.75,582.6 L868.97,582.93 L869.19,583.26 L869.41,583.59 L869.63,583.92 L869.85,584.25 L870.07,584.58 L870.29,584.82 L870.51,584.82 L870.73,584.82 L870.95,584.82 L871.17,584.82 L871.39,584.82 L871.61,584.82 L871.83,584.82 L872.05,584.82 L872.27,584.82 L872.49,584.82 L872.71,584.82 L872.93,584.82 L873.15,584.82 L873.37,584.82 L873.59,584.82 L873.81,584.82 L874.03,584.82 L874.25,584.82 L874.47,584.82 L874.69,584.56 L874.91,584.19 L875.13,583.83 L875.35,583.46 L875.57,583.09 L875.79,582.73 L876.01,582.36 L876.23,581.99 L876.45,581.63 L876.67,581.26 L876.89,580.89 L877.11,580.53 L877.33,580.16 L877.55,579.79 L877.77,579.45 L877.99,579.37 L878.21,579.3 L878.43,579.23 L878.65,579.15 L878.87,579.08 L879.09,579.01 L879.31,578.93 L879.53,578.86 L879.75,578.79 L879.97,578.71 L880.19,578.64 L880.41,578.57 L880.63,578.49 L880.85,578.42 L881.07,578.27 L881.29,578 L881.51,577.74 L881.73,577.47 L881.95,577.21 L882.17,576.95 L882.39,576.68 L882.61,576.42 L882.83,576.15 L883.05,575.89 L883.27,575.63 L883.49,575.36 L883.71,575.35 L883.93,576.23 L884.15,577.11 L884.37,577.99 L884.59,578.87 L884.81,579.75 L885.03,580.63 L885.25,581.51 L885.47,581.47 L885.69,581.32 L885.91,581.18 L886.13,581.03 L886.35,580.88 L886.57,580.74 L886.79,580.59 L887.01,580.44 L887.23,580.3 L887.45,580.15 L887.67,580 L887.89,579.86 L888.11,579.71 L888.33,579.56 L888.55,579.49 L888.77,579.65 L888.99,579.81 L889.21,579.96 L889.43,580.12 L889.65,580.28 L889.87,580.43 L890.09,580.57 L890.31,580.68 L890.53,580.79 L890.75,580.9 L890.97,581 L891.19,581.11 L891.41,581.22 L891.63,581.33 L891.85,581.44 L892.07,581.54 L892.29,581.65 L892.51,581.76 L892.73,581.87 L892.95,581.98 L893.17,582.13 L893.39,582.29 L893.61,582.45 L893.83,582.62 L894.05,582.78 L894.27,582.95 L894.49,583.11 L894.71,583.27 L894.93,583.44 L895.15,583.6 L895.37,583.77 L895.59,583.93 L895.81,584.09 L896.03,584.26 L896.25,584.42 L896.47,584.58 L896.69,584.75 L896.91,584.91 L897.13,585.08 L897.35,585.24 L897.57,585.4 L897.79,585.51 L898.01,585.52 L898.23,585.53 L898.45,585.54 L898.67,585.55 L898.89,585.57 L899.11,585.58 L899.33,585.59 L899.55,585.6 L899.77,585.62 L899.99,585.63 L900.21,585.64 L900.43,585.65 L900.65,585.67 L900.87,585.68 L901.09,585.69 L901.31,585.7 L901.53,585.72 L901.75,585.73 L901.97,585.74 L902.19,585.75 L902.41,585.76 L902.63,585.78 L902.85,585.79 L903.07,585.8 L903.29,585.81 L903.51,585.83 L903.73,585.84 L903.95,585.85 L904.17,585.86 L904.39,585.88 L904.61,585.89 L904.83,585.9 L905.05,585.91 L905.27,585.93 L905.49,585.94 L905.71,585.95 L905.93,585.96 L906.15,585.97 L906.37,585.99 L906.59,586 L906.6,586.3Z" fill="#000" stroke="none"/>
<rect x="88.5" y="13.6" width="847.0" height="79.7" fill="none" stroke="#000" stroke-width="1"/>
<rect x="88.5" y="96.5" width="847.0" height="79.7" fill="none" stroke="#000" stroke-width="1"/>
<rect x="88.5" y="179.2" width="847.0" height="79.5" fill="none" stroke="#000" stroke-width="1"/>
<rect x="88.5" y="261.7" width="847.0" height="79.3" fill="none" stroke="#000" stroke-width="1"/>
<rect x="88.5" y="344.3" width="847.0" height="79.6" fill="none" stroke="#000" stroke-width="1"/>
<rect x="88.5" y="426.7" width="847.0" height="79.5" fill="none" stroke="#000" stroke-width="1"/>
<rect x="88.5" y="509.3" width="847.0" height="79.7" fill="none" stroke="#000" stroke-width="1"/>
<line x1="83.5" y1="90.4" x2="88.5" y2="90.4" stroke="#000" stroke-width="1"/>
<text transform="translate(78,93.8) scale(1,1.14)" text-anchor="end" font-size="9">0</text>
<line x1="83.5" y1="77.74" x2="88.5" y2="77.74" stroke="#000" stroke-width="1"/>
<text transform="translate(78,81.14) scale(1,1.14)" text-anchor="end" font-size="9">5</text>
<line x1="83.5" y1="65.07" x2="88.5" y2="65.07" stroke="#000" stroke-width="1"/>
<text transform="translate(78,68.47) scale(1,1.14)" text-anchor="end" font-size="9">10</text>
<line x1="83.5" y1="52.41" x2="88.5" y2="52.41" stroke="#000" stroke-width="1"/>
<text transform="translate(78,55.81) scale(1,1.14)" text-anchor="end" font-size="9">15</text>
<line x1="83.5" y1="39.74" x2="88.5" y2="39.74" stroke="#000" stroke-width="1"/>
<text transform="translate(78,43.14) scale(1,1.14)" text-anchor="end" font-size="9">20</text>
<line x1="83.5" y1="27.08" x2="88.5" y2="27.08" stroke="#000" stroke-width="1"/>
<text transform="translate(78,30.48) scale(1,1.14)" text-anchor="end" font-size="9">25</text>
<line x1="83.5" y1="14.41" x2="88.5" y2="14.41" stroke="#000" stroke-width="1"/>
<text transform="translate(78,17.81) scale(1,1.14)" text-anchor="end" font-size="9">30</text>
<line x1="935.5" y1="90.4" x2="940.5" y2="90.4" stroke="#000" stroke-width="1"/>
<text transform="translate(952,93.8) scale(1,1.14)" font-size="9">0</text>
<line x1="935.5" y1="65.78" x2="940.5" y2="65.78" stroke="#000" stroke-width="1"/>
<text transform="translate(952,69.18) scale(1,1.14)" font-size="9">5</text>
<line x1="935.5" y1="41.16" x2="940.5" y2="41.16" stroke="#000" stroke-width="1"/>
<text transform="translate(952,44.56) scale(1,1.14)" font-size="9">10</text>
<line x1="935.5" y1="16.54" x2="940.5" y2="16.54" stroke="#000" stroke-width="1"/>
<text transform="translate(952,19.94) scale(1,1.14)" font-size="9">15</text>
<line x1="83.5" y1="99.3" x2="88.5" y2="99.3" stroke="#000" stroke-width="1"/>
<text transform="translate(78,102.7) scale(1,1.14)" text-anchor="end" font-size="9">N</text>
<line x1="83.5" y1="117.75" x2="88.5" y2="117.75" stroke="#000" stroke-width="1"/>
<text transform="translate(78,121.15) scale(1,1.14)" text-anchor="end" font-size="9">W</text>
<line x1="83.5" y1="136.2" x2="88.5" y2="136.2" stroke="#000" stroke-width="1"/>
<text transform="translate(78,139.6) scale(1,1.14)" text-anchor="end" font-size="9">S</text>
<line x1="83.5" y1="154.65" x2="88.5" y2="154.65" stroke="#000" stroke-width="1"/>
<text transform="translate(78,158.05) scale(1,1.14)" text-anchor="end" font-size="9">E</text>
<line x1="83.5" y1="173.1" x2="88.5" y2="173.1" stroke="#000" stroke-width="1"/>
<text transform="translate(78,176.5) scale(1,1.14)" text-anchor="end" font-size="9">N</text>
<line x1="935.5" y1="99.3" x2="940.5" y2="99.3" stroke="#000" stroke-width="1"/>
<text transform="translate(946,102.7) scale(1,1.14)" font-size="9">N</text>
<line x1="935.5" y1="117.75" x2="940.5" y2="117.75" stroke="#000" stroke-width="1"/>
<text transform="translate(946,121.15) scale(1,1.14)" font-size="9">W</text>
<line x1="935.5" y1="136.2" x2="940.5" y2="136.2" stroke="#000" stroke-width="1"/>
<text transform="translate(946,139.6) scale(1,1.14)" font-size="9">S</text>
<line x1="935.5" y1="154.65" x2="940.5" y2="154.65" stroke="#000" stroke-width="1"/>
<text transform="translate(946,158.05) scale(1,1.14)" font-size="9">E</text>
<line x1="935.5" y1="173.1" x2="940.5" y2="173.1" stroke="#000" stroke-width="1"/>
<text transform="translate(946,176.5) scale(1,1.14)" font-size="9">N</text>
<line x1="83.5" y1="253.4" x2="88.5" y2="253.4" stroke="#000" stroke-width="1"/>
<text transform="translate(78,256.8) scale(1,1.14)" text-anchor="end" font-size="9">40</text>
<line x1="83.5" y1="240.72" x2="88.5" y2="240.72" stroke="#000" stroke-width="1"/>
<text transform="translate(78,244.12) scale(1,1.14)" text-anchor="end" font-size="9">45</text>
<line x1="83.5" y1="228.04" x2="88.5" y2="228.04" stroke="#000" stroke-width="1"/>
<text transform="translate(78,231.44) scale(1,1.14)" text-anchor="end" font-size="9">50</text>
<line x1="83.5" y1="215.36" x2="88.5" y2="215.36" stroke="#000" stroke-width="1"/>
<text transform="translate(78,218.76) scale(1,1.14)" text-anchor="end" font-size="9">55</text>
<line x1="83.5" y1="202.68" x2="88.5" y2="202.68" stroke="#000" stroke-width="1"/>
<text transform="translate(78,206.08) scale(1,1.14)" text-anchor="end" font-size="9">60</text>
<line x1="83.5" y1="190" x2="88.5" y2="190" stroke="#000" stroke-width="1"/>
<text transform="translate(78,193.4) scale(1,1.14)" text-anchor="end" font-size="9">65</text>
<line x1="935.5" y1="250.86" x2="940.5" y2="250.86" stroke="#000" stroke-width="1"/>
<text transform="translate(952,254.26) scale(1,1.14)" font-size="9">5</text>
<line x1="935.5" y1="228.04" x2="940.5" y2="228.04" stroke="#000" stroke-width="1"/>
<text transform="translate(952,231.44) scale(1,1.14)" font-size="9">10</text>
<line x1="935.5" y1="205.22" x2="940.5" y2="205.22" stroke="#000" stroke-width="1"/>
<text transform="translate(952,208.62) scale(1,1.14)" font-size="9">15</text>
<line x1="935.5" y1="182.39" x2="940.5" y2="182.39" stroke="#000" stroke-width="1"/>
<text transform="translate(952,185.79) scale(1,1.14)" font-size="9">20</text>
<line x1="83.5" y1="329.6" x2="88.5" y2="329.6" stroke="#000" stroke-width="1"/>
<text transform="translate(78,333) scale(1,1.14)" text-anchor="end" font-size="9">50</text>
<line x1="83.5" y1="313.78" x2="88.5" y2="313.78" stroke="#000" stroke-width="1"/>
<text transform="translate(78,317.18) scale(1,1.14)" text-anchor="end" font-size="9">60</text>
<line x1="83.5" y1="297.95" x2="88.5" y2="297.95" stroke="#000" stroke-width="1"/>
<text transform="translate(78,301.35) scale(1,1.14)" text-anchor="end" font-size="9">70</text>
<line x1="83.5" y1="282.12" x2="88.5" y2="282.12" stroke="#000" stroke-width="1"/>
<text transform="translate(78,285.52) scale(1,1.14)" text-anchor="end" font-size="9">80</text>
<line x1="83.5" y1="266.3" x2="88.5" y2="266.3" stroke="#000" stroke-width="1"/>
<text transform="translate(78,269.7) scale(1,1.14)" text-anchor="end" font-size="9">90</text>
<line x1="935.5" y1="329.6" x2="940.5" y2="329.6" stroke="#000" stroke-width="1"/>
<text transform="translate(946,333) scale(1,1.14)" font-size="9">50</text>
<line x1="935.5" y1="313.78" x2="940.5" y2="313.78" stroke="#000" stroke-width="1"/>
<text transform="translate(946,317.18) scale(1,1.14)" font-size="9">60</text>
<line x1="935.5" y1="297.95" x2="940.5" y2="297.95" stroke="#000" stroke-width="1"/>
<text transform="translate(946,301.35) scale(1,1.14)" font-size="9">70</text>
<line x1="935.5" y1="282.12" x2="940.5" y2="282.12" stroke="#000" stroke-width="1"/>
<text transform="translate(946,285.52) scale(1,1.14)" font-size="9">80</text>
<line x1="935.5" y1="266.3" x2="940.5" y2="266.3" stroke="#000" stroke-width="1"/>
<text transform="translate(946,269.7) scale(1,1.14)" font-size="9">90</text>
<line x1="83.5" y1="423.3" x2="88.5" y2="423.3" stroke="#000" stroke-width="1"/>
<text transform="translate(78,426.7) scale(1,1.14)" text-anchor="end" font-size="9">29.90</text>
<line x1="83.5" y1="409.54" x2="88.5" y2="409.54" stroke="#000" stroke-width="1"/>
<text transform="translate(78,412.94) scale(1,1.14)" text-anchor="end" font-size="9">29.95</text>
<line x1="83.5" y1="395.78" x2="88.5" y2="395.78" stroke="#000" stroke-width="1"/>
<text transform="translate(78,399.18) scale(1,1.14)" text-anchor="end" font-size="9">30.00</text>
<line x1="83.5" y1="382.02" x2="88.5" y2="382.02" stroke="#000" stroke-width="1"/>
<text transform="translate(78,385.42) scale(1,1.14)" text-anchor="end" font-size="9">30.05</text>
<line x1="83.5" y1="368.26" x2="88.5" y2="368.26" stroke="#000" stroke-width="1"/>
<text transform="translate(78,371.66) scale(1,1.14)" text-anchor="end" font-size="9">30.10</text>
<line x1="83.5" y1="354.5" x2="88.5" y2="354.5" stroke="#000" stroke-width="1"/>
<text transform="translate(78,357.9) scale(1,1.14)" text-anchor="end" font-size="9">30.15</text>
<line x1="935.5" y1="411.35" x2="940.5" y2="411.35" stroke="#000" stroke-width="1"/>
<text transform="translate(952,414.75) scale(1,1.14)" font-size="9">1014</text>
<line x1="935.5" y1="395.1" x2="940.5" y2="395.1" stroke="#000" stroke-width="1"/>
<text transform="translate(952,398.5) scale(1,1.14)" font-size="9">1016</text>
<line x1="935.5" y1="378.84" x2="940.5" y2="378.84" stroke="#000" stroke-width="1"/>
<text transform="translate(952,382.24) scale(1,1.14)" font-size="9">1018</text>
<line x1="935.5" y1="362.59" x2="940.5" y2="362.59" stroke="#000" stroke-width="1"/>
<text transform="translate(952,365.99) scale(1,1.14)" font-size="9">1020</text>
<line x1="935.5" y1="346.34" x2="940.5" y2="346.34" stroke="#000" stroke-width="1"/>
<text transform="translate(952,349.74) scale(1,1.14)" font-size="9">1022</text>
<line x1="83.5" y1="503.4" x2="88.5" y2="503.4" stroke="#000" stroke-width="1"/>
<text transform="translate(78,506.8) scale(1,1.14)" text-anchor="end" font-size="9">0.0</text>
<line x1="83.5" y1="487.7" x2="88.5" y2="487.7" stroke="#000" stroke-width="1"/>
<text transform="translate(78,491.1) scale(1,1.14)" text-anchor="end" font-size="9">0.1</text>
<line x1="83.5" y1="472" x2="88.5" y2="472" stroke="#000" stroke-width="1"/>
<text transform="translate(78,475.4) scale(1,1.14)" text-anchor="end" font-size="9">0.2</text>
<line x1="83.5" y1="456.3" x2="88.5" y2="456.3" stroke="#000" stroke-width="1"/>
<text transform="translate(78,459.7) scale(1,1.14)" text-anchor="end" font-size="9">0.3</text>
<line x1="83.5" y1="440.6" x2="88.5" y2="440.6" stroke="#000" stroke-width="1"/>
<text transform="translate(78,444) scale(1,1.14)" text-anchor="end" font-size="9">0.4</text>
<line x1="935.5" y1="503.4" x2="940.5" y2="503.4" stroke="#000" stroke-width="1"/>
<text transform="translate(952,506.8) scale(1,1.14)" font-size="9">0</text>
<line x1="935.5" y1="491.04" x2="940.5" y2="491.04" stroke="#000" stroke-width="1"/>
<text transform="translate(952,494.44) scale(1,1.14)" font-size="9">2</text>
<line x1="935.5" y1="478.68" x2="940.5" y2="478.68" stroke="#000" stroke-width="1"/>
<text transform="translate(952,482.08) scale(1,1.14)" font-size="9">4</text>
<line x1="935.5" y1="466.31" x2="940.5" y2="466.31" stroke="#000" stroke-width="1"/>
<text transform="translate(952,469.71) scale(1,1.14)" font-size="9">6</text>
<line x1="935.5" y1="453.95" x2="940.5" y2="453.95" stroke="#000" stroke-width="1"/>
<text transform="translate(952,457.35) scale(1,1.14)" font-size="9">8</text>
<line x1="935.5" y1="441.59" x2="940.5" y2="441.59" stroke="#000" stroke-width="1"/>
<text transform="translate(952,444.99) scale(1,1.14)" font-size="9">10</text>
<line x1="935.5" y1="429.23" x2="940.5" y2="429.23" stroke="#000" stroke-width="1"/>
<text transform="translate(952,432.63) scale(1,1.14)" font-size="9">12</text>
<line x1="83.5" y1="585.9" x2="88.5" y2="585.9" stroke="#000" stroke-width="1"/>
<text transform="translate(78,589.3) scale(1,1.14)" text-anchor="end" font-size="9">0</text>
<line x1="83.5" y1="572.36" x2="88.5" y2="572.36" stroke="#000" stroke-width="1"/>
<text transform="translate(78,575.76) scale(1,1.14)" text-anchor="end" font-size="9">20</text>
<line x1="83.5" y1="558.82" x2="88.5" y2="558.82" stroke="#000" stroke-width="1"/>
<text transform="translate(78,562.22) scale(1,1.14)" text-anchor="end" font-size="9">40</text>
<line x1="83.5" y1="545.28" x2="88.5" y2="545.28" stroke="#000" stroke-width="1"/>
<text transform="translate(78,548.68) scale(1,1.14)" text-anchor="end" font-size="9">60</text>
<line x1="83.5" y1="531.74" x2="88.5" y2="531.74" stroke="#000" stroke-width="1"/>
<text transform="translate(78,535.14) scale(1,1.14)" text-anchor="end" font-size="9">80</text>
<line x1="83.5" y1="518.2" x2="88.5" y2="518.2" stroke="#000" stroke-width="1"/>
<text transform="translate(78,521.6) scale(1,1.14)" text-anchor="end" font-size="9">100</text>
<line x1="935.5" y1="585.9" x2="940.5" y2="585.9" stroke="#000" stroke-width="1"/>
<text transform="translate(952,589.3) scale(1,1.14)" font-size="9">0</text>
<line x1="935.5" y1="574.25" x2="940.5" y2="574.25" stroke="#000" stroke-width="1"/>
<text transform="translate(952,577.65) scale(1,1.14)" font-size="9">200</text>
<line x1="935.5" y1="562.6" x2="940.5" y2="562.6" stroke="#000" stroke-width="1"/>
<text transform="translate(952,566) scale(1,1.14)" font-size="9">400</text>
<line x1="935.5" y1="550.95" x2="940.5" y2="550.95" stroke="#000" stroke-width="1"/>
<text transform="translate(952,554.35) scale(1,1.14)" font-size="9">600</text>
<line x1="935.5" y1="539.3" x2="940.5" y2="539.3" stroke="#000" stroke-width="1"/>
<text transform="translate(952,542.7) scale(1,1.14)" font-size="9">800</text>
<line x1="935.5" y1="527.65" x2="940.5" y2="527.65" stroke="#000" stroke-width="1"/>
<text transform="translate(952,531.05) scale(1,1.14)" font-size="9">1000</text>
<line x1="935.5" y1="516" x2="940.5" y2="516" stroke="#000" stroke-width="1"/>
<text transform="translate(952,519.4) scale(1,1.14)" font-size="9">1200</text>
<text transform="translate(30.6,54.25) rotate(-90) scale(1,1.08)" text-anchor="middle" font-size="14">wind (kts)</text>
<text transform="translate(999.8,54.25) rotate(-90) scale(1,1.08)" text-anchor="middle" font-size="14">wind (m/s)</text>
<text transform="translate(30.6,137.15) rotate(-90) scale(1,1.08)" text-anchor="middle" font-size="14">dir.</text>
<text transform="translate(999.8,137.15) rotate(-90) scale(1,1.08)" text-anchor="middle" font-size="14">dir.</text>
<text transform="translate(30.6,219.75) rotate(-90) scale(1,1.08)" text-anchor="middle" font-size="14">Tair/Tdew (F)</text>
<text transform="translate(999.8,219.75) rotate(-90) scale(1,1.08)" text-anchor="middle" font-size="14">Tair/Tdew (C)</text>
<text transform="translate(30.6,302.15) rotate(-90) scale(1,1.08)" text-anchor="middle" font-size="14">RH (%)</text>
<text transform="translate(999.8,302.15) rotate(-90) scale(1,1.08)" text-anchor="middle" font-size="14">RH (%)</text>
<text transform="translate(30.6,384.9) rotate(-90) scale(1,1.08)" text-anchor="middle" font-size="14">SLP (inHg)</text>
<text transform="translate(999.8,384.9) rotate(-90) scale(1,1.08)" text-anchor="middle" font-size="14">SLP (hPa)</text>
<text transform="translate(30.6,467.25) rotate(-90) scale(1,1.08)" text-anchor="middle" font-size="14">pcp. (in)</text>
<text transform="translate(999.8,467.25) rotate(-90) scale(1,1.08)" text-anchor="middle" font-size="14">pcp. (mm)</text>
<text transform="translate(30.6,549.95) rotate(-90) scale(1,1.08)" text-anchor="middle" font-size="14">rad(Lgly/hr)</text>
<text transform="translate(999.8,549.95) rotate(-90) scale(1,1.08)" text-anchor="middle" font-size="14">rad (W/m^2)</text>
<line x1="112.99" y1="589.0" x2="112.99" y2="593.2" stroke="#000" stroke-width="1"/>
<text transform="translate(112.99,608.7) scale(1,1.14)" text-anchor="middle" font-size="9">09z</text>
<line x1="148.26" y1="589.0" x2="148.26" y2="596.5" stroke="#000" stroke-width="1"/>
<text transform="translate(148.26,608.7) scale(1,1.14)" text-anchor="middle" font-size="9">12z</text>
<line x1="183.52" y1="589.0" x2="183.52" y2="593.2" stroke="#000" stroke-width="1"/>
<text transform="translate(183.52,608.7) scale(1,1.14)" text-anchor="middle" font-size="9">15z</text>
<line x1="218.78" y1="589.0" x2="218.78" y2="593.2" stroke="#000" stroke-width="1"/>
<text transform="translate(218.78,608.7) scale(1,1.14)" text-anchor="middle" font-size="9">18z</text>
<line x1="254.04" y1="589.0" x2="254.04" y2="593.2" stroke="#000" stroke-width="1"/>
<text transform="translate(254.04,608.7) scale(1,1.14)" text-anchor="middle" font-size="9">21z</text>
<line x1="289.3" y1="589.0" x2="289.3" y2="596.5" stroke="#000" stroke-width="1"/>
<line x1="324.57" y1="589.0" x2="324.57" y2="593.2" stroke="#000" stroke-width="1"/>
<text transform="translate(324.57,608.7) scale(1,1.14)" text-anchor="middle" font-size="9">03z</text>
<line x1="359.83" y1="589.0" x2="359.83" y2="593.2" stroke="#000" stroke-width="1"/>
<text transform="translate(359.83,608.7) scale(1,1.14)" text-anchor="middle" font-size="9">06z</text>
<line x1="395.09" y1="589.0" x2="395.09" y2="593.2" stroke="#000" stroke-width="1"/>
<text transform="translate(395.09,608.7) scale(1,1.14)" text-anchor="middle" font-size="9">09z</text>
<line x1="430.35" y1="589.0" x2="430.35" y2="596.5" stroke="#000" stroke-width="1"/>
<text transform="translate(430.35,608.7) scale(1,1.14)" text-anchor="middle" font-size="9">12z</text>
<line x1="465.61" y1="589.0" x2="465.61" y2="593.2" stroke="#000" stroke-width="1"/>
<text transform="translate(465.61,608.7) scale(1,1.14)" text-anchor="middle" font-size="9">15z</text>
<line x1="500.88" y1="589.0" x2="500.88" y2="593.2" stroke="#000" stroke-width="1"/>
<text transform="translate(500.88,608.7) scale(1,1.14)" text-anchor="middle" font-size="9">18z</text>
<line x1="536.14" y1="589.0" x2="536.14" y2="593.2" stroke="#000" stroke-width="1"/>
<text transform="translate(536.14,608.7) scale(1,1.14)" text-anchor="middle" font-size="9">21z</text>
<line x1="571.4" y1="589.0" x2="571.4" y2="596.5" stroke="#000" stroke-width="1"/>
<line x1="606.66" y1="589.0" x2="606.66" y2="593.2" stroke="#000" stroke-width="1"/>
<text transform="translate(606.66,608.7) scale(1,1.14)" text-anchor="middle" font-size="9">03z</text>
<line x1="641.92" y1="589.0" x2="641.92" y2="593.2" stroke="#000" stroke-width="1"/>
<text transform="translate(641.92,608.7) scale(1,1.14)" text-anchor="middle" font-size="9">06z</text>
<line x1="677.19" y1="589.0" x2="677.19" y2="593.2" stroke="#000" stroke-width="1"/>
<text transform="translate(677.19,608.7) scale(1,1.14)" text-anchor="middle" font-size="9">09z</text>
<line x1="712.45" y1="589.0" x2="712.45" y2="596.5" stroke="#000" stroke-width="1"/>
<text transform="translate(712.45,608.7) scale(1,1.14)" text-anchor="middle" font-size="9">12z</text>
<line x1="747.71" y1="589.0" x2="747.71" y2="593.2" stroke="#000" stroke-width="1"/>
<text transform="translate(747.71,608.7) scale(1,1.14)" text-anchor="middle" font-size="9">15z</text>
<line x1="782.97" y1="589.0" x2="782.97" y2="593.2" stroke="#000" stroke-width="1"/>
<text transform="translate(782.97,608.7) scale(1,1.14)" text-anchor="middle" font-size="9">18z</text>
<line x1="818.23" y1="589.0" x2="818.23" y2="593.2" stroke="#000" stroke-width="1"/>
<text transform="translate(818.23,608.7) scale(1,1.14)" text-anchor="middle" font-size="9">21z</text>
<line x1="853.5" y1="589.0" x2="853.5" y2="596.5" stroke="#000" stroke-width="1"/>
<line x1="888.76" y1="589.0" x2="888.76" y2="593.2" stroke="#000" stroke-width="1"/>
<text transform="translate(888.76,608.7) scale(1,1.14)" text-anchor="middle" font-size="9">03z</text>
<line x1="924.02" y1="589.0" x2="924.02" y2="593.2" stroke="#000" stroke-width="1"/>
<text transform="translate(924.02,608.7) scale(1,1.14)" text-anchor="middle" font-size="9">06z</text>
<text transform="translate(7.21,613.8) scale(1,1.08)" text-anchor="middle" font-size="14" fill="#ff0000">04Jun</text>
<text transform="translate(7.21,630.9) scale(1,1.08)" text-anchor="middle" font-size="14" fill="#ff0000">00z</text>
<text transform="translate(289.3,613.8) scale(1,1.08)" text-anchor="middle" font-size="14" fill="#ff0000">05Jun</text>
<text transform="translate(289.3,630.9) scale(1,1.08)" text-anchor="middle" font-size="14" fill="#ff0000">00z</text>
<text transform="translate(571.4,613.8) scale(1,1.08)" text-anchor="middle" font-size="14" fill="#ff0000">06Jun</text>
<text transform="translate(571.4,630.9) scale(1,1.08)" text-anchor="middle" font-size="14" fill="#ff0000">00z</text>
<text transform="translate(853.5,613.8) scale(1,1.08)" text-anchor="middle" font-size="14" fill="#ff0000">07Jun</text>
<text transform="translate(853.5,630.9) scale(1,1.08)" text-anchor="middle" font-size="14" fill="#ff0000">00z</text>
<text transform="translate(106.5,22.6) scale(1,1.14)" font-size="9.4" fill="#ff0000">10 min. peak winds in red</text>
<text transform="translate(106.1,435.6) scale(1,1.14)" font-size="9.35" fill="#ff0000">Tip increments are approx. 0.00171in. (0.0435mm.)</text>
<text transform="translate(106.1,445) scale(1,1.14)" font-size="9.35" fill="#0000ff">Tip increments are 0.01in. (0.254mm.)</text>
<text transform="translate(46.4,518) scale(1,1.14)" font-size="9.3" fill="#a020f0">Sum of previous day</text>
<text transform="translate(44.4,529.2) scale(1,1.14)" font-size="9.3" fill="#a020f0">&lt;--- 2.68 MJoules/m^2</text>
<text transform="translate(329.4,518) scale(1,1.14)" font-size="9.3" fill="#a020f0">Sum of previous day</text>
<text transform="translate(323.5,529.2) scale(1,1.14)" font-size="9.3" fill="#a020f0">&lt;--- 22.56 MJoules/m^2</text>
<text transform="translate(611.6,518) scale(1,1.14)" font-size="9.3" fill="#a020f0">Sum of previous day</text>
<text transform="translate(606,529.2) scale(1,1.14)" font-size="9.3" fill="#a020f0">&lt;--- 21.99 MJoules/m^2</text>
<text transform="translate(186.4,517.8) scale(1,1.14)" text-anchor="middle" font-size="9.3" fill="#a020f0">1</text>
<text transform="translate(200,517.8) scale(1,1.14)" text-anchor="middle" font-size="9.3" fill="#a020f0">3</text>
<text transform="translate(216.1,517.8) scale(1,1.14)" text-anchor="middle" font-size="9.3" fill="#a020f0">6</text>
<text transform="translate(234.4,517.8) scale(1,1.14)" text-anchor="middle" font-size="9.3" fill="#a020f0">10</text>
<text transform="translate(252.3,517.8) scale(1,1.14)" text-anchor="middle" font-size="9.3" fill="#a020f0">14</text>
<text transform="translate(273.2,517.8) scale(1,1.14)" text-anchor="middle" font-size="9.3" fill="#a020f0">17</text>
<text transform="translate(295.2,517.8) scale(1,1.14)" text-anchor="middle" font-size="9.3" fill="#a020f0">21</text>
<text transform="translate(468,517.8) scale(1,1.14)" text-anchor="middle" font-size="9.3" fill="#a020f0">1</text>
<text transform="translate(481.1,517.8) scale(1,1.14)" text-anchor="middle" font-size="9.3" fill="#a020f0">2</text>
<text transform="translate(495.8,517.8) scale(1,1.14)" text-anchor="middle" font-size="9.3" fill="#a020f0">5</text>
<text transform="translate(509,517.8) scale(1,1.14)" text-anchor="middle" font-size="9.3" fill="#a020f0">9</text>
<text transform="translate(529.5,517.8) scale(1,1.14)" text-anchor="middle" font-size="9.3" fill="#a020f0">14</text>
<text transform="translate(549.1,517.8) scale(1,1.14)" text-anchor="middle" font-size="9.3" fill="#a020f0">17</text>
<text transform="translate(577.3,517.8) scale(1,1.14)" text-anchor="middle" font-size="9.3" fill="#a020f0">21</text>
<text transform="translate(766,517.8) scale(1,1.14)" text-anchor="middle" font-size="9.3" fill="#a020f0">1</text>
<text transform="translate(784.3,517.8) scale(1,1.14)" text-anchor="middle" font-size="9.3" fill="#a020f0">2</text>
<text transform="translate(799.2,517.8) scale(1,1.14)" text-anchor="middle" font-size="9.3" fill="#a020f0">4</text>
<text transform="translate(819.8,517.8) scale(1,1.14)" text-anchor="middle" font-size="9.3" fill="#a020f0">6</text>
<text transform="translate(836.7,517.8) scale(1,1.14)" text-anchor="middle" font-size="9.3" fill="#a020f0">8</text>
<text transform="translate(877.2,517.8) scale(1,1.14)" text-anchor="middle" font-size="9.3" fill="#a020f0">11</text>
<path d="M186,509.3v2.8M191.88,509.3v2.8M197.76,509.3v2.8M203.64,509.3v2.8M209.52,509.3v2.8M215.4,509.3v2.8M221.28,509.3v2.8M227.16,509.3v2.8M233.04,509.3v2.8M238.92,509.3v2.8M244.8,509.3v2.8M250.68,509.3v2.8M256.56,509.3v2.8M262.44,509.3v2.8M268.32,509.3v2.8M274.2,509.3v2.8M280.08,509.3v2.8M285.96,509.3v2.8M291.84,509.3v2.8M297.72,509.3v2.8M303.6,509.3v2.8M309.48,509.3v2.8M466,509.3v2.8M471.88,509.3v2.8M477.76,509.3v2.8M483.64,509.3v2.8M489.52,509.3v2.8M495.4,509.3v2.8M501.28,509.3v2.8M507.16,509.3v2.8M513.04,509.3v2.8M518.92,509.3v2.8M524.8,509.3v2.8M530.68,509.3v2.8M536.56,509.3v2.8M542.44,509.3v2.8M548.32,509.3v2.8M554.2,509.3v2.8M560.08,509.3v2.8M565.96,509.3v2.8M571.84,509.3v2.8M577.72,509.3v2.8M583.6,509.3v2.8M589.48,509.3v2.8M794.3,509.3v2.8M808.3,509.3v2.8M831.8,509.3v2.8M844.4,509.3v2.8M850.5,509.3v2.8" stroke="#000" stroke-width="0.9" fill="none"/>
<text transform="translate(512.2,664.8) scale(1,1.08)" text-anchor="middle" font-size="16.62" fill="#0000ff" xml:space="preserve">UW Rooftop Data for 20210604  to  20210607 @ 06:56:49  (UTC)</text>
</svg></body></html>
